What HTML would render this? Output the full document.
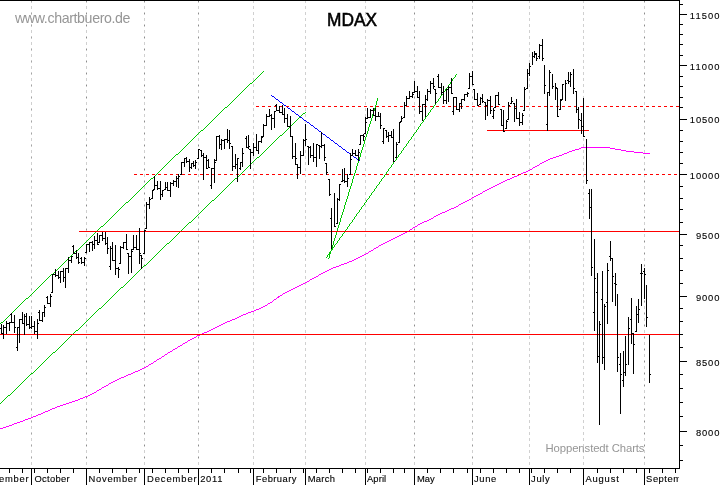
<!DOCTYPE html>
<html><head><meta charset="utf-8"><title>MDAX</title>
<style>
html,body{margin:0;padding:0;background:#fff;}
body{width:723px;height:485px;overflow:hidden;}
svg{display:block;font-family:"Liberation Sans",sans-serif;}
#wrap{will-change:transform;}
</style></head><body><div id="wrap">
<svg width="723" height="485" viewBox="0 0 723 485" shape-rendering="crispEdges">
<rect x="0" y="0" width="723" height="485" fill="#fff"/>
<g><rect x="31" y="0" width="1" height="3" fill="#cacaca"/><rect x="31" y="1" width="1" height="1" fill="#a4a4a4"/><rect x="31" y="6" width="1" height="3" fill="#d0d0d0"/><rect x="31" y="12" width="1" height="3" fill="#cacaca"/><rect x="31" y="13" width="1" height="1" fill="#a4a4a4"/><rect x="31" y="18" width="1" height="3" fill="#d0d0d0"/><rect x="31" y="24" width="1" height="3" fill="#cacaca"/><rect x="31" y="25" width="1" height="1" fill="#a4a4a4"/><rect x="31" y="30" width="1" height="3" fill="#d0d0d0"/><rect x="31" y="36" width="1" height="3" fill="#cacaca"/><rect x="31" y="37" width="1" height="1" fill="#a4a4a4"/><rect x="31" y="42" width="1" height="3" fill="#d0d0d0"/><rect x="31" y="48" width="1" height="3" fill="#cacaca"/><rect x="31" y="49" width="1" height="1" fill="#a4a4a4"/><rect x="31" y="54" width="1" height="3" fill="#d0d0d0"/><rect x="31" y="60" width="1" height="3" fill="#cacaca"/><rect x="31" y="61" width="1" height="1" fill="#a4a4a4"/><rect x="31" y="66" width="1" height="3" fill="#d0d0d0"/><rect x="31" y="72" width="1" height="3" fill="#cacaca"/><rect x="31" y="73" width="1" height="1" fill="#a4a4a4"/><rect x="31" y="78" width="1" height="3" fill="#d0d0d0"/><rect x="31" y="84" width="1" height="3" fill="#cacaca"/><rect x="31" y="85" width="1" height="1" fill="#a4a4a4"/><rect x="31" y="90" width="1" height="3" fill="#d0d0d0"/><rect x="31" y="96" width="1" height="3" fill="#cacaca"/><rect x="31" y="97" width="1" height="1" fill="#a4a4a4"/><rect x="31" y="102" width="1" height="3" fill="#d0d0d0"/><rect x="31" y="108" width="1" height="3" fill="#cacaca"/><rect x="31" y="109" width="1" height="1" fill="#a4a4a4"/><rect x="31" y="114" width="1" height="3" fill="#d0d0d0"/><rect x="31" y="120" width="1" height="3" fill="#cacaca"/><rect x="31" y="121" width="1" height="1" fill="#a4a4a4"/><rect x="31" y="126" width="1" height="3" fill="#d0d0d0"/><rect x="31" y="132" width="1" height="3" fill="#cacaca"/><rect x="31" y="133" width="1" height="1" fill="#a4a4a4"/><rect x="31" y="138" width="1" height="3" fill="#d0d0d0"/><rect x="31" y="144" width="1" height="3" fill="#cacaca"/><rect x="31" y="145" width="1" height="1" fill="#a4a4a4"/><rect x="31" y="150" width="1" height="3" fill="#d0d0d0"/><rect x="31" y="156" width="1" height="3" fill="#cacaca"/><rect x="31" y="157" width="1" height="1" fill="#a4a4a4"/><rect x="31" y="162" width="1" height="3" fill="#d0d0d0"/><rect x="31" y="168" width="1" height="3" fill="#cacaca"/><rect x="31" y="169" width="1" height="1" fill="#a4a4a4"/><rect x="31" y="174" width="1" height="3" fill="#d0d0d0"/><rect x="31" y="180" width="1" height="3" fill="#cacaca"/><rect x="31" y="181" width="1" height="1" fill="#a4a4a4"/><rect x="31" y="186" width="1" height="3" fill="#d0d0d0"/><rect x="31" y="192" width="1" height="3" fill="#cacaca"/><rect x="31" y="193" width="1" height="1" fill="#a4a4a4"/><rect x="31" y="198" width="1" height="3" fill="#d0d0d0"/><rect x="31" y="204" width="1" height="3" fill="#cacaca"/><rect x="31" y="205" width="1" height="1" fill="#a4a4a4"/><rect x="31" y="210" width="1" height="3" fill="#d0d0d0"/><rect x="31" y="216" width="1" height="3" fill="#cacaca"/><rect x="31" y="217" width="1" height="1" fill="#a4a4a4"/><rect x="31" y="222" width="1" height="3" fill="#d0d0d0"/><rect x="31" y="228" width="1" height="3" fill="#cacaca"/><rect x="31" y="229" width="1" height="1" fill="#a4a4a4"/><rect x="31" y="234" width="1" height="3" fill="#d0d0d0"/><rect x="31" y="240" width="1" height="3" fill="#cacaca"/><rect x="31" y="241" width="1" height="1" fill="#a4a4a4"/><rect x="31" y="246" width="1" height="3" fill="#d0d0d0"/><rect x="31" y="252" width="1" height="3" fill="#cacaca"/><rect x="31" y="253" width="1" height="1" fill="#a4a4a4"/><rect x="31" y="258" width="1" height="3" fill="#d0d0d0"/><rect x="31" y="264" width="1" height="3" fill="#cacaca"/><rect x="31" y="265" width="1" height="1" fill="#a4a4a4"/><rect x="31" y="270" width="1" height="3" fill="#d0d0d0"/><rect x="31" y="276" width="1" height="3" fill="#cacaca"/><rect x="31" y="277" width="1" height="1" fill="#a4a4a4"/><rect x="31" y="282" width="1" height="3" fill="#d0d0d0"/><rect x="31" y="288" width="1" height="3" fill="#cacaca"/><rect x="31" y="289" width="1" height="1" fill="#a4a4a4"/><rect x="31" y="294" width="1" height="3" fill="#d0d0d0"/><rect x="31" y="300" width="1" height="3" fill="#cacaca"/><rect x="31" y="301" width="1" height="1" fill="#a4a4a4"/><rect x="31" y="306" width="1" height="3" fill="#d0d0d0"/><rect x="31" y="312" width="1" height="3" fill="#cacaca"/><rect x="31" y="313" width="1" height="1" fill="#a4a4a4"/><rect x="31" y="318" width="1" height="3" fill="#d0d0d0"/><rect x="31" y="324" width="1" height="3" fill="#cacaca"/><rect x="31" y="325" width="1" height="1" fill="#a4a4a4"/><rect x="31" y="330" width="1" height="3" fill="#d0d0d0"/><rect x="31" y="336" width="1" height="3" fill="#cacaca"/><rect x="31" y="337" width="1" height="1" fill="#a4a4a4"/><rect x="31" y="342" width="1" height="3" fill="#d0d0d0"/><rect x="31" y="348" width="1" height="3" fill="#cacaca"/><rect x="31" y="349" width="1" height="1" fill="#a4a4a4"/><rect x="31" y="354" width="1" height="3" fill="#d0d0d0"/><rect x="31" y="360" width="1" height="3" fill="#cacaca"/><rect x="31" y="361" width="1" height="1" fill="#a4a4a4"/><rect x="31" y="366" width="1" height="3" fill="#d0d0d0"/><rect x="31" y="372" width="1" height="3" fill="#cacaca"/><rect x="31" y="373" width="1" height="1" fill="#a4a4a4"/><rect x="31" y="378" width="1" height="3" fill="#d0d0d0"/><rect x="31" y="384" width="1" height="3" fill="#cacaca"/><rect x="31" y="385" width="1" height="1" fill="#a4a4a4"/><rect x="31" y="390" width="1" height="3" fill="#d0d0d0"/><rect x="31" y="396" width="1" height="3" fill="#cacaca"/><rect x="31" y="397" width="1" height="1" fill="#a4a4a4"/><rect x="31" y="402" width="1" height="3" fill="#d0d0d0"/><rect x="31" y="408" width="1" height="3" fill="#cacaca"/><rect x="31" y="409" width="1" height="1" fill="#a4a4a4"/><rect x="31" y="414" width="1" height="3" fill="#d0d0d0"/><rect x="31" y="420" width="1" height="3" fill="#cacaca"/><rect x="31" y="421" width="1" height="1" fill="#a4a4a4"/><rect x="31" y="426" width="1" height="3" fill="#d0d0d0"/><rect x="31" y="432" width="1" height="3" fill="#cacaca"/><rect x="31" y="433" width="1" height="1" fill="#a4a4a4"/><rect x="31" y="438" width="1" height="3" fill="#d0d0d0"/><rect x="31" y="444" width="1" height="3" fill="#cacaca"/><rect x="31" y="445" width="1" height="1" fill="#a4a4a4"/><rect x="31" y="450" width="1" height="3" fill="#d0d0d0"/><rect x="31" y="456" width="1" height="3" fill="#cacaca"/><rect x="31" y="457" width="1" height="1" fill="#a4a4a4"/><rect x="31" y="462" width="1" height="3" fill="#d0d0d0"/><rect x="86" y="0" width="1" height="3" fill="#cacaca"/><rect x="86" y="1" width="1" height="1" fill="#8c8c8c"/><rect x="86" y="6" width="1" height="3" fill="#d0d0d0"/><rect x="86" y="12" width="1" height="3" fill="#cacaca"/><rect x="86" y="13" width="1" height="1" fill="#8c8c8c"/><rect x="86" y="18" width="1" height="3" fill="#d0d0d0"/><rect x="86" y="24" width="1" height="3" fill="#cacaca"/><rect x="86" y="25" width="1" height="1" fill="#8c8c8c"/><rect x="86" y="30" width="1" height="3" fill="#d0d0d0"/><rect x="86" y="36" width="1" height="3" fill="#cacaca"/><rect x="86" y="37" width="1" height="1" fill="#8c8c8c"/><rect x="86" y="42" width="1" height="3" fill="#d0d0d0"/><rect x="86" y="48" width="1" height="3" fill="#cacaca"/><rect x="86" y="49" width="1" height="1" fill="#8c8c8c"/><rect x="86" y="54" width="1" height="3" fill="#d0d0d0"/><rect x="86" y="60" width="1" height="3" fill="#cacaca"/><rect x="86" y="61" width="1" height="1" fill="#8c8c8c"/><rect x="86" y="66" width="1" height="3" fill="#d0d0d0"/><rect x="86" y="72" width="1" height="3" fill="#cacaca"/><rect x="86" y="73" width="1" height="1" fill="#8c8c8c"/><rect x="86" y="78" width="1" height="3" fill="#d0d0d0"/><rect x="86" y="84" width="1" height="3" fill="#cacaca"/><rect x="86" y="85" width="1" height="1" fill="#8c8c8c"/><rect x="86" y="90" width="1" height="3" fill="#d0d0d0"/><rect x="86" y="96" width="1" height="3" fill="#cacaca"/><rect x="86" y="97" width="1" height="1" fill="#8c8c8c"/><rect x="86" y="102" width="1" height="3" fill="#d0d0d0"/><rect x="86" y="108" width="1" height="3" fill="#cacaca"/><rect x="86" y="109" width="1" height="1" fill="#8c8c8c"/><rect x="86" y="114" width="1" height="3" fill="#d0d0d0"/><rect x="86" y="120" width="1" height="3" fill="#cacaca"/><rect x="86" y="121" width="1" height="1" fill="#8c8c8c"/><rect x="86" y="126" width="1" height="3" fill="#d0d0d0"/><rect x="86" y="132" width="1" height="3" fill="#cacaca"/><rect x="86" y="133" width="1" height="1" fill="#8c8c8c"/><rect x="86" y="138" width="1" height="3" fill="#d0d0d0"/><rect x="86" y="144" width="1" height="3" fill="#cacaca"/><rect x="86" y="145" width="1" height="1" fill="#8c8c8c"/><rect x="86" y="150" width="1" height="3" fill="#d0d0d0"/><rect x="86" y="156" width="1" height="3" fill="#cacaca"/><rect x="86" y="157" width="1" height="1" fill="#8c8c8c"/><rect x="86" y="162" width="1" height="3" fill="#d0d0d0"/><rect x="86" y="168" width="1" height="3" fill="#cacaca"/><rect x="86" y="169" width="1" height="1" fill="#8c8c8c"/><rect x="86" y="174" width="1" height="3" fill="#d0d0d0"/><rect x="86" y="180" width="1" height="3" fill="#cacaca"/><rect x="86" y="181" width="1" height="1" fill="#8c8c8c"/><rect x="86" y="186" width="1" height="3" fill="#d0d0d0"/><rect x="86" y="192" width="1" height="3" fill="#cacaca"/><rect x="86" y="193" width="1" height="1" fill="#8c8c8c"/><rect x="86" y="198" width="1" height="3" fill="#d0d0d0"/><rect x="86" y="204" width="1" height="3" fill="#cacaca"/><rect x="86" y="205" width="1" height="1" fill="#8c8c8c"/><rect x="86" y="210" width="1" height="3" fill="#d0d0d0"/><rect x="86" y="216" width="1" height="3" fill="#cacaca"/><rect x="86" y="217" width="1" height="1" fill="#8c8c8c"/><rect x="86" y="222" width="1" height="3" fill="#d0d0d0"/><rect x="86" y="228" width="1" height="3" fill="#cacaca"/><rect x="86" y="229" width="1" height="1" fill="#8c8c8c"/><rect x="86" y="234" width="1" height="3" fill="#d0d0d0"/><rect x="86" y="240" width="1" height="3" fill="#cacaca"/><rect x="86" y="241" width="1" height="1" fill="#8c8c8c"/><rect x="86" y="246" width="1" height="3" fill="#d0d0d0"/><rect x="86" y="252" width="1" height="3" fill="#cacaca"/><rect x="86" y="253" width="1" height="1" fill="#8c8c8c"/><rect x="86" y="258" width="1" height="3" fill="#d0d0d0"/><rect x="86" y="264" width="1" height="3" fill="#cacaca"/><rect x="86" y="265" width="1" height="1" fill="#8c8c8c"/><rect x="86" y="270" width="1" height="3" fill="#d0d0d0"/><rect x="86" y="276" width="1" height="3" fill="#cacaca"/><rect x="86" y="277" width="1" height="1" fill="#8c8c8c"/><rect x="86" y="282" width="1" height="3" fill="#d0d0d0"/><rect x="86" y="288" width="1" height="3" fill="#cacaca"/><rect x="86" y="289" width="1" height="1" fill="#8c8c8c"/><rect x="86" y="294" width="1" height="3" fill="#d0d0d0"/><rect x="86" y="300" width="1" height="3" fill="#cacaca"/><rect x="86" y="301" width="1" height="1" fill="#8c8c8c"/><rect x="86" y="306" width="1" height="3" fill="#d0d0d0"/><rect x="86" y="312" width="1" height="3" fill="#cacaca"/><rect x="86" y="313" width="1" height="1" fill="#8c8c8c"/><rect x="86" y="318" width="1" height="3" fill="#d0d0d0"/><rect x="86" y="324" width="1" height="3" fill="#cacaca"/><rect x="86" y="325" width="1" height="1" fill="#8c8c8c"/><rect x="86" y="330" width="1" height="3" fill="#d0d0d0"/><rect x="86" y="336" width="1" height="3" fill="#cacaca"/><rect x="86" y="337" width="1" height="1" fill="#8c8c8c"/><rect x="86" y="342" width="1" height="3" fill="#d0d0d0"/><rect x="86" y="348" width="1" height="3" fill="#cacaca"/><rect x="86" y="349" width="1" height="1" fill="#8c8c8c"/><rect x="86" y="354" width="1" height="3" fill="#d0d0d0"/><rect x="86" y="360" width="1" height="3" fill="#cacaca"/><rect x="86" y="361" width="1" height="1" fill="#8c8c8c"/><rect x="86" y="366" width="1" height="3" fill="#d0d0d0"/><rect x="86" y="372" width="1" height="3" fill="#cacaca"/><rect x="86" y="373" width="1" height="1" fill="#8c8c8c"/><rect x="86" y="378" width="1" height="3" fill="#d0d0d0"/><rect x="86" y="384" width="1" height="3" fill="#cacaca"/><rect x="86" y="385" width="1" height="1" fill="#8c8c8c"/><rect x="86" y="390" width="1" height="3" fill="#d0d0d0"/><rect x="86" y="396" width="1" height="3" fill="#cacaca"/><rect x="86" y="397" width="1" height="1" fill="#8c8c8c"/><rect x="86" y="402" width="1" height="3" fill="#d0d0d0"/><rect x="86" y="408" width="1" height="3" fill="#cacaca"/><rect x="86" y="409" width="1" height="1" fill="#8c8c8c"/><rect x="86" y="414" width="1" height="3" fill="#d0d0d0"/><rect x="86" y="420" width="1" height="3" fill="#cacaca"/><rect x="86" y="421" width="1" height="1" fill="#8c8c8c"/><rect x="86" y="426" width="1" height="3" fill="#d0d0d0"/><rect x="86" y="432" width="1" height="3" fill="#cacaca"/><rect x="86" y="433" width="1" height="1" fill="#8c8c8c"/><rect x="86" y="438" width="1" height="3" fill="#d0d0d0"/><rect x="86" y="444" width="1" height="3" fill="#cacaca"/><rect x="86" y="445" width="1" height="1" fill="#8c8c8c"/><rect x="86" y="450" width="1" height="3" fill="#d0d0d0"/><rect x="86" y="456" width="1" height="3" fill="#cacaca"/><rect x="86" y="457" width="1" height="1" fill="#8c8c8c"/><rect x="86" y="462" width="1" height="3" fill="#d0d0d0"/><rect x="144" y="0" width="1" height="3" fill="#cacaca"/><rect x="144" y="1" width="1" height="1" fill="#8c8c8c"/><rect x="144" y="6" width="1" height="3" fill="#d0d0d0"/><rect x="144" y="12" width="1" height="3" fill="#cacaca"/><rect x="144" y="13" width="1" height="1" fill="#8c8c8c"/><rect x="144" y="18" width="1" height="3" fill="#d0d0d0"/><rect x="144" y="24" width="1" height="3" fill="#cacaca"/><rect x="144" y="25" width="1" height="1" fill="#8c8c8c"/><rect x="144" y="30" width="1" height="3" fill="#d0d0d0"/><rect x="144" y="36" width="1" height="3" fill="#cacaca"/><rect x="144" y="37" width="1" height="1" fill="#8c8c8c"/><rect x="144" y="42" width="1" height="3" fill="#d0d0d0"/><rect x="144" y="48" width="1" height="3" fill="#cacaca"/><rect x="144" y="49" width="1" height="1" fill="#8c8c8c"/><rect x="144" y="54" width="1" height="3" fill="#d0d0d0"/><rect x="144" y="60" width="1" height="3" fill="#cacaca"/><rect x="144" y="61" width="1" height="1" fill="#8c8c8c"/><rect x="144" y="66" width="1" height="3" fill="#d0d0d0"/><rect x="144" y="72" width="1" height="3" fill="#cacaca"/><rect x="144" y="73" width="1" height="1" fill="#8c8c8c"/><rect x="144" y="78" width="1" height="3" fill="#d0d0d0"/><rect x="144" y="84" width="1" height="3" fill="#cacaca"/><rect x="144" y="85" width="1" height="1" fill="#8c8c8c"/><rect x="144" y="90" width="1" height="3" fill="#d0d0d0"/><rect x="144" y="96" width="1" height="3" fill="#cacaca"/><rect x="144" y="97" width="1" height="1" fill="#8c8c8c"/><rect x="144" y="102" width="1" height="3" fill="#d0d0d0"/><rect x="144" y="108" width="1" height="3" fill="#cacaca"/><rect x="144" y="109" width="1" height="1" fill="#8c8c8c"/><rect x="144" y="114" width="1" height="3" fill="#d0d0d0"/><rect x="144" y="120" width="1" height="3" fill="#cacaca"/><rect x="144" y="121" width="1" height="1" fill="#8c8c8c"/><rect x="144" y="126" width="1" height="3" fill="#d0d0d0"/><rect x="144" y="132" width="1" height="3" fill="#cacaca"/><rect x="144" y="133" width="1" height="1" fill="#8c8c8c"/><rect x="144" y="138" width="1" height="3" fill="#d0d0d0"/><rect x="144" y="144" width="1" height="3" fill="#cacaca"/><rect x="144" y="145" width="1" height="1" fill="#8c8c8c"/><rect x="144" y="150" width="1" height="3" fill="#d0d0d0"/><rect x="144" y="156" width="1" height="3" fill="#cacaca"/><rect x="144" y="157" width="1" height="1" fill="#8c8c8c"/><rect x="144" y="162" width="1" height="3" fill="#d0d0d0"/><rect x="144" y="168" width="1" height="3" fill="#cacaca"/><rect x="144" y="169" width="1" height="1" fill="#8c8c8c"/><rect x="144" y="174" width="1" height="3" fill="#d0d0d0"/><rect x="144" y="180" width="1" height="3" fill="#cacaca"/><rect x="144" y="181" width="1" height="1" fill="#8c8c8c"/><rect x="144" y="186" width="1" height="3" fill="#d0d0d0"/><rect x="144" y="192" width="1" height="3" fill="#cacaca"/><rect x="144" y="193" width="1" height="1" fill="#8c8c8c"/><rect x="144" y="198" width="1" height="3" fill="#d0d0d0"/><rect x="144" y="204" width="1" height="3" fill="#cacaca"/><rect x="144" y="205" width="1" height="1" fill="#8c8c8c"/><rect x="144" y="210" width="1" height="3" fill="#d0d0d0"/><rect x="144" y="216" width="1" height="3" fill="#cacaca"/><rect x="144" y="217" width="1" height="1" fill="#8c8c8c"/><rect x="144" y="222" width="1" height="3" fill="#d0d0d0"/><rect x="144" y="228" width="1" height="3" fill="#cacaca"/><rect x="144" y="229" width="1" height="1" fill="#8c8c8c"/><rect x="144" y="234" width="1" height="3" fill="#d0d0d0"/><rect x="144" y="240" width="1" height="3" fill="#cacaca"/><rect x="144" y="241" width="1" height="1" fill="#8c8c8c"/><rect x="144" y="246" width="1" height="3" fill="#d0d0d0"/><rect x="144" y="252" width="1" height="3" fill="#cacaca"/><rect x="144" y="253" width="1" height="1" fill="#8c8c8c"/><rect x="144" y="258" width="1" height="3" fill="#d0d0d0"/><rect x="144" y="264" width="1" height="3" fill="#cacaca"/><rect x="144" y="265" width="1" height="1" fill="#8c8c8c"/><rect x="144" y="270" width="1" height="3" fill="#d0d0d0"/><rect x="144" y="276" width="1" height="3" fill="#cacaca"/><rect x="144" y="277" width="1" height="1" fill="#8c8c8c"/><rect x="144" y="282" width="1" height="3" fill="#d0d0d0"/><rect x="144" y="288" width="1" height="3" fill="#cacaca"/><rect x="144" y="289" width="1" height="1" fill="#8c8c8c"/><rect x="144" y="294" width="1" height="3" fill="#d0d0d0"/><rect x="144" y="300" width="1" height="3" fill="#cacaca"/><rect x="144" y="301" width="1" height="1" fill="#8c8c8c"/><rect x="144" y="306" width="1" height="3" fill="#d0d0d0"/><rect x="144" y="312" width="1" height="3" fill="#cacaca"/><rect x="144" y="313" width="1" height="1" fill="#8c8c8c"/><rect x="144" y="318" width="1" height="3" fill="#d0d0d0"/><rect x="144" y="324" width="1" height="3" fill="#cacaca"/><rect x="144" y="325" width="1" height="1" fill="#8c8c8c"/><rect x="144" y="330" width="1" height="3" fill="#d0d0d0"/><rect x="144" y="336" width="1" height="3" fill="#cacaca"/><rect x="144" y="337" width="1" height="1" fill="#8c8c8c"/><rect x="144" y="342" width="1" height="3" fill="#d0d0d0"/><rect x="144" y="348" width="1" height="3" fill="#cacaca"/><rect x="144" y="349" width="1" height="1" fill="#8c8c8c"/><rect x="144" y="354" width="1" height="3" fill="#d0d0d0"/><rect x="144" y="360" width="1" height="3" fill="#cacaca"/><rect x="144" y="361" width="1" height="1" fill="#8c8c8c"/><rect x="144" y="366" width="1" height="3" fill="#d0d0d0"/><rect x="144" y="372" width="1" height="3" fill="#cacaca"/><rect x="144" y="373" width="1" height="1" fill="#8c8c8c"/><rect x="144" y="378" width="1" height="3" fill="#d0d0d0"/><rect x="144" y="384" width="1" height="3" fill="#cacaca"/><rect x="144" y="385" width="1" height="1" fill="#8c8c8c"/><rect x="144" y="390" width="1" height="3" fill="#d0d0d0"/><rect x="144" y="396" width="1" height="3" fill="#cacaca"/><rect x="144" y="397" width="1" height="1" fill="#8c8c8c"/><rect x="144" y="402" width="1" height="3" fill="#d0d0d0"/><rect x="144" y="408" width="1" height="3" fill="#cacaca"/><rect x="144" y="409" width="1" height="1" fill="#8c8c8c"/><rect x="144" y="414" width="1" height="3" fill="#d0d0d0"/><rect x="144" y="420" width="1" height="3" fill="#cacaca"/><rect x="144" y="421" width="1" height="1" fill="#8c8c8c"/><rect x="144" y="426" width="1" height="3" fill="#d0d0d0"/><rect x="144" y="432" width="1" height="3" fill="#cacaca"/><rect x="144" y="433" width="1" height="1" fill="#8c8c8c"/><rect x="144" y="438" width="1" height="3" fill="#d0d0d0"/><rect x="144" y="444" width="1" height="3" fill="#cacaca"/><rect x="144" y="445" width="1" height="1" fill="#8c8c8c"/><rect x="144" y="450" width="1" height="3" fill="#d0d0d0"/><rect x="144" y="456" width="1" height="3" fill="#cacaca"/><rect x="144" y="457" width="1" height="1" fill="#8c8c8c"/><rect x="144" y="462" width="1" height="3" fill="#d0d0d0"/><rect x="198" y="0" width="1" height="3" fill="#cacaca"/><rect x="198" y="1" width="1" height="1" fill="#8c8c8c"/><rect x="198" y="6" width="1" height="3" fill="#d0d0d0"/><rect x="198" y="12" width="1" height="3" fill="#cacaca"/><rect x="198" y="13" width="1" height="1" fill="#8c8c8c"/><rect x="198" y="18" width="1" height="3" fill="#d0d0d0"/><rect x="198" y="24" width="1" height="3" fill="#cacaca"/><rect x="198" y="25" width="1" height="1" fill="#8c8c8c"/><rect x="198" y="30" width="1" height="3" fill="#d0d0d0"/><rect x="198" y="36" width="1" height="3" fill="#cacaca"/><rect x="198" y="37" width="1" height="1" fill="#8c8c8c"/><rect x="198" y="42" width="1" height="3" fill="#d0d0d0"/><rect x="198" y="48" width="1" height="3" fill="#cacaca"/><rect x="198" y="49" width="1" height="1" fill="#8c8c8c"/><rect x="198" y="54" width="1" height="3" fill="#d0d0d0"/><rect x="198" y="60" width="1" height="3" fill="#cacaca"/><rect x="198" y="61" width="1" height="1" fill="#8c8c8c"/><rect x="198" y="66" width="1" height="3" fill="#d0d0d0"/><rect x="198" y="72" width="1" height="3" fill="#cacaca"/><rect x="198" y="73" width="1" height="1" fill="#8c8c8c"/><rect x="198" y="78" width="1" height="3" fill="#d0d0d0"/><rect x="198" y="84" width="1" height="3" fill="#cacaca"/><rect x="198" y="85" width="1" height="1" fill="#8c8c8c"/><rect x="198" y="90" width="1" height="3" fill="#d0d0d0"/><rect x="198" y="96" width="1" height="3" fill="#cacaca"/><rect x="198" y="97" width="1" height="1" fill="#8c8c8c"/><rect x="198" y="102" width="1" height="3" fill="#d0d0d0"/><rect x="198" y="108" width="1" height="3" fill="#cacaca"/><rect x="198" y="109" width="1" height="1" fill="#8c8c8c"/><rect x="198" y="114" width="1" height="3" fill="#d0d0d0"/><rect x="198" y="120" width="1" height="3" fill="#cacaca"/><rect x="198" y="121" width="1" height="1" fill="#8c8c8c"/><rect x="198" y="126" width="1" height="3" fill="#d0d0d0"/><rect x="198" y="132" width="1" height="3" fill="#cacaca"/><rect x="198" y="133" width="1" height="1" fill="#8c8c8c"/><rect x="198" y="138" width="1" height="3" fill="#d0d0d0"/><rect x="198" y="144" width="1" height="3" fill="#cacaca"/><rect x="198" y="145" width="1" height="1" fill="#8c8c8c"/><rect x="198" y="150" width="1" height="3" fill="#d0d0d0"/><rect x="198" y="156" width="1" height="3" fill="#cacaca"/><rect x="198" y="157" width="1" height="1" fill="#8c8c8c"/><rect x="198" y="162" width="1" height="3" fill="#d0d0d0"/><rect x="198" y="168" width="1" height="3" fill="#cacaca"/><rect x="198" y="169" width="1" height="1" fill="#8c8c8c"/><rect x="198" y="174" width="1" height="3" fill="#d0d0d0"/><rect x="198" y="180" width="1" height="3" fill="#cacaca"/><rect x="198" y="181" width="1" height="1" fill="#8c8c8c"/><rect x="198" y="186" width="1" height="3" fill="#d0d0d0"/><rect x="198" y="192" width="1" height="3" fill="#cacaca"/><rect x="198" y="193" width="1" height="1" fill="#8c8c8c"/><rect x="198" y="198" width="1" height="3" fill="#d0d0d0"/><rect x="198" y="204" width="1" height="3" fill="#cacaca"/><rect x="198" y="205" width="1" height="1" fill="#8c8c8c"/><rect x="198" y="210" width="1" height="3" fill="#d0d0d0"/><rect x="198" y="216" width="1" height="3" fill="#cacaca"/><rect x="198" y="217" width="1" height="1" fill="#8c8c8c"/><rect x="198" y="222" width="1" height="3" fill="#d0d0d0"/><rect x="198" y="228" width="1" height="3" fill="#cacaca"/><rect x="198" y="229" width="1" height="1" fill="#8c8c8c"/><rect x="198" y="234" width="1" height="3" fill="#d0d0d0"/><rect x="198" y="240" width="1" height="3" fill="#cacaca"/><rect x="198" y="241" width="1" height="1" fill="#8c8c8c"/><rect x="198" y="246" width="1" height="3" fill="#d0d0d0"/><rect x="198" y="252" width="1" height="3" fill="#cacaca"/><rect x="198" y="253" width="1" height="1" fill="#8c8c8c"/><rect x="198" y="258" width="1" height="3" fill="#d0d0d0"/><rect x="198" y="264" width="1" height="3" fill="#cacaca"/><rect x="198" y="265" width="1" height="1" fill="#8c8c8c"/><rect x="198" y="270" width="1" height="3" fill="#d0d0d0"/><rect x="198" y="276" width="1" height="3" fill="#cacaca"/><rect x="198" y="277" width="1" height="1" fill="#8c8c8c"/><rect x="198" y="282" width="1" height="3" fill="#d0d0d0"/><rect x="198" y="288" width="1" height="3" fill="#cacaca"/><rect x="198" y="289" width="1" height="1" fill="#8c8c8c"/><rect x="198" y="294" width="1" height="3" fill="#d0d0d0"/><rect x="198" y="300" width="1" height="3" fill="#cacaca"/><rect x="198" y="301" width="1" height="1" fill="#8c8c8c"/><rect x="198" y="306" width="1" height="3" fill="#d0d0d0"/><rect x="198" y="312" width="1" height="3" fill="#cacaca"/><rect x="198" y="313" width="1" height="1" fill="#8c8c8c"/><rect x="198" y="318" width="1" height="3" fill="#d0d0d0"/><rect x="198" y="324" width="1" height="3" fill="#cacaca"/><rect x="198" y="325" width="1" height="1" fill="#8c8c8c"/><rect x="198" y="330" width="1" height="3" fill="#d0d0d0"/><rect x="198" y="336" width="1" height="3" fill="#cacaca"/><rect x="198" y="337" width="1" height="1" fill="#8c8c8c"/><rect x="198" y="342" width="1" height="3" fill="#d0d0d0"/><rect x="198" y="348" width="1" height="3" fill="#cacaca"/><rect x="198" y="349" width="1" height="1" fill="#8c8c8c"/><rect x="198" y="354" width="1" height="3" fill="#d0d0d0"/><rect x="198" y="360" width="1" height="3" fill="#cacaca"/><rect x="198" y="361" width="1" height="1" fill="#8c8c8c"/><rect x="198" y="366" width="1" height="3" fill="#d0d0d0"/><rect x="198" y="372" width="1" height="3" fill="#cacaca"/><rect x="198" y="373" width="1" height="1" fill="#8c8c8c"/><rect x="198" y="378" width="1" height="3" fill="#d0d0d0"/><rect x="198" y="384" width="1" height="3" fill="#cacaca"/><rect x="198" y="385" width="1" height="1" fill="#8c8c8c"/><rect x="198" y="390" width="1" height="3" fill="#d0d0d0"/><rect x="198" y="396" width="1" height="3" fill="#cacaca"/><rect x="198" y="397" width="1" height="1" fill="#8c8c8c"/><rect x="198" y="402" width="1" height="3" fill="#d0d0d0"/><rect x="198" y="408" width="1" height="3" fill="#cacaca"/><rect x="198" y="409" width="1" height="1" fill="#8c8c8c"/><rect x="198" y="414" width="1" height="3" fill="#d0d0d0"/><rect x="198" y="420" width="1" height="3" fill="#cacaca"/><rect x="198" y="421" width="1" height="1" fill="#8c8c8c"/><rect x="198" y="426" width="1" height="3" fill="#d0d0d0"/><rect x="198" y="432" width="1" height="3" fill="#cacaca"/><rect x="198" y="433" width="1" height="1" fill="#8c8c8c"/><rect x="198" y="438" width="1" height="3" fill="#d0d0d0"/><rect x="198" y="444" width="1" height="3" fill="#cacaca"/><rect x="198" y="445" width="1" height="1" fill="#8c8c8c"/><rect x="198" y="450" width="1" height="3" fill="#d0d0d0"/><rect x="198" y="456" width="1" height="3" fill="#cacaca"/><rect x="198" y="457" width="1" height="1" fill="#8c8c8c"/><rect x="198" y="462" width="1" height="3" fill="#d0d0d0"/><rect x="253" y="0" width="1" height="3" fill="#d0d0d0"/><rect x="253" y="6" width="1" height="3" fill="#d0d0d0"/><rect x="253" y="12" width="1" height="3" fill="#d0d0d0"/><rect x="253" y="18" width="1" height="3" fill="#d0d0d0"/><rect x="253" y="24" width="1" height="3" fill="#d0d0d0"/><rect x="253" y="30" width="1" height="3" fill="#d0d0d0"/><rect x="253" y="36" width="1" height="3" fill="#d0d0d0"/><rect x="253" y="42" width="1" height="3" fill="#d0d0d0"/><rect x="253" y="48" width="1" height="3" fill="#d0d0d0"/><rect x="253" y="54" width="1" height="3" fill="#d0d0d0"/><rect x="253" y="60" width="1" height="3" fill="#d0d0d0"/><rect x="253" y="66" width="1" height="3" fill="#d0d0d0"/><rect x="253" y="72" width="1" height="3" fill="#d0d0d0"/><rect x="253" y="78" width="1" height="3" fill="#d0d0d0"/><rect x="253" y="84" width="1" height="3" fill="#d0d0d0"/><rect x="253" y="90" width="1" height="3" fill="#d0d0d0"/><rect x="253" y="96" width="1" height="3" fill="#d0d0d0"/><rect x="253" y="102" width="1" height="3" fill="#d0d0d0"/><rect x="253" y="108" width="1" height="3" fill="#d0d0d0"/><rect x="253" y="114" width="1" height="3" fill="#d0d0d0"/><rect x="253" y="120" width="1" height="3" fill="#d0d0d0"/><rect x="253" y="126" width="1" height="3" fill="#d0d0d0"/><rect x="253" y="132" width="1" height="3" fill="#d0d0d0"/><rect x="253" y="138" width="1" height="3" fill="#d0d0d0"/><rect x="253" y="144" width="1" height="3" fill="#d0d0d0"/><rect x="253" y="150" width="1" height="3" fill="#d0d0d0"/><rect x="253" y="156" width="1" height="3" fill="#d0d0d0"/><rect x="253" y="162" width="1" height="3" fill="#d0d0d0"/><rect x="253" y="168" width="1" height="3" fill="#d0d0d0"/><rect x="253" y="174" width="1" height="3" fill="#d0d0d0"/><rect x="253" y="180" width="1" height="3" fill="#d0d0d0"/><rect x="253" y="186" width="1" height="3" fill="#d0d0d0"/><rect x="253" y="192" width="1" height="3" fill="#d0d0d0"/><rect x="253" y="198" width="1" height="3" fill="#d0d0d0"/><rect x="253" y="204" width="1" height="3" fill="#d0d0d0"/><rect x="253" y="210" width="1" height="3" fill="#d0d0d0"/><rect x="253" y="216" width="1" height="3" fill="#d0d0d0"/><rect x="253" y="222" width="1" height="3" fill="#d0d0d0"/><rect x="253" y="228" width="1" height="3" fill="#d0d0d0"/><rect x="253" y="234" width="1" height="3" fill="#d0d0d0"/><rect x="253" y="240" width="1" height="3" fill="#d0d0d0"/><rect x="253" y="246" width="1" height="3" fill="#d0d0d0"/><rect x="253" y="252" width="1" height="3" fill="#d0d0d0"/><rect x="253" y="258" width="1" height="3" fill="#d0d0d0"/><rect x="253" y="264" width="1" height="3" fill="#d0d0d0"/><rect x="253" y="270" width="1" height="3" fill="#d0d0d0"/><rect x="253" y="276" width="1" height="3" fill="#d0d0d0"/><rect x="253" y="282" width="1" height="3" fill="#d0d0d0"/><rect x="253" y="288" width="1" height="3" fill="#d0d0d0"/><rect x="253" y="294" width="1" height="3" fill="#d0d0d0"/><rect x="253" y="300" width="1" height="3" fill="#d0d0d0"/><rect x="253" y="306" width="1" height="3" fill="#d0d0d0"/><rect x="253" y="312" width="1" height="3" fill="#d0d0d0"/><rect x="253" y="318" width="1" height="3" fill="#d0d0d0"/><rect x="253" y="324" width="1" height="3" fill="#d0d0d0"/><rect x="253" y="330" width="1" height="3" fill="#d0d0d0"/><rect x="253" y="336" width="1" height="3" fill="#d0d0d0"/><rect x="253" y="342" width="1" height="3" fill="#d0d0d0"/><rect x="253" y="348" width="1" height="3" fill="#d0d0d0"/><rect x="253" y="354" width="1" height="3" fill="#d0d0d0"/><rect x="253" y="360" width="1" height="3" fill="#d0d0d0"/><rect x="253" y="366" width="1" height="3" fill="#d0d0d0"/><rect x="253" y="372" width="1" height="3" fill="#d0d0d0"/><rect x="253" y="378" width="1" height="3" fill="#d0d0d0"/><rect x="253" y="384" width="1" height="3" fill="#d0d0d0"/><rect x="253" y="390" width="1" height="3" fill="#d0d0d0"/><rect x="253" y="396" width="1" height="3" fill="#d0d0d0"/><rect x="253" y="402" width="1" height="3" fill="#d0d0d0"/><rect x="253" y="408" width="1" height="3" fill="#d0d0d0"/><rect x="253" y="414" width="1" height="3" fill="#d0d0d0"/><rect x="253" y="420" width="1" height="3" fill="#d0d0d0"/><rect x="253" y="426" width="1" height="3" fill="#d0d0d0"/><rect x="253" y="432" width="1" height="3" fill="#d0d0d0"/><rect x="253" y="438" width="1" height="3" fill="#d0d0d0"/><rect x="253" y="444" width="1" height="3" fill="#d0d0d0"/><rect x="253" y="450" width="1" height="3" fill="#d0d0d0"/><rect x="253" y="456" width="1" height="3" fill="#d0d0d0"/><rect x="253" y="462" width="1" height="3" fill="#d0d0d0"/><rect x="305" y="0" width="1" height="3" fill="#d0d0d0"/><rect x="305" y="6" width="1" height="3" fill="#d0d0d0"/><rect x="305" y="12" width="1" height="3" fill="#d0d0d0"/><rect x="305" y="18" width="1" height="3" fill="#d0d0d0"/><rect x="305" y="24" width="1" height="3" fill="#d0d0d0"/><rect x="305" y="30" width="1" height="3" fill="#d0d0d0"/><rect x="305" y="36" width="1" height="3" fill="#d0d0d0"/><rect x="305" y="42" width="1" height="3" fill="#d0d0d0"/><rect x="305" y="48" width="1" height="3" fill="#d0d0d0"/><rect x="305" y="54" width="1" height="3" fill="#d0d0d0"/><rect x="305" y="60" width="1" height="3" fill="#d0d0d0"/><rect x="305" y="66" width="1" height="3" fill="#d0d0d0"/><rect x="305" y="72" width="1" height="3" fill="#d0d0d0"/><rect x="305" y="78" width="1" height="3" fill="#d0d0d0"/><rect x="305" y="84" width="1" height="3" fill="#d0d0d0"/><rect x="305" y="90" width="1" height="3" fill="#d0d0d0"/><rect x="305" y="96" width="1" height="3" fill="#d0d0d0"/><rect x="305" y="102" width="1" height="3" fill="#d0d0d0"/><rect x="305" y="108" width="1" height="3" fill="#d0d0d0"/><rect x="305" y="114" width="1" height="3" fill="#d0d0d0"/><rect x="305" y="120" width="1" height="3" fill="#d0d0d0"/><rect x="305" y="126" width="1" height="3" fill="#d0d0d0"/><rect x="305" y="132" width="1" height="3" fill="#d0d0d0"/><rect x="305" y="138" width="1" height="3" fill="#d0d0d0"/><rect x="305" y="144" width="1" height="3" fill="#d0d0d0"/><rect x="305" y="150" width="1" height="3" fill="#d0d0d0"/><rect x="305" y="156" width="1" height="3" fill="#d0d0d0"/><rect x="305" y="162" width="1" height="3" fill="#d0d0d0"/><rect x="305" y="168" width="1" height="3" fill="#d0d0d0"/><rect x="305" y="174" width="1" height="3" fill="#d0d0d0"/><rect x="305" y="180" width="1" height="3" fill="#d0d0d0"/><rect x="305" y="186" width="1" height="3" fill="#d0d0d0"/><rect x="305" y="192" width="1" height="3" fill="#d0d0d0"/><rect x="305" y="198" width="1" height="3" fill="#d0d0d0"/><rect x="305" y="204" width="1" height="3" fill="#d0d0d0"/><rect x="305" y="210" width="1" height="3" fill="#d0d0d0"/><rect x="305" y="216" width="1" height="3" fill="#d0d0d0"/><rect x="305" y="222" width="1" height="3" fill="#d0d0d0"/><rect x="305" y="228" width="1" height="3" fill="#d0d0d0"/><rect x="305" y="234" width="1" height="3" fill="#d0d0d0"/><rect x="305" y="240" width="1" height="3" fill="#d0d0d0"/><rect x="305" y="246" width="1" height="3" fill="#d0d0d0"/><rect x="305" y="252" width="1" height="3" fill="#d0d0d0"/><rect x="305" y="258" width="1" height="3" fill="#d0d0d0"/><rect x="305" y="264" width="1" height="3" fill="#d0d0d0"/><rect x="305" y="270" width="1" height="3" fill="#d0d0d0"/><rect x="305" y="276" width="1" height="3" fill="#d0d0d0"/><rect x="305" y="282" width="1" height="3" fill="#d0d0d0"/><rect x="305" y="288" width="1" height="3" fill="#d0d0d0"/><rect x="305" y="294" width="1" height="3" fill="#d0d0d0"/><rect x="305" y="300" width="1" height="3" fill="#d0d0d0"/><rect x="305" y="306" width="1" height="3" fill="#d0d0d0"/><rect x="305" y="312" width="1" height="3" fill="#d0d0d0"/><rect x="305" y="318" width="1" height="3" fill="#d0d0d0"/><rect x="305" y="324" width="1" height="3" fill="#d0d0d0"/><rect x="305" y="330" width="1" height="3" fill="#d0d0d0"/><rect x="305" y="336" width="1" height="3" fill="#d0d0d0"/><rect x="305" y="342" width="1" height="3" fill="#d0d0d0"/><rect x="305" y="348" width="1" height="3" fill="#d0d0d0"/><rect x="305" y="354" width="1" height="3" fill="#d0d0d0"/><rect x="305" y="360" width="1" height="3" fill="#d0d0d0"/><rect x="305" y="366" width="1" height="3" fill="#d0d0d0"/><rect x="305" y="372" width="1" height="3" fill="#d0d0d0"/><rect x="305" y="378" width="1" height="3" fill="#d0d0d0"/><rect x="305" y="384" width="1" height="3" fill="#d0d0d0"/><rect x="305" y="390" width="1" height="3" fill="#d0d0d0"/><rect x="305" y="396" width="1" height="3" fill="#d0d0d0"/><rect x="305" y="402" width="1" height="3" fill="#d0d0d0"/><rect x="305" y="408" width="1" height="3" fill="#d0d0d0"/><rect x="305" y="414" width="1" height="3" fill="#d0d0d0"/><rect x="305" y="420" width="1" height="3" fill="#d0d0d0"/><rect x="305" y="426" width="1" height="3" fill="#d0d0d0"/><rect x="305" y="432" width="1" height="3" fill="#d0d0d0"/><rect x="305" y="438" width="1" height="3" fill="#d0d0d0"/><rect x="305" y="444" width="1" height="3" fill="#d0d0d0"/><rect x="305" y="450" width="1" height="3" fill="#d0d0d0"/><rect x="305" y="456" width="1" height="3" fill="#d0d0d0"/><rect x="305" y="462" width="1" height="3" fill="#d0d0d0"/><rect x="365" y="0" width="1" height="3" fill="#d0d0d0"/><rect x="365" y="6" width="1" height="3" fill="#d0d0d0"/><rect x="365" y="12" width="1" height="3" fill="#d0d0d0"/><rect x="365" y="18" width="1" height="3" fill="#d0d0d0"/><rect x="365" y="24" width="1" height="3" fill="#d0d0d0"/><rect x="365" y="30" width="1" height="3" fill="#d0d0d0"/><rect x="365" y="36" width="1" height="3" fill="#d0d0d0"/><rect x="365" y="42" width="1" height="3" fill="#d0d0d0"/><rect x="365" y="48" width="1" height="3" fill="#d0d0d0"/><rect x="365" y="54" width="1" height="3" fill="#d0d0d0"/><rect x="365" y="60" width="1" height="3" fill="#d0d0d0"/><rect x="365" y="66" width="1" height="3" fill="#d0d0d0"/><rect x="365" y="72" width="1" height="3" fill="#d0d0d0"/><rect x="365" y="78" width="1" height="3" fill="#d0d0d0"/><rect x="365" y="84" width="1" height="3" fill="#d0d0d0"/><rect x="365" y="90" width="1" height="3" fill="#d0d0d0"/><rect x="365" y="96" width="1" height="3" fill="#d0d0d0"/><rect x="365" y="102" width="1" height="3" fill="#d0d0d0"/><rect x="365" y="108" width="1" height="3" fill="#d0d0d0"/><rect x="365" y="114" width="1" height="3" fill="#d0d0d0"/><rect x="365" y="120" width="1" height="3" fill="#d0d0d0"/><rect x="365" y="126" width="1" height="3" fill="#d0d0d0"/><rect x="365" y="132" width="1" height="3" fill="#d0d0d0"/><rect x="365" y="138" width="1" height="3" fill="#d0d0d0"/><rect x="365" y="144" width="1" height="3" fill="#d0d0d0"/><rect x="365" y="150" width="1" height="3" fill="#d0d0d0"/><rect x="365" y="156" width="1" height="3" fill="#d0d0d0"/><rect x="365" y="162" width="1" height="3" fill="#d0d0d0"/><rect x="365" y="168" width="1" height="3" fill="#d0d0d0"/><rect x="365" y="174" width="1" height="3" fill="#d0d0d0"/><rect x="365" y="180" width="1" height="3" fill="#d0d0d0"/><rect x="365" y="186" width="1" height="3" fill="#d0d0d0"/><rect x="365" y="192" width="1" height="3" fill="#d0d0d0"/><rect x="365" y="198" width="1" height="3" fill="#d0d0d0"/><rect x="365" y="204" width="1" height="3" fill="#d0d0d0"/><rect x="365" y="210" width="1" height="3" fill="#d0d0d0"/><rect x="365" y="216" width="1" height="3" fill="#d0d0d0"/><rect x="365" y="222" width="1" height="3" fill="#d0d0d0"/><rect x="365" y="228" width="1" height="3" fill="#d0d0d0"/><rect x="365" y="234" width="1" height="3" fill="#d0d0d0"/><rect x="365" y="240" width="1" height="3" fill="#d0d0d0"/><rect x="365" y="246" width="1" height="3" fill="#d0d0d0"/><rect x="365" y="252" width="1" height="3" fill="#d0d0d0"/><rect x="365" y="258" width="1" height="3" fill="#d0d0d0"/><rect x="365" y="264" width="1" height="3" fill="#d0d0d0"/><rect x="365" y="270" width="1" height="3" fill="#d0d0d0"/><rect x="365" y="276" width="1" height="3" fill="#d0d0d0"/><rect x="365" y="282" width="1" height="3" fill="#d0d0d0"/><rect x="365" y="288" width="1" height="3" fill="#d0d0d0"/><rect x="365" y="294" width="1" height="3" fill="#d0d0d0"/><rect x="365" y="300" width="1" height="3" fill="#d0d0d0"/><rect x="365" y="306" width="1" height="3" fill="#d0d0d0"/><rect x="365" y="312" width="1" height="3" fill="#d0d0d0"/><rect x="365" y="318" width="1" height="3" fill="#d0d0d0"/><rect x="365" y="324" width="1" height="3" fill="#d0d0d0"/><rect x="365" y="330" width="1" height="3" fill="#d0d0d0"/><rect x="365" y="336" width="1" height="3" fill="#d0d0d0"/><rect x="365" y="342" width="1" height="3" fill="#d0d0d0"/><rect x="365" y="348" width="1" height="3" fill="#d0d0d0"/><rect x="365" y="354" width="1" height="3" fill="#d0d0d0"/><rect x="365" y="360" width="1" height="3" fill="#d0d0d0"/><rect x="365" y="366" width="1" height="3" fill="#d0d0d0"/><rect x="365" y="372" width="1" height="3" fill="#d0d0d0"/><rect x="365" y="378" width="1" height="3" fill="#d0d0d0"/><rect x="365" y="384" width="1" height="3" fill="#d0d0d0"/><rect x="365" y="390" width="1" height="3" fill="#d0d0d0"/><rect x="365" y="396" width="1" height="3" fill="#d0d0d0"/><rect x="365" y="402" width="1" height="3" fill="#d0d0d0"/><rect x="365" y="408" width="1" height="3" fill="#d0d0d0"/><rect x="365" y="414" width="1" height="3" fill="#d0d0d0"/><rect x="365" y="420" width="1" height="3" fill="#d0d0d0"/><rect x="365" y="426" width="1" height="3" fill="#d0d0d0"/><rect x="365" y="432" width="1" height="3" fill="#d0d0d0"/><rect x="365" y="438" width="1" height="3" fill="#d0d0d0"/><rect x="365" y="444" width="1" height="3" fill="#d0d0d0"/><rect x="365" y="450" width="1" height="3" fill="#d0d0d0"/><rect x="365" y="456" width="1" height="3" fill="#d0d0d0"/><rect x="365" y="462" width="1" height="3" fill="#d0d0d0"/><rect x="414" y="0" width="1" height="3" fill="#cacaca"/><rect x="414" y="1" width="1" height="1" fill="#8c8c8c"/><rect x="414" y="6" width="1" height="3" fill="#d0d0d0"/><rect x="414" y="12" width="1" height="3" fill="#cacaca"/><rect x="414" y="13" width="1" height="1" fill="#8c8c8c"/><rect x="414" y="18" width="1" height="3" fill="#d0d0d0"/><rect x="414" y="24" width="1" height="3" fill="#cacaca"/><rect x="414" y="25" width="1" height="1" fill="#8c8c8c"/><rect x="414" y="30" width="1" height="3" fill="#d0d0d0"/><rect x="414" y="36" width="1" height="3" fill="#cacaca"/><rect x="414" y="37" width="1" height="1" fill="#8c8c8c"/><rect x="414" y="42" width="1" height="3" fill="#d0d0d0"/><rect x="414" y="48" width="1" height="3" fill="#cacaca"/><rect x="414" y="49" width="1" height="1" fill="#8c8c8c"/><rect x="414" y="54" width="1" height="3" fill="#d0d0d0"/><rect x="414" y="60" width="1" height="3" fill="#cacaca"/><rect x="414" y="61" width="1" height="1" fill="#8c8c8c"/><rect x="414" y="66" width="1" height="3" fill="#d0d0d0"/><rect x="414" y="72" width="1" height="3" fill="#cacaca"/><rect x="414" y="73" width="1" height="1" fill="#8c8c8c"/><rect x="414" y="78" width="1" height="3" fill="#d0d0d0"/><rect x="414" y="84" width="1" height="3" fill="#cacaca"/><rect x="414" y="85" width="1" height="1" fill="#8c8c8c"/><rect x="414" y="90" width="1" height="3" fill="#d0d0d0"/><rect x="414" y="96" width="1" height="3" fill="#cacaca"/><rect x="414" y="97" width="1" height="1" fill="#8c8c8c"/><rect x="414" y="102" width="1" height="3" fill="#d0d0d0"/><rect x="414" y="108" width="1" height="3" fill="#cacaca"/><rect x="414" y="109" width="1" height="1" fill="#8c8c8c"/><rect x="414" y="114" width="1" height="3" fill="#d0d0d0"/><rect x="414" y="120" width="1" height="3" fill="#cacaca"/><rect x="414" y="121" width="1" height="1" fill="#8c8c8c"/><rect x="414" y="126" width="1" height="3" fill="#d0d0d0"/><rect x="414" y="132" width="1" height="3" fill="#cacaca"/><rect x="414" y="133" width="1" height="1" fill="#8c8c8c"/><rect x="414" y="138" width="1" height="3" fill="#d0d0d0"/><rect x="414" y="144" width="1" height="3" fill="#cacaca"/><rect x="414" y="145" width="1" height="1" fill="#8c8c8c"/><rect x="414" y="150" width="1" height="3" fill="#d0d0d0"/><rect x="414" y="156" width="1" height="3" fill="#cacaca"/><rect x="414" y="157" width="1" height="1" fill="#8c8c8c"/><rect x="414" y="162" width="1" height="3" fill="#d0d0d0"/><rect x="414" y="168" width="1" height="3" fill="#cacaca"/><rect x="414" y="169" width="1" height="1" fill="#8c8c8c"/><rect x="414" y="174" width="1" height="3" fill="#d0d0d0"/><rect x="414" y="180" width="1" height="3" fill="#cacaca"/><rect x="414" y="181" width="1" height="1" fill="#8c8c8c"/><rect x="414" y="186" width="1" height="3" fill="#d0d0d0"/><rect x="414" y="192" width="1" height="3" fill="#cacaca"/><rect x="414" y="193" width="1" height="1" fill="#8c8c8c"/><rect x="414" y="198" width="1" height="3" fill="#d0d0d0"/><rect x="414" y="204" width="1" height="3" fill="#cacaca"/><rect x="414" y="205" width="1" height="1" fill="#8c8c8c"/><rect x="414" y="210" width="1" height="3" fill="#d0d0d0"/><rect x="414" y="216" width="1" height="3" fill="#cacaca"/><rect x="414" y="217" width="1" height="1" fill="#8c8c8c"/><rect x="414" y="222" width="1" height="3" fill="#d0d0d0"/><rect x="414" y="228" width="1" height="3" fill="#cacaca"/><rect x="414" y="229" width="1" height="1" fill="#8c8c8c"/><rect x="414" y="234" width="1" height="3" fill="#d0d0d0"/><rect x="414" y="240" width="1" height="3" fill="#cacaca"/><rect x="414" y="241" width="1" height="1" fill="#8c8c8c"/><rect x="414" y="246" width="1" height="3" fill="#d0d0d0"/><rect x="414" y="252" width="1" height="3" fill="#cacaca"/><rect x="414" y="253" width="1" height="1" fill="#8c8c8c"/><rect x="414" y="258" width="1" height="3" fill="#d0d0d0"/><rect x="414" y="264" width="1" height="3" fill="#cacaca"/><rect x="414" y="265" width="1" height="1" fill="#8c8c8c"/><rect x="414" y="270" width="1" height="3" fill="#d0d0d0"/><rect x="414" y="276" width="1" height="3" fill="#cacaca"/><rect x="414" y="277" width="1" height="1" fill="#8c8c8c"/><rect x="414" y="282" width="1" height="3" fill="#d0d0d0"/><rect x="414" y="288" width="1" height="3" fill="#cacaca"/><rect x="414" y="289" width="1" height="1" fill="#8c8c8c"/><rect x="414" y="294" width="1" height="3" fill="#d0d0d0"/><rect x="414" y="300" width="1" height="3" fill="#cacaca"/><rect x="414" y="301" width="1" height="1" fill="#8c8c8c"/><rect x="414" y="306" width="1" height="3" fill="#d0d0d0"/><rect x="414" y="312" width="1" height="3" fill="#cacaca"/><rect x="414" y="313" width="1" height="1" fill="#8c8c8c"/><rect x="414" y="318" width="1" height="3" fill="#d0d0d0"/><rect x="414" y="324" width="1" height="3" fill="#cacaca"/><rect x="414" y="325" width="1" height="1" fill="#8c8c8c"/><rect x="414" y="330" width="1" height="3" fill="#d0d0d0"/><rect x="414" y="336" width="1" height="3" fill="#cacaca"/><rect x="414" y="337" width="1" height="1" fill="#8c8c8c"/><rect x="414" y="342" width="1" height="3" fill="#d0d0d0"/><rect x="414" y="348" width="1" height="3" fill="#cacaca"/><rect x="414" y="349" width="1" height="1" fill="#8c8c8c"/><rect x="414" y="354" width="1" height="3" fill="#d0d0d0"/><rect x="414" y="360" width="1" height="3" fill="#cacaca"/><rect x="414" y="361" width="1" height="1" fill="#8c8c8c"/><rect x="414" y="366" width="1" height="3" fill="#d0d0d0"/><rect x="414" y="372" width="1" height="3" fill="#cacaca"/><rect x="414" y="373" width="1" height="1" fill="#8c8c8c"/><rect x="414" y="378" width="1" height="3" fill="#d0d0d0"/><rect x="414" y="384" width="1" height="3" fill="#cacaca"/><rect x="414" y="385" width="1" height="1" fill="#8c8c8c"/><rect x="414" y="390" width="1" height="3" fill="#d0d0d0"/><rect x="414" y="396" width="1" height="3" fill="#cacaca"/><rect x="414" y="397" width="1" height="1" fill="#8c8c8c"/><rect x="414" y="402" width="1" height="3" fill="#d0d0d0"/><rect x="414" y="408" width="1" height="3" fill="#cacaca"/><rect x="414" y="409" width="1" height="1" fill="#8c8c8c"/><rect x="414" y="414" width="1" height="3" fill="#d0d0d0"/><rect x="414" y="420" width="1" height="3" fill="#cacaca"/><rect x="414" y="421" width="1" height="1" fill="#8c8c8c"/><rect x="414" y="426" width="1" height="3" fill="#d0d0d0"/><rect x="414" y="432" width="1" height="3" fill="#cacaca"/><rect x="414" y="433" width="1" height="1" fill="#8c8c8c"/><rect x="414" y="438" width="1" height="3" fill="#d0d0d0"/><rect x="414" y="444" width="1" height="3" fill="#cacaca"/><rect x="414" y="445" width="1" height="1" fill="#8c8c8c"/><rect x="414" y="450" width="1" height="3" fill="#d0d0d0"/><rect x="414" y="456" width="1" height="3" fill="#cacaca"/><rect x="414" y="457" width="1" height="1" fill="#8c8c8c"/><rect x="414" y="462" width="1" height="3" fill="#d0d0d0"/><rect x="472" y="0" width="1" height="3" fill="#cacaca"/><rect x="472" y="1" width="1" height="1" fill="#9a9a9a"/><rect x="472" y="6" width="1" height="3" fill="#d0d0d0"/><rect x="472" y="12" width="1" height="3" fill="#cacaca"/><rect x="472" y="13" width="1" height="1" fill="#9a9a9a"/><rect x="472" y="18" width="1" height="3" fill="#d0d0d0"/><rect x="472" y="24" width="1" height="3" fill="#cacaca"/><rect x="472" y="25" width="1" height="1" fill="#9a9a9a"/><rect x="472" y="30" width="1" height="3" fill="#d0d0d0"/><rect x="472" y="36" width="1" height="3" fill="#cacaca"/><rect x="472" y="37" width="1" height="1" fill="#9a9a9a"/><rect x="472" y="42" width="1" height="3" fill="#d0d0d0"/><rect x="472" y="48" width="1" height="3" fill="#cacaca"/><rect x="472" y="49" width="1" height="1" fill="#9a9a9a"/><rect x="472" y="54" width="1" height="3" fill="#d0d0d0"/><rect x="472" y="60" width="1" height="3" fill="#cacaca"/><rect x="472" y="61" width="1" height="1" fill="#9a9a9a"/><rect x="472" y="66" width="1" height="3" fill="#d0d0d0"/><rect x="472" y="72" width="1" height="3" fill="#cacaca"/><rect x="472" y="73" width="1" height="1" fill="#9a9a9a"/><rect x="472" y="78" width="1" height="3" fill="#d0d0d0"/><rect x="472" y="84" width="1" height="3" fill="#cacaca"/><rect x="472" y="85" width="1" height="1" fill="#9a9a9a"/><rect x="472" y="90" width="1" height="3" fill="#d0d0d0"/><rect x="472" y="96" width="1" height="3" fill="#cacaca"/><rect x="472" y="97" width="1" height="1" fill="#9a9a9a"/><rect x="472" y="102" width="1" height="3" fill="#d0d0d0"/><rect x="472" y="108" width="1" height="3" fill="#cacaca"/><rect x="472" y="109" width="1" height="1" fill="#9a9a9a"/><rect x="472" y="114" width="1" height="3" fill="#d0d0d0"/><rect x="472" y="120" width="1" height="3" fill="#cacaca"/><rect x="472" y="121" width="1" height="1" fill="#9a9a9a"/><rect x="472" y="126" width="1" height="3" fill="#d0d0d0"/><rect x="472" y="132" width="1" height="3" fill="#cacaca"/><rect x="472" y="133" width="1" height="1" fill="#9a9a9a"/><rect x="472" y="138" width="1" height="3" fill="#d0d0d0"/><rect x="472" y="144" width="1" height="3" fill="#cacaca"/><rect x="472" y="145" width="1" height="1" fill="#9a9a9a"/><rect x="472" y="150" width="1" height="3" fill="#d0d0d0"/><rect x="472" y="156" width="1" height="3" fill="#cacaca"/><rect x="472" y="157" width="1" height="1" fill="#9a9a9a"/><rect x="472" y="162" width="1" height="3" fill="#d0d0d0"/><rect x="472" y="168" width="1" height="3" fill="#cacaca"/><rect x="472" y="169" width="1" height="1" fill="#9a9a9a"/><rect x="472" y="174" width="1" height="3" fill="#d0d0d0"/><rect x="472" y="180" width="1" height="3" fill="#cacaca"/><rect x="472" y="181" width="1" height="1" fill="#9a9a9a"/><rect x="472" y="186" width="1" height="3" fill="#d0d0d0"/><rect x="472" y="192" width="1" height="3" fill="#cacaca"/><rect x="472" y="193" width="1" height="1" fill="#9a9a9a"/><rect x="472" y="198" width="1" height="3" fill="#d0d0d0"/><rect x="472" y="204" width="1" height="3" fill="#cacaca"/><rect x="472" y="205" width="1" height="1" fill="#9a9a9a"/><rect x="472" y="210" width="1" height="3" fill="#d0d0d0"/><rect x="472" y="216" width="1" height="3" fill="#cacaca"/><rect x="472" y="217" width="1" height="1" fill="#9a9a9a"/><rect x="472" y="222" width="1" height="3" fill="#d0d0d0"/><rect x="472" y="228" width="1" height="3" fill="#cacaca"/><rect x="472" y="229" width="1" height="1" fill="#9a9a9a"/><rect x="472" y="234" width="1" height="3" fill="#d0d0d0"/><rect x="472" y="240" width="1" height="3" fill="#cacaca"/><rect x="472" y="241" width="1" height="1" fill="#9a9a9a"/><rect x="472" y="246" width="1" height="3" fill="#d0d0d0"/><rect x="472" y="252" width="1" height="3" fill="#cacaca"/><rect x="472" y="253" width="1" height="1" fill="#9a9a9a"/><rect x="472" y="258" width="1" height="3" fill="#d0d0d0"/><rect x="472" y="264" width="1" height="3" fill="#cacaca"/><rect x="472" y="265" width="1" height="1" fill="#9a9a9a"/><rect x="472" y="270" width="1" height="3" fill="#d0d0d0"/><rect x="472" y="276" width="1" height="3" fill="#cacaca"/><rect x="472" y="277" width="1" height="1" fill="#9a9a9a"/><rect x="472" y="282" width="1" height="3" fill="#d0d0d0"/><rect x="472" y="288" width="1" height="3" fill="#cacaca"/><rect x="472" y="289" width="1" height="1" fill="#9a9a9a"/><rect x="472" y="294" width="1" height="3" fill="#d0d0d0"/><rect x="472" y="300" width="1" height="3" fill="#cacaca"/><rect x="472" y="301" width="1" height="1" fill="#9a9a9a"/><rect x="472" y="306" width="1" height="3" fill="#d0d0d0"/><rect x="472" y="312" width="1" height="3" fill="#cacaca"/><rect x="472" y="313" width="1" height="1" fill="#9a9a9a"/><rect x="472" y="318" width="1" height="3" fill="#d0d0d0"/><rect x="472" y="324" width="1" height="3" fill="#cacaca"/><rect x="472" y="325" width="1" height="1" fill="#9a9a9a"/><rect x="472" y="330" width="1" height="3" fill="#d0d0d0"/><rect x="472" y="336" width="1" height="3" fill="#cacaca"/><rect x="472" y="337" width="1" height="1" fill="#9a9a9a"/><rect x="472" y="342" width="1" height="3" fill="#d0d0d0"/><rect x="472" y="348" width="1" height="3" fill="#cacaca"/><rect x="472" y="349" width="1" height="1" fill="#9a9a9a"/><rect x="472" y="354" width="1" height="3" fill="#d0d0d0"/><rect x="472" y="360" width="1" height="3" fill="#cacaca"/><rect x="472" y="361" width="1" height="1" fill="#9a9a9a"/><rect x="472" y="366" width="1" height="3" fill="#d0d0d0"/><rect x="472" y="372" width="1" height="3" fill="#cacaca"/><rect x="472" y="373" width="1" height="1" fill="#9a9a9a"/><rect x="472" y="378" width="1" height="3" fill="#d0d0d0"/><rect x="472" y="384" width="1" height="3" fill="#cacaca"/><rect x="472" y="385" width="1" height="1" fill="#9a9a9a"/><rect x="472" y="390" width="1" height="3" fill="#d0d0d0"/><rect x="472" y="396" width="1" height="3" fill="#cacaca"/><rect x="472" y="397" width="1" height="1" fill="#9a9a9a"/><rect x="472" y="402" width="1" height="3" fill="#d0d0d0"/><rect x="472" y="408" width="1" height="3" fill="#cacaca"/><rect x="472" y="409" width="1" height="1" fill="#9a9a9a"/><rect x="472" y="414" width="1" height="3" fill="#d0d0d0"/><rect x="472" y="420" width="1" height="3" fill="#cacaca"/><rect x="472" y="421" width="1" height="1" fill="#9a9a9a"/><rect x="472" y="426" width="1" height="3" fill="#d0d0d0"/><rect x="472" y="432" width="1" height="3" fill="#cacaca"/><rect x="472" y="433" width="1" height="1" fill="#9a9a9a"/><rect x="472" y="438" width="1" height="3" fill="#d0d0d0"/><rect x="472" y="444" width="1" height="3" fill="#cacaca"/><rect x="472" y="445" width="1" height="1" fill="#9a9a9a"/><rect x="472" y="450" width="1" height="3" fill="#d0d0d0"/><rect x="472" y="456" width="1" height="3" fill="#cacaca"/><rect x="472" y="457" width="1" height="1" fill="#9a9a9a"/><rect x="472" y="462" width="1" height="3" fill="#d0d0d0"/><rect x="529" y="0" width="1" height="3" fill="#d0d0d0"/><rect x="529" y="6" width="1" height="3" fill="#d0d0d0"/><rect x="529" y="12" width="1" height="3" fill="#d0d0d0"/><rect x="529" y="18" width="1" height="3" fill="#d0d0d0"/><rect x="529" y="24" width="1" height="3" fill="#d0d0d0"/><rect x="529" y="30" width="1" height="3" fill="#d0d0d0"/><rect x="529" y="36" width="1" height="3" fill="#d0d0d0"/><rect x="529" y="42" width="1" height="3" fill="#d0d0d0"/><rect x="529" y="48" width="1" height="3" fill="#d0d0d0"/><rect x="529" y="54" width="1" height="3" fill="#d0d0d0"/><rect x="529" y="60" width="1" height="3" fill="#d0d0d0"/><rect x="529" y="66" width="1" height="3" fill="#d0d0d0"/><rect x="529" y="72" width="1" height="3" fill="#d0d0d0"/><rect x="529" y="78" width="1" height="3" fill="#d0d0d0"/><rect x="529" y="84" width="1" height="3" fill="#d0d0d0"/><rect x="529" y="90" width="1" height="3" fill="#d0d0d0"/><rect x="529" y="96" width="1" height="3" fill="#d0d0d0"/><rect x="529" y="102" width="1" height="3" fill="#d0d0d0"/><rect x="529" y="108" width="1" height="3" fill="#d0d0d0"/><rect x="529" y="114" width="1" height="3" fill="#d0d0d0"/><rect x="529" y="120" width="1" height="3" fill="#d0d0d0"/><rect x="529" y="126" width="1" height="3" fill="#d0d0d0"/><rect x="529" y="132" width="1" height="3" fill="#d0d0d0"/><rect x="529" y="138" width="1" height="3" fill="#d0d0d0"/><rect x="529" y="144" width="1" height="3" fill="#d0d0d0"/><rect x="529" y="150" width="1" height="3" fill="#d0d0d0"/><rect x="529" y="156" width="1" height="3" fill="#d0d0d0"/><rect x="529" y="162" width="1" height="3" fill="#d0d0d0"/><rect x="529" y="168" width="1" height="3" fill="#d0d0d0"/><rect x="529" y="174" width="1" height="3" fill="#d0d0d0"/><rect x="529" y="180" width="1" height="3" fill="#d0d0d0"/><rect x="529" y="186" width="1" height="3" fill="#d0d0d0"/><rect x="529" y="192" width="1" height="3" fill="#d0d0d0"/><rect x="529" y="198" width="1" height="3" fill="#d0d0d0"/><rect x="529" y="204" width="1" height="3" fill="#d0d0d0"/><rect x="529" y="210" width="1" height="3" fill="#d0d0d0"/><rect x="529" y="216" width="1" height="3" fill="#d0d0d0"/><rect x="529" y="222" width="1" height="3" fill="#d0d0d0"/><rect x="529" y="228" width="1" height="3" fill="#d0d0d0"/><rect x="529" y="234" width="1" height="3" fill="#d0d0d0"/><rect x="529" y="240" width="1" height="3" fill="#d0d0d0"/><rect x="529" y="246" width="1" height="3" fill="#d0d0d0"/><rect x="529" y="252" width="1" height="3" fill="#d0d0d0"/><rect x="529" y="258" width="1" height="3" fill="#d0d0d0"/><rect x="529" y="264" width="1" height="3" fill="#d0d0d0"/><rect x="529" y="270" width="1" height="3" fill="#d0d0d0"/><rect x="529" y="276" width="1" height="3" fill="#d0d0d0"/><rect x="529" y="282" width="1" height="3" fill="#d0d0d0"/><rect x="529" y="288" width="1" height="3" fill="#d0d0d0"/><rect x="529" y="294" width="1" height="3" fill="#d0d0d0"/><rect x="529" y="300" width="1" height="3" fill="#d0d0d0"/><rect x="529" y="306" width="1" height="3" fill="#d0d0d0"/><rect x="529" y="312" width="1" height="3" fill="#d0d0d0"/><rect x="529" y="318" width="1" height="3" fill="#d0d0d0"/><rect x="529" y="324" width="1" height="3" fill="#d0d0d0"/><rect x="529" y="330" width="1" height="3" fill="#d0d0d0"/><rect x="529" y="336" width="1" height="3" fill="#d0d0d0"/><rect x="529" y="342" width="1" height="3" fill="#d0d0d0"/><rect x="529" y="348" width="1" height="3" fill="#d0d0d0"/><rect x="529" y="354" width="1" height="3" fill="#d0d0d0"/><rect x="529" y="360" width="1" height="3" fill="#d0d0d0"/><rect x="529" y="366" width="1" height="3" fill="#d0d0d0"/><rect x="529" y="372" width="1" height="3" fill="#d0d0d0"/><rect x="529" y="378" width="1" height="3" fill="#d0d0d0"/><rect x="529" y="384" width="1" height="3" fill="#d0d0d0"/><rect x="529" y="390" width="1" height="3" fill="#d0d0d0"/><rect x="529" y="396" width="1" height="3" fill="#d0d0d0"/><rect x="529" y="402" width="1" height="3" fill="#d0d0d0"/><rect x="529" y="408" width="1" height="3" fill="#d0d0d0"/><rect x="529" y="414" width="1" height="3" fill="#d0d0d0"/><rect x="529" y="420" width="1" height="3" fill="#d0d0d0"/><rect x="529" y="426" width="1" height="3" fill="#d0d0d0"/><rect x="529" y="432" width="1" height="3" fill="#d0d0d0"/><rect x="529" y="438" width="1" height="3" fill="#d0d0d0"/><rect x="529" y="444" width="1" height="3" fill="#d0d0d0"/><rect x="529" y="450" width="1" height="3" fill="#d0d0d0"/><rect x="529" y="456" width="1" height="3" fill="#d0d0d0"/><rect x="529" y="462" width="1" height="3" fill="#d0d0d0"/><rect x="583" y="0" width="1" height="3" fill="#d0d0d0"/><rect x="583" y="6" width="1" height="3" fill="#d0d0d0"/><rect x="583" y="12" width="1" height="3" fill="#d0d0d0"/><rect x="583" y="18" width="1" height="3" fill="#d0d0d0"/><rect x="583" y="24" width="1" height="3" fill="#d0d0d0"/><rect x="583" y="30" width="1" height="3" fill="#d0d0d0"/><rect x="583" y="36" width="1" height="3" fill="#d0d0d0"/><rect x="583" y="42" width="1" height="3" fill="#d0d0d0"/><rect x="583" y="48" width="1" height="3" fill="#d0d0d0"/><rect x="583" y="54" width="1" height="3" fill="#d0d0d0"/><rect x="583" y="60" width="1" height="3" fill="#d0d0d0"/><rect x="583" y="66" width="1" height="3" fill="#d0d0d0"/><rect x="583" y="72" width="1" height="3" fill="#d0d0d0"/><rect x="583" y="78" width="1" height="3" fill="#d0d0d0"/><rect x="583" y="84" width="1" height="3" fill="#d0d0d0"/><rect x="583" y="90" width="1" height="3" fill="#d0d0d0"/><rect x="583" y="96" width="1" height="3" fill="#d0d0d0"/><rect x="583" y="102" width="1" height="3" fill="#d0d0d0"/><rect x="583" y="108" width="1" height="3" fill="#d0d0d0"/><rect x="583" y="114" width="1" height="3" fill="#d0d0d0"/><rect x="583" y="120" width="1" height="3" fill="#d0d0d0"/><rect x="583" y="126" width="1" height="3" fill="#d0d0d0"/><rect x="583" y="132" width="1" height="3" fill="#d0d0d0"/><rect x="583" y="138" width="1" height="3" fill="#d0d0d0"/><rect x="583" y="144" width="1" height="3" fill="#d0d0d0"/><rect x="583" y="150" width="1" height="3" fill="#d0d0d0"/><rect x="583" y="156" width="1" height="3" fill="#d0d0d0"/><rect x="583" y="162" width="1" height="3" fill="#d0d0d0"/><rect x="583" y="168" width="1" height="3" fill="#d0d0d0"/><rect x="583" y="174" width="1" height="3" fill="#d0d0d0"/><rect x="583" y="180" width="1" height="3" fill="#d0d0d0"/><rect x="583" y="186" width="1" height="3" fill="#d0d0d0"/><rect x="583" y="192" width="1" height="3" fill="#d0d0d0"/><rect x="583" y="198" width="1" height="3" fill="#d0d0d0"/><rect x="583" y="204" width="1" height="3" fill="#d0d0d0"/><rect x="583" y="210" width="1" height="3" fill="#d0d0d0"/><rect x="583" y="216" width="1" height="3" fill="#d0d0d0"/><rect x="583" y="222" width="1" height="3" fill="#d0d0d0"/><rect x="583" y="228" width="1" height="3" fill="#d0d0d0"/><rect x="583" y="234" width="1" height="3" fill="#d0d0d0"/><rect x="583" y="240" width="1" height="3" fill="#d0d0d0"/><rect x="583" y="246" width="1" height="3" fill="#d0d0d0"/><rect x="583" y="252" width="1" height="3" fill="#d0d0d0"/><rect x="583" y="258" width="1" height="3" fill="#d0d0d0"/><rect x="583" y="264" width="1" height="3" fill="#d0d0d0"/><rect x="583" y="270" width="1" height="3" fill="#d0d0d0"/><rect x="583" y="276" width="1" height="3" fill="#d0d0d0"/><rect x="583" y="282" width="1" height="3" fill="#d0d0d0"/><rect x="583" y="288" width="1" height="3" fill="#d0d0d0"/><rect x="583" y="294" width="1" height="3" fill="#d0d0d0"/><rect x="583" y="300" width="1" height="3" fill="#d0d0d0"/><rect x="583" y="306" width="1" height="3" fill="#d0d0d0"/><rect x="583" y="312" width="1" height="3" fill="#d0d0d0"/><rect x="583" y="318" width="1" height="3" fill="#d0d0d0"/><rect x="583" y="324" width="1" height="3" fill="#d0d0d0"/><rect x="583" y="330" width="1" height="3" fill="#d0d0d0"/><rect x="583" y="336" width="1" height="3" fill="#d0d0d0"/><rect x="583" y="342" width="1" height="3" fill="#d0d0d0"/><rect x="583" y="348" width="1" height="3" fill="#d0d0d0"/><rect x="583" y="354" width="1" height="3" fill="#d0d0d0"/><rect x="583" y="360" width="1" height="3" fill="#d0d0d0"/><rect x="583" y="366" width="1" height="3" fill="#d0d0d0"/><rect x="583" y="372" width="1" height="3" fill="#d0d0d0"/><rect x="583" y="378" width="1" height="3" fill="#d0d0d0"/><rect x="583" y="384" width="1" height="3" fill="#d0d0d0"/><rect x="583" y="390" width="1" height="3" fill="#d0d0d0"/><rect x="583" y="396" width="1" height="3" fill="#d0d0d0"/><rect x="583" y="402" width="1" height="3" fill="#d0d0d0"/><rect x="583" y="408" width="1" height="3" fill="#d0d0d0"/><rect x="583" y="414" width="1" height="3" fill="#d0d0d0"/><rect x="583" y="420" width="1" height="3" fill="#d0d0d0"/><rect x="583" y="426" width="1" height="3" fill="#d0d0d0"/><rect x="583" y="432" width="1" height="3" fill="#d0d0d0"/><rect x="583" y="438" width="1" height="3" fill="#d0d0d0"/><rect x="583" y="444" width="1" height="3" fill="#d0d0d0"/><rect x="583" y="450" width="1" height="3" fill="#d0d0d0"/><rect x="583" y="456" width="1" height="3" fill="#d0d0d0"/><rect x="583" y="462" width="1" height="3" fill="#d0d0d0"/><rect x="644" y="0" width="1" height="3" fill="#cacaca"/><rect x="644" y="1" width="1" height="1" fill="#8c8c8c"/><rect x="644" y="6" width="1" height="3" fill="#d0d0d0"/><rect x="644" y="12" width="1" height="3" fill="#cacaca"/><rect x="644" y="13" width="1" height="1" fill="#8c8c8c"/><rect x="644" y="18" width="1" height="3" fill="#d0d0d0"/><rect x="644" y="24" width="1" height="3" fill="#cacaca"/><rect x="644" y="25" width="1" height="1" fill="#8c8c8c"/><rect x="644" y="30" width="1" height="3" fill="#d0d0d0"/><rect x="644" y="36" width="1" height="3" fill="#cacaca"/><rect x="644" y="37" width="1" height="1" fill="#8c8c8c"/><rect x="644" y="42" width="1" height="3" fill="#d0d0d0"/><rect x="644" y="48" width="1" height="3" fill="#cacaca"/><rect x="644" y="49" width="1" height="1" fill="#8c8c8c"/><rect x="644" y="54" width="1" height="3" fill="#d0d0d0"/><rect x="644" y="60" width="1" height="3" fill="#cacaca"/><rect x="644" y="61" width="1" height="1" fill="#8c8c8c"/><rect x="644" y="66" width="1" height="3" fill="#d0d0d0"/><rect x="644" y="72" width="1" height="3" fill="#cacaca"/><rect x="644" y="73" width="1" height="1" fill="#8c8c8c"/><rect x="644" y="78" width="1" height="3" fill="#d0d0d0"/><rect x="644" y="84" width="1" height="3" fill="#cacaca"/><rect x="644" y="85" width="1" height="1" fill="#8c8c8c"/><rect x="644" y="90" width="1" height="3" fill="#d0d0d0"/><rect x="644" y="96" width="1" height="3" fill="#cacaca"/><rect x="644" y="97" width="1" height="1" fill="#8c8c8c"/><rect x="644" y="102" width="1" height="3" fill="#d0d0d0"/><rect x="644" y="108" width="1" height="3" fill="#cacaca"/><rect x="644" y="109" width="1" height="1" fill="#8c8c8c"/><rect x="644" y="114" width="1" height="3" fill="#d0d0d0"/><rect x="644" y="120" width="1" height="3" fill="#cacaca"/><rect x="644" y="121" width="1" height="1" fill="#8c8c8c"/><rect x="644" y="126" width="1" height="3" fill="#d0d0d0"/><rect x="644" y="132" width="1" height="3" fill="#cacaca"/><rect x="644" y="133" width="1" height="1" fill="#8c8c8c"/><rect x="644" y="138" width="1" height="3" fill="#d0d0d0"/><rect x="644" y="144" width="1" height="3" fill="#cacaca"/><rect x="644" y="145" width="1" height="1" fill="#8c8c8c"/><rect x="644" y="150" width="1" height="3" fill="#d0d0d0"/><rect x="644" y="156" width="1" height="3" fill="#cacaca"/><rect x="644" y="157" width="1" height="1" fill="#8c8c8c"/><rect x="644" y="162" width="1" height="3" fill="#d0d0d0"/><rect x="644" y="168" width="1" height="3" fill="#cacaca"/><rect x="644" y="169" width="1" height="1" fill="#8c8c8c"/><rect x="644" y="174" width="1" height="3" fill="#d0d0d0"/><rect x="644" y="180" width="1" height="3" fill="#cacaca"/><rect x="644" y="181" width="1" height="1" fill="#8c8c8c"/><rect x="644" y="186" width="1" height="3" fill="#d0d0d0"/><rect x="644" y="192" width="1" height="3" fill="#cacaca"/><rect x="644" y="193" width="1" height="1" fill="#8c8c8c"/><rect x="644" y="198" width="1" height="3" fill="#d0d0d0"/><rect x="644" y="204" width="1" height="3" fill="#cacaca"/><rect x="644" y="205" width="1" height="1" fill="#8c8c8c"/><rect x="644" y="210" width="1" height="3" fill="#d0d0d0"/><rect x="644" y="216" width="1" height="3" fill="#cacaca"/><rect x="644" y="217" width="1" height="1" fill="#8c8c8c"/><rect x="644" y="222" width="1" height="3" fill="#d0d0d0"/><rect x="644" y="228" width="1" height="3" fill="#cacaca"/><rect x="644" y="229" width="1" height="1" fill="#8c8c8c"/><rect x="644" y="234" width="1" height="3" fill="#d0d0d0"/><rect x="644" y="240" width="1" height="3" fill="#cacaca"/><rect x="644" y="241" width="1" height="1" fill="#8c8c8c"/><rect x="644" y="246" width="1" height="3" fill="#d0d0d0"/><rect x="644" y="252" width="1" height="3" fill="#cacaca"/><rect x="644" y="253" width="1" height="1" fill="#8c8c8c"/><rect x="644" y="258" width="1" height="3" fill="#d0d0d0"/><rect x="644" y="264" width="1" height="3" fill="#cacaca"/><rect x="644" y="265" width="1" height="1" fill="#8c8c8c"/><rect x="644" y="270" width="1" height="3" fill="#d0d0d0"/><rect x="644" y="276" width="1" height="3" fill="#cacaca"/><rect x="644" y="277" width="1" height="1" fill="#8c8c8c"/><rect x="644" y="282" width="1" height="3" fill="#d0d0d0"/><rect x="644" y="288" width="1" height="3" fill="#cacaca"/><rect x="644" y="289" width="1" height="1" fill="#8c8c8c"/><rect x="644" y="294" width="1" height="3" fill="#d0d0d0"/><rect x="644" y="300" width="1" height="3" fill="#cacaca"/><rect x="644" y="301" width="1" height="1" fill="#8c8c8c"/><rect x="644" y="306" width="1" height="3" fill="#d0d0d0"/><rect x="644" y="312" width="1" height="3" fill="#cacaca"/><rect x="644" y="313" width="1" height="1" fill="#8c8c8c"/><rect x="644" y="318" width="1" height="3" fill="#d0d0d0"/><rect x="644" y="324" width="1" height="3" fill="#cacaca"/><rect x="644" y="325" width="1" height="1" fill="#8c8c8c"/><rect x="644" y="330" width="1" height="3" fill="#d0d0d0"/><rect x="644" y="336" width="1" height="3" fill="#cacaca"/><rect x="644" y="337" width="1" height="1" fill="#8c8c8c"/><rect x="644" y="342" width="1" height="3" fill="#d0d0d0"/><rect x="644" y="348" width="1" height="3" fill="#cacaca"/><rect x="644" y="349" width="1" height="1" fill="#8c8c8c"/><rect x="644" y="354" width="1" height="3" fill="#d0d0d0"/><rect x="644" y="360" width="1" height="3" fill="#cacaca"/><rect x="644" y="361" width="1" height="1" fill="#8c8c8c"/><rect x="644" y="366" width="1" height="3" fill="#d0d0d0"/><rect x="644" y="372" width="1" height="3" fill="#cacaca"/><rect x="644" y="373" width="1" height="1" fill="#8c8c8c"/><rect x="644" y="378" width="1" height="3" fill="#d0d0d0"/><rect x="644" y="384" width="1" height="3" fill="#cacaca"/><rect x="644" y="385" width="1" height="1" fill="#8c8c8c"/><rect x="644" y="390" width="1" height="3" fill="#d0d0d0"/><rect x="644" y="396" width="1" height="3" fill="#cacaca"/><rect x="644" y="397" width="1" height="1" fill="#8c8c8c"/><rect x="644" y="402" width="1" height="3" fill="#d0d0d0"/><rect x="644" y="408" width="1" height="3" fill="#cacaca"/><rect x="644" y="409" width="1" height="1" fill="#8c8c8c"/><rect x="644" y="414" width="1" height="3" fill="#d0d0d0"/><rect x="644" y="420" width="1" height="3" fill="#cacaca"/><rect x="644" y="421" width="1" height="1" fill="#8c8c8c"/><rect x="644" y="426" width="1" height="3" fill="#d0d0d0"/><rect x="644" y="432" width="1" height="3" fill="#cacaca"/><rect x="644" y="433" width="1" height="1" fill="#8c8c8c"/><rect x="644" y="438" width="1" height="3" fill="#d0d0d0"/><rect x="644" y="444" width="1" height="3" fill="#cacaca"/><rect x="644" y="445" width="1" height="1" fill="#8c8c8c"/><rect x="644" y="450" width="1" height="3" fill="#d0d0d0"/><rect x="644" y="456" width="1" height="3" fill="#cacaca"/><rect x="644" y="457" width="1" height="1" fill="#8c8c8c"/><rect x="644" y="462" width="1" height="3" fill="#d0d0d0"/></g>
<text x="15" y="23" font-size="14.2" fill="#969696" textLength="115.5" lengthAdjust="spacing">www.chartbuero.de</text>
<text x="545.5" y="452" font-size="11.3" fill="#969696" textLength="99" lengthAdjust="spacing">Hoppenstedt Charts</text>
<text x="327" y="26.3" font-size="18" fill="#000" stroke="#000" stroke-width="0.55" textLength="50" lengthAdjust="spacingAndGlyphs">MDAX</text>
<rect x="0" y="428" width="3" height="1" fill="#ff00ff"/><rect x="2" y="428" width="1" height="1" fill="#ff00ff"/><rect x="3" y="427" width="3" height="1" fill="#ff00ff"/><rect x="6" y="426" width="1" height="1" fill="#ff00ff"/><rect x="6" y="426" width="3" height="1" fill="#ff00ff"/><rect x="8" y="426" width="1" height="1" fill="#ff00ff"/><rect x="9" y="425" width="3" height="1" fill="#ff00ff"/><rect x="12" y="424" width="1" height="1" fill="#ff00ff"/><rect x="12" y="424" width="2" height="1" fill="#ff00ff"/><rect x="14" y="423" width="1" height="1" fill="#ff00ff"/><rect x="14" y="423" width="3" height="1" fill="#ff00ff"/><rect x="17" y="422" width="2" height="1" fill="#ff00ff"/><rect x="18" y="422" width="2" height="1" fill="#ff00ff"/><rect x="20" y="421" width="1" height="1" fill="#ff00ff"/><rect x="20" y="421" width="3" height="1" fill="#ff00ff"/><rect x="23" y="420" width="2" height="1" fill="#ff00ff"/><rect x="24" y="420" width="1" height="1" fill="#ff00ff"/><rect x="25" y="419" width="2" height="1" fill="#ff00ff"/><rect x="26" y="419" width="2" height="1" fill="#ff00ff"/><rect x="28" y="418" width="3" height="1" fill="#ff00ff"/><rect x="30" y="418" width="1" height="1" fill="#ff00ff"/><rect x="31" y="417" width="2" height="1" fill="#ff00ff"/><rect x="32" y="417" width="1" height="1" fill="#ff00ff"/><rect x="33" y="416" width="3" height="1" fill="#ff00ff"/><rect x="36" y="415" width="1" height="1" fill="#ff00ff"/><rect x="36" y="415" width="2" height="1" fill="#ff00ff"/><rect x="38" y="414" width="1" height="1" fill="#ff00ff"/><rect x="38" y="414" width="3" height="1" fill="#ff00ff"/><rect x="41" y="413" width="2" height="1" fill="#ff00ff"/><rect x="42" y="413" width="1" height="1" fill="#ff00ff"/><rect x="43" y="412" width="2" height="1" fill="#ff00ff"/><rect x="44" y="412" width="1" height="1" fill="#ff00ff"/><rect x="45" y="411" width="3" height="1" fill="#ff00ff"/><rect x="48" y="410" width="1" height="1" fill="#ff00ff"/><rect x="48" y="410" width="2" height="1" fill="#ff00ff"/><rect x="50" y="409" width="1" height="1" fill="#ff00ff"/><rect x="50" y="409" width="2" height="1" fill="#ff00ff"/><rect x="52" y="408" width="3" height="1" fill="#ff00ff"/><rect x="54" y="408" width="1" height="1" fill="#ff00ff"/><rect x="55" y="407" width="2" height="1" fill="#ff00ff"/><rect x="56" y="407" width="1" height="1" fill="#ff00ff"/><rect x="57" y="406" width="3" height="1" fill="#ff00ff"/><rect x="60" y="405" width="1" height="1" fill="#ff00ff"/><rect x="60" y="405" width="3" height="1" fill="#ff00ff"/><rect x="62" y="405" width="1" height="1" fill="#ff00ff"/><rect x="63" y="404" width="3" height="1" fill="#ff00ff"/><rect x="66" y="403" width="1" height="1" fill="#ff00ff"/><rect x="66" y="403" width="3" height="1" fill="#ff00ff"/><rect x="68" y="403" width="1" height="1" fill="#ff00ff"/><rect x="69" y="402" width="3" height="1" fill="#ff00ff"/><rect x="72" y="401" width="1" height="1" fill="#ff00ff"/><rect x="72" y="401" width="3" height="1" fill="#ff00ff"/><rect x="74" y="401" width="1" height="1" fill="#ff00ff"/><rect x="75" y="400" width="3" height="1" fill="#ff00ff"/><rect x="78" y="399" width="1" height="1" fill="#ff00ff"/><rect x="78" y="399" width="2" height="1" fill="#ff00ff"/><rect x="80" y="398" width="1" height="1" fill="#ff00ff"/><rect x="80" y="398" width="3" height="1" fill="#ff00ff"/><rect x="83" y="397" width="2" height="1" fill="#ff00ff"/><rect x="84" y="397" width="1" height="1" fill="#ff00ff"/><rect x="85" y="396" width="2" height="1" fill="#ff00ff"/><rect x="86" y="396" width="2" height="1" fill="#ff00ff"/><rect x="88" y="395" width="2" height="1" fill="#ff00ff"/><rect x="90" y="394" width="1" height="1" fill="#ff00ff"/><rect x="90" y="394" width="2" height="1" fill="#ff00ff"/><rect x="92" y="393" width="1" height="1" fill="#ff00ff"/><rect x="92" y="393" width="2" height="1" fill="#ff00ff"/><rect x="94" y="392" width="2" height="1" fill="#ff00ff"/><rect x="96" y="391" width="1" height="1" fill="#ff00ff"/><rect x="96" y="391" width="1" height="1" fill="#ff00ff"/><rect x="97" y="390" width="2" height="1" fill="#ff00ff"/><rect x="98" y="390" width="1" height="1" fill="#ff00ff"/><rect x="99" y="389" width="2" height="1" fill="#ff00ff"/><rect x="101" y="388" width="1" height="1" fill="#ff00ff"/><rect x="102" y="387" width="1" height="1" fill="#ff00ff"/><rect x="102" y="387" width="2" height="1" fill="#ff00ff"/><rect x="104" y="386" width="1" height="1" fill="#ff00ff"/><rect x="104" y="386" width="2" height="1" fill="#ff00ff"/><rect x="106" y="385" width="2" height="1" fill="#ff00ff"/><rect x="108" y="384" width="1" height="1" fill="#ff00ff"/><rect x="108" y="384" width="1" height="1" fill="#ff00ff"/><rect x="109" y="383" width="2" height="1" fill="#ff00ff"/><rect x="110" y="383" width="1" height="1" fill="#ff00ff"/><rect x="111" y="382" width="2" height="1" fill="#ff00ff"/><rect x="113" y="381" width="2" height="1" fill="#ff00ff"/><rect x="114" y="381" width="1" height="1" fill="#ff00ff"/><rect x="115" y="380" width="2" height="1" fill="#ff00ff"/><rect x="116" y="380" width="1" height="1" fill="#ff00ff"/><rect x="117" y="379" width="2" height="1" fill="#ff00ff"/><rect x="119" y="378" width="2" height="1" fill="#ff00ff"/><rect x="120" y="378" width="1" height="1" fill="#ff00ff"/><rect x="121" y="377" width="2" height="1" fill="#ff00ff"/><rect x="122" y="377" width="2" height="1" fill="#ff00ff"/><rect x="124" y="376" width="2" height="1" fill="#ff00ff"/><rect x="126" y="375" width="1" height="1" fill="#ff00ff"/><rect x="126" y="375" width="2" height="1" fill="#ff00ff"/><rect x="128" y="374" width="1" height="1" fill="#ff00ff"/><rect x="128" y="374" width="3" height="1" fill="#ff00ff"/><rect x="131" y="373" width="2" height="1" fill="#ff00ff"/><rect x="132" y="373" width="1" height="1" fill="#ff00ff"/><rect x="133" y="372" width="2" height="1" fill="#ff00ff"/><rect x="134" y="372" width="1" height="1" fill="#ff00ff"/><rect x="135" y="371" width="3" height="1" fill="#ff00ff"/><rect x="138" y="370" width="1" height="1" fill="#ff00ff"/><rect x="138" y="370" width="2" height="1" fill="#ff00ff"/><rect x="140" y="369" width="1" height="1" fill="#ff00ff"/><rect x="140" y="369" width="2" height="1" fill="#ff00ff"/><rect x="142" y="368" width="2" height="1" fill="#ff00ff"/><rect x="144" y="367" width="1" height="1" fill="#ff00ff"/><rect x="144" y="367" width="2" height="1" fill="#ff00ff"/><rect x="146" y="366" width="1" height="1" fill="#ff00ff"/><rect x="146" y="366" width="2" height="1" fill="#ff00ff"/><rect x="148" y="365" width="1" height="1" fill="#ff00ff"/><rect x="149" y="364" width="2" height="1" fill="#ff00ff"/><rect x="150" y="364" width="1" height="1" fill="#ff00ff"/><rect x="151" y="363" width="2" height="1" fill="#ff00ff"/><rect x="152" y="363" width="1" height="1" fill="#ff00ff"/><rect x="153" y="362" width="1" height="1" fill="#ff00ff"/><rect x="154" y="361" width="2" height="1" fill="#ff00ff"/><rect x="156" y="360" width="1" height="1" fill="#ff00ff"/><rect x="156" y="360" width="1" height="1" fill="#ff00ff"/><rect x="157" y="359" width="2" height="1" fill="#ff00ff"/><rect x="158" y="359" width="1" height="1" fill="#ff00ff"/><rect x="159" y="358" width="2" height="1" fill="#ff00ff"/><rect x="161" y="357" width="1" height="1" fill="#ff00ff"/><rect x="162" y="356" width="1" height="1" fill="#ff00ff"/><rect x="162" y="356" width="2" height="1" fill="#ff00ff"/><rect x="164" y="355" width="1" height="1" fill="#ff00ff"/><rect x="164" y="355" width="1" height="1" fill="#ff00ff"/><rect x="165" y="354" width="2" height="1" fill="#ff00ff"/><rect x="167" y="353" width="1" height="1" fill="#ff00ff"/><rect x="168" y="352" width="1" height="1" fill="#ff00ff"/><rect x="168" y="352" width="2" height="1" fill="#ff00ff"/><rect x="170" y="351" width="1" height="1" fill="#ff00ff"/><rect x="170" y="351" width="2" height="1" fill="#ff00ff"/><rect x="172" y="350" width="1" height="1" fill="#ff00ff"/><rect x="173" y="349" width="2" height="1" fill="#ff00ff"/><rect x="174" y="349" width="1" height="1" fill="#ff00ff"/><rect x="175" y="348" width="2" height="1" fill="#ff00ff"/><rect x="176" y="348" width="1" height="1" fill="#ff00ff"/><rect x="177" y="347" width="1" height="1" fill="#ff00ff"/><rect x="178" y="346" width="2" height="1" fill="#ff00ff"/><rect x="180" y="345" width="1" height="1" fill="#ff00ff"/><rect x="180" y="345" width="2" height="1" fill="#ff00ff"/><rect x="182" y="344" width="1" height="1" fill="#ff00ff"/><rect x="182" y="344" width="1" height="1" fill="#ff00ff"/><rect x="183" y="343" width="2" height="1" fill="#ff00ff"/><rect x="185" y="342" width="2" height="1" fill="#ff00ff"/><rect x="186" y="342" width="1" height="1" fill="#ff00ff"/><rect x="187" y="341" width="1" height="1" fill="#ff00ff"/><rect x="188" y="340" width="1" height="1" fill="#ff00ff"/><rect x="188" y="340" width="2" height="1" fill="#ff00ff"/><rect x="190" y="339" width="2" height="1" fill="#ff00ff"/><rect x="192" y="338" width="1" height="1" fill="#ff00ff"/><rect x="192" y="338" width="2" height="1" fill="#ff00ff"/><rect x="194" y="337" width="1" height="1" fill="#ff00ff"/><rect x="194" y="337" width="2" height="1" fill="#ff00ff"/><rect x="196" y="336" width="1" height="1" fill="#ff00ff"/><rect x="197" y="335" width="2" height="1" fill="#ff00ff"/><rect x="198" y="335" width="2" height="1" fill="#ff00ff"/><rect x="200" y="334" width="1" height="1" fill="#ff00ff"/><rect x="200" y="334" width="2" height="1" fill="#ff00ff"/><rect x="202" y="333" width="2" height="1" fill="#ff00ff"/><rect x="204" y="332" width="1" height="1" fill="#ff00ff"/><rect x="204" y="332" width="3" height="1" fill="#ff00ff"/><rect x="206" y="332" width="1" height="1" fill="#ff00ff"/><rect x="207" y="331" width="2" height="1" fill="#ff00ff"/><rect x="209" y="330" width="2" height="1" fill="#ff00ff"/><rect x="210" y="330" width="1" height="1" fill="#ff00ff"/><rect x="211" y="329" width="2" height="1" fill="#ff00ff"/><rect x="212" y="329" width="1" height="1" fill="#ff00ff"/><rect x="213" y="328" width="2" height="1" fill="#ff00ff"/><rect x="215" y="327" width="2" height="1" fill="#ff00ff"/><rect x="216" y="327" width="1" height="1" fill="#ff00ff"/><rect x="217" y="326" width="2" height="1" fill="#ff00ff"/><rect x="218" y="326" width="1" height="1" fill="#ff00ff"/><rect x="219" y="325" width="2" height="1" fill="#ff00ff"/><rect x="221" y="324" width="2" height="1" fill="#ff00ff"/><rect x="222" y="324" width="1" height="1" fill="#ff00ff"/><rect x="223" y="323" width="2" height="1" fill="#ff00ff"/><rect x="224" y="323" width="1" height="1" fill="#ff00ff"/><rect x="225" y="322" width="2" height="1" fill="#ff00ff"/><rect x="227" y="321" width="2" height="1" fill="#ff00ff"/><rect x="228" y="321" width="2" height="1" fill="#ff00ff"/><rect x="230" y="320" width="1" height="1" fill="#ff00ff"/><rect x="230" y="320" width="2" height="1" fill="#ff00ff"/><rect x="232" y="319" width="3" height="1" fill="#ff00ff"/><rect x="234" y="319" width="1" height="1" fill="#ff00ff"/><rect x="235" y="318" width="2" height="1" fill="#ff00ff"/><rect x="236" y="318" width="1" height="1" fill="#ff00ff"/><rect x="237" y="317" width="2" height="1" fill="#ff00ff"/><rect x="239" y="316" width="2" height="1" fill="#ff00ff"/><rect x="240" y="316" width="1" height="1" fill="#ff00ff"/><rect x="241" y="315" width="2" height="1" fill="#ff00ff"/><rect x="242" y="315" width="1" height="1" fill="#ff00ff"/><rect x="243" y="314" width="3" height="1" fill="#ff00ff"/><rect x="246" y="313" width="1" height="1" fill="#ff00ff"/><rect x="246" y="313" width="2" height="1" fill="#ff00ff"/><rect x="248" y="312" width="1" height="1" fill="#ff00ff"/><rect x="248" y="312" width="3" height="1" fill="#ff00ff"/><rect x="251" y="311" width="2" height="1" fill="#ff00ff"/><rect x="252" y="311" width="2" height="1" fill="#ff00ff"/><rect x="254" y="310" width="1" height="1" fill="#ff00ff"/><rect x="254" y="310" width="2" height="1" fill="#ff00ff"/><rect x="256" y="309" width="3" height="1" fill="#ff00ff"/><rect x="258" y="309" width="1" height="1" fill="#ff00ff"/><rect x="259" y="308" width="2" height="1" fill="#ff00ff"/><rect x="260" y="308" width="1" height="1" fill="#ff00ff"/><rect x="261" y="307" width="2" height="1" fill="#ff00ff"/><rect x="263" y="306" width="2" height="1" fill="#ff00ff"/><rect x="264" y="306" width="1" height="1" fill="#ff00ff"/><rect x="265" y="305" width="2" height="1" fill="#ff00ff"/><rect x="266" y="305" width="1" height="1" fill="#ff00ff"/><rect x="267" y="304" width="1" height="1" fill="#ff00ff"/><rect x="268" y="303" width="2" height="1" fill="#ff00ff"/><rect x="270" y="302" width="1" height="1" fill="#ff00ff"/><rect x="270" y="302" width="2" height="1" fill="#ff00ff"/><rect x="272" y="301" width="1" height="1" fill="#ff00ff"/><rect x="272" y="301" width="1" height="1" fill="#ff00ff"/><rect x="273" y="300" width="1" height="1" fill="#ff00ff"/><rect x="274" y="299" width="2" height="1" fill="#ff00ff"/><rect x="276" y="298" width="1" height="1" fill="#ff00ff"/><rect x="276" y="298" width="1" height="1" fill="#ff00ff"/><rect x="277" y="297" width="2" height="1" fill="#ff00ff"/><rect x="278" y="296" width="2" height="1" fill="#ff00ff"/><rect x="280" y="295" width="2" height="1" fill="#ff00ff"/><rect x="282" y="294" width="1" height="1" fill="#ff00ff"/><rect x="282" y="294" width="1" height="1" fill="#ff00ff"/><rect x="283" y="293" width="2" height="1" fill="#ff00ff"/><rect x="284" y="293" width="1" height="1" fill="#ff00ff"/><rect x="285" y="292" width="2" height="1" fill="#ff00ff"/><rect x="287" y="291" width="2" height="1" fill="#ff00ff"/><rect x="288" y="291" width="1" height="1" fill="#ff00ff"/><rect x="289" y="290" width="2" height="1" fill="#ff00ff"/><rect x="290" y="290" width="1" height="1" fill="#ff00ff"/><rect x="291" y="289" width="2" height="1" fill="#ff00ff"/><rect x="293" y="288" width="2" height="1" fill="#ff00ff"/><rect x="294" y="288" width="1" height="1" fill="#ff00ff"/><rect x="295" y="287" width="2" height="1" fill="#ff00ff"/><rect x="296" y="287" width="1" height="1" fill="#ff00ff"/><rect x="297" y="286" width="2" height="1" fill="#ff00ff"/><rect x="299" y="285" width="2" height="1" fill="#ff00ff"/><rect x="300" y="285" width="1" height="1" fill="#ff00ff"/><rect x="301" y="284" width="2" height="1" fill="#ff00ff"/><rect x="302" y="284" width="1" height="1" fill="#ff00ff"/><rect x="303" y="283" width="2" height="1" fill="#ff00ff"/><rect x="305" y="282" width="2" height="1" fill="#ff00ff"/><rect x="306" y="282" width="1" height="1" fill="#ff00ff"/><rect x="307" y="281" width="2" height="1" fill="#ff00ff"/><rect x="308" y="281" width="1" height="1" fill="#ff00ff"/><rect x="309" y="280" width="1" height="1" fill="#ff00ff"/><rect x="310" y="279" width="2" height="1" fill="#ff00ff"/><rect x="312" y="278" width="1" height="1" fill="#ff00ff"/><rect x="312" y="278" width="2" height="1" fill="#ff00ff"/><rect x="314" y="277" width="1" height="1" fill="#ff00ff"/><rect x="314" y="277" width="2" height="1" fill="#ff00ff"/><rect x="316" y="276" width="2" height="1" fill="#ff00ff"/><rect x="318" y="275" width="1" height="1" fill="#ff00ff"/><rect x="318" y="275" width="1" height="1" fill="#ff00ff"/><rect x="319" y="274" width="2" height="1" fill="#ff00ff"/><rect x="320" y="274" width="1" height="1" fill="#ff00ff"/><rect x="321" y="273" width="2" height="1" fill="#ff00ff"/><rect x="323" y="272" width="2" height="1" fill="#ff00ff"/><rect x="324" y="272" width="1" height="1" fill="#ff00ff"/><rect x="325" y="271" width="2" height="1" fill="#ff00ff"/><rect x="326" y="271" width="1" height="1" fill="#ff00ff"/><rect x="327" y="270" width="2" height="1" fill="#ff00ff"/><rect x="329" y="269" width="2" height="1" fill="#ff00ff"/><rect x="330" y="269" width="1" height="1" fill="#ff00ff"/><rect x="331" y="268" width="2" height="1" fill="#ff00ff"/><rect x="332" y="268" width="1" height="1" fill="#ff00ff"/><rect x="333" y="267" width="3" height="1" fill="#ff00ff"/><rect x="336" y="266" width="1" height="1" fill="#ff00ff"/><rect x="336" y="266" width="3" height="1" fill="#ff00ff"/><rect x="338" y="266" width="1" height="1" fill="#ff00ff"/><rect x="339" y="265" width="2" height="1" fill="#ff00ff"/><rect x="341" y="264" width="2" height="1" fill="#ff00ff"/><rect x="342" y="264" width="2" height="1" fill="#ff00ff"/><rect x="344" y="263" width="1" height="1" fill="#ff00ff"/><rect x="344" y="263" width="3" height="1" fill="#ff00ff"/><rect x="347" y="262" width="2" height="1" fill="#ff00ff"/><rect x="348" y="262" width="1" height="1" fill="#ff00ff"/><rect x="349" y="261" width="2" height="1" fill="#ff00ff"/><rect x="350" y="261" width="2" height="1" fill="#ff00ff"/><rect x="352" y="260" width="2" height="1" fill="#ff00ff"/><rect x="354" y="259" width="1" height="1" fill="#ff00ff"/><rect x="354" y="259" width="2" height="1" fill="#ff00ff"/><rect x="356" y="258" width="1" height="1" fill="#ff00ff"/><rect x="356" y="258" width="2" height="1" fill="#ff00ff"/><rect x="358" y="257" width="2" height="1" fill="#ff00ff"/><rect x="360" y="256" width="1" height="1" fill="#ff00ff"/><rect x="360" y="256" width="2" height="1" fill="#ff00ff"/><rect x="362" y="255" width="1" height="1" fill="#ff00ff"/><rect x="362" y="255" width="2" height="1" fill="#ff00ff"/><rect x="364" y="254" width="2" height="1" fill="#ff00ff"/><rect x="366" y="253" width="1" height="1" fill="#ff00ff"/><rect x="366" y="253" width="2" height="1" fill="#ff00ff"/><rect x="368" y="252" width="1" height="1" fill="#ff00ff"/><rect x="368" y="252" width="1" height="1" fill="#ff00ff"/><rect x="369" y="251" width="2" height="1" fill="#ff00ff"/><rect x="371" y="250" width="2" height="1" fill="#ff00ff"/><rect x="372" y="250" width="1" height="1" fill="#ff00ff"/><rect x="373" y="249" width="1" height="1" fill="#ff00ff"/><rect x="374" y="248" width="1" height="1" fill="#ff00ff"/><rect x="374" y="248" width="2" height="1" fill="#ff00ff"/><rect x="376" y="247" width="2" height="1" fill="#ff00ff"/><rect x="378" y="246" width="1" height="1" fill="#ff00ff"/><rect x="378" y="246" width="1" height="1" fill="#ff00ff"/><rect x="379" y="245" width="2" height="1" fill="#ff00ff"/><rect x="380" y="245" width="1" height="1" fill="#ff00ff"/><rect x="381" y="244" width="2" height="1" fill="#ff00ff"/><rect x="383" y="243" width="2" height="1" fill="#ff00ff"/><rect x="384" y="243" width="1" height="1" fill="#ff00ff"/><rect x="385" y="242" width="2" height="1" fill="#ff00ff"/><rect x="386" y="242" width="1" height="1" fill="#ff00ff"/><rect x="387" y="241" width="2" height="1" fill="#ff00ff"/><rect x="389" y="240" width="2" height="1" fill="#ff00ff"/><rect x="390" y="240" width="1" height="1" fill="#ff00ff"/><rect x="391" y="239" width="2" height="1" fill="#ff00ff"/><rect x="392" y="239" width="1" height="1" fill="#ff00ff"/><rect x="393" y="238" width="2" height="1" fill="#ff00ff"/><rect x="395" y="237" width="2" height="1" fill="#ff00ff"/><rect x="396" y="237" width="1" height="1" fill="#ff00ff"/><rect x="397" y="236" width="2" height="1" fill="#ff00ff"/><rect x="398" y="236" width="1" height="1" fill="#ff00ff"/><rect x="399" y="235" width="2" height="1" fill="#ff00ff"/><rect x="401" y="234" width="2" height="1" fill="#ff00ff"/><rect x="402" y="234" width="1" height="1" fill="#ff00ff"/><rect x="403" y="233" width="2" height="1" fill="#ff00ff"/><rect x="404" y="233" width="1" height="1" fill="#ff00ff"/><rect x="405" y="232" width="2" height="1" fill="#ff00ff"/><rect x="407" y="231" width="2" height="1" fill="#ff00ff"/><rect x="408" y="231" width="1" height="1" fill="#ff00ff"/><rect x="409" y="230" width="1" height="1" fill="#ff00ff"/><rect x="410" y="229" width="1" height="1" fill="#ff00ff"/><rect x="410" y="229" width="2" height="1" fill="#ff00ff"/><rect x="412" y="228" width="1" height="1" fill="#ff00ff"/><rect x="413" y="227" width="2" height="1" fill="#ff00ff"/><rect x="414" y="227" width="1" height="1" fill="#ff00ff"/><rect x="415" y="226" width="2" height="1" fill="#ff00ff"/><rect x="416" y="226" width="1" height="1" fill="#ff00ff"/><rect x="417" y="225" width="1" height="1" fill="#ff00ff"/><rect x="418" y="224" width="2" height="1" fill="#ff00ff"/><rect x="420" y="223" width="1" height="1" fill="#ff00ff"/><rect x="420" y="223" width="2" height="1" fill="#ff00ff"/><rect x="422" y="222" width="1" height="1" fill="#ff00ff"/><rect x="422" y="222" width="2" height="1" fill="#ff00ff"/><rect x="424" y="221" width="3" height="1" fill="#ff00ff"/><rect x="426" y="221" width="1" height="1" fill="#ff00ff"/><rect x="427" y="220" width="2" height="1" fill="#ff00ff"/><rect x="428" y="220" width="1" height="1" fill="#ff00ff"/><rect x="429" y="219" width="2" height="1" fill="#ff00ff"/><rect x="431" y="218" width="2" height="1" fill="#ff00ff"/><rect x="432" y="218" width="1" height="1" fill="#ff00ff"/><rect x="433" y="217" width="1" height="1" fill="#ff00ff"/><rect x="434" y="216" width="1" height="1" fill="#ff00ff"/><rect x="434" y="216" width="2" height="1" fill="#ff00ff"/><rect x="436" y="215" width="2" height="1" fill="#ff00ff"/><rect x="438" y="214" width="1" height="1" fill="#ff00ff"/><rect x="438" y="214" width="2" height="1" fill="#ff00ff"/><rect x="440" y="213" width="1" height="1" fill="#ff00ff"/><rect x="440" y="213" width="2" height="1" fill="#ff00ff"/><rect x="442" y="212" width="3" height="1" fill="#ff00ff"/><rect x="444" y="212" width="1" height="1" fill="#ff00ff"/><rect x="445" y="211" width="2" height="1" fill="#ff00ff"/><rect x="446" y="211" width="1" height="1" fill="#ff00ff"/><rect x="447" y="210" width="2" height="1" fill="#ff00ff"/><rect x="449" y="209" width="2" height="1" fill="#ff00ff"/><rect x="450" y="209" width="1" height="1" fill="#ff00ff"/><rect x="451" y="208" width="2" height="1" fill="#ff00ff"/><rect x="452" y="208" width="2" height="1" fill="#ff00ff"/><rect x="454" y="207" width="2" height="1" fill="#ff00ff"/><rect x="456" y="206" width="1" height="1" fill="#ff00ff"/><rect x="456" y="206" width="2" height="1" fill="#ff00ff"/><rect x="458" y="205" width="1" height="1" fill="#ff00ff"/><rect x="458" y="205" width="1" height="1" fill="#ff00ff"/><rect x="459" y="204" width="2" height="1" fill="#ff00ff"/><rect x="461" y="203" width="2" height="1" fill="#ff00ff"/><rect x="462" y="203" width="1" height="1" fill="#ff00ff"/><rect x="463" y="202" width="2" height="1" fill="#ff00ff"/><rect x="464" y="202" width="1" height="1" fill="#ff00ff"/><rect x="465" y="201" width="2" height="1" fill="#ff00ff"/><rect x="467" y="200" width="2" height="1" fill="#ff00ff"/><rect x="468" y="200" width="1" height="1" fill="#ff00ff"/><rect x="469" y="199" width="2" height="1" fill="#ff00ff"/><rect x="470" y="199" width="1" height="1" fill="#ff00ff"/><rect x="471" y="198" width="1" height="1" fill="#ff00ff"/><rect x="472" y="197" width="2" height="1" fill="#ff00ff"/><rect x="474" y="196" width="1" height="1" fill="#ff00ff"/><rect x="474" y="196" width="2" height="1" fill="#ff00ff"/><rect x="476" y="195" width="1" height="1" fill="#ff00ff"/><rect x="476" y="195" width="2" height="1" fill="#ff00ff"/><rect x="478" y="194" width="2" height="1" fill="#ff00ff"/><rect x="480" y="193" width="1" height="1" fill="#ff00ff"/><rect x="480" y="193" width="2" height="1" fill="#ff00ff"/><rect x="482" y="192" width="1" height="1" fill="#ff00ff"/><rect x="482" y="192" width="1" height="1" fill="#ff00ff"/><rect x="483" y="191" width="2" height="1" fill="#ff00ff"/><rect x="485" y="190" width="2" height="1" fill="#ff00ff"/><rect x="486" y="190" width="1" height="1" fill="#ff00ff"/><rect x="487" y="189" width="2" height="1" fill="#ff00ff"/><rect x="488" y="189" width="1" height="1" fill="#ff00ff"/><rect x="489" y="188" width="2" height="1" fill="#ff00ff"/><rect x="491" y="187" width="2" height="1" fill="#ff00ff"/><rect x="492" y="187" width="1" height="1" fill="#ff00ff"/><rect x="493" y="186" width="2" height="1" fill="#ff00ff"/><rect x="494" y="186" width="1" height="1" fill="#ff00ff"/><rect x="495" y="185" width="2" height="1" fill="#ff00ff"/><rect x="497" y="184" width="2" height="1" fill="#ff00ff"/><rect x="498" y="184" width="1" height="1" fill="#ff00ff"/><rect x="499" y="183" width="2" height="1" fill="#ff00ff"/><rect x="500" y="183" width="1" height="1" fill="#ff00ff"/><rect x="501" y="182" width="2" height="1" fill="#ff00ff"/><rect x="503" y="181" width="2" height="1" fill="#ff00ff"/><rect x="504" y="181" width="1" height="1" fill="#ff00ff"/><rect x="505" y="180" width="2" height="1" fill="#ff00ff"/><rect x="506" y="180" width="1" height="1" fill="#ff00ff"/><rect x="507" y="179" width="3" height="1" fill="#ff00ff"/><rect x="510" y="178" width="1" height="1" fill="#ff00ff"/><rect x="510" y="178" width="2" height="1" fill="#ff00ff"/><rect x="512" y="177" width="1" height="1" fill="#ff00ff"/><rect x="512" y="177" width="2" height="1" fill="#ff00ff"/><rect x="514" y="176" width="3" height="1" fill="#ff00ff"/><rect x="516" y="176" width="1" height="1" fill="#ff00ff"/><rect x="517" y="175" width="2" height="1" fill="#ff00ff"/><rect x="518" y="175" width="1" height="1" fill="#ff00ff"/><rect x="519" y="174" width="2" height="1" fill="#ff00ff"/><rect x="521" y="173" width="2" height="1" fill="#ff00ff"/><rect x="522" y="173" width="1" height="1" fill="#ff00ff"/><rect x="523" y="172" width="2" height="1" fill="#ff00ff"/><rect x="524" y="172" width="2" height="1" fill="#ff00ff"/><rect x="526" y="171" width="2" height="1" fill="#ff00ff"/><rect x="528" y="170" width="1" height="1" fill="#ff00ff"/><rect x="528" y="170" width="2" height="1" fill="#ff00ff"/><rect x="530" y="169" width="1" height="1" fill="#ff00ff"/><rect x="530" y="169" width="2" height="1" fill="#ff00ff"/><rect x="532" y="168" width="1" height="1" fill="#ff00ff"/><rect x="533" y="167" width="2" height="1" fill="#ff00ff"/><rect x="534" y="167" width="1" height="1" fill="#ff00ff"/><rect x="535" y="166" width="2" height="1" fill="#ff00ff"/><rect x="536" y="166" width="1" height="1" fill="#ff00ff"/><rect x="537" y="165" width="2" height="1" fill="#ff00ff"/><rect x="539" y="164" width="1" height="1" fill="#ff00ff"/><rect x="540" y="163" width="1" height="1" fill="#ff00ff"/><rect x="540" y="163" width="2" height="1" fill="#ff00ff"/><rect x="542" y="162" width="1" height="1" fill="#ff00ff"/><rect x="542" y="162" width="2" height="1" fill="#ff00ff"/><rect x="544" y="161" width="2" height="1" fill="#ff00ff"/><rect x="546" y="160" width="1" height="1" fill="#ff00ff"/><rect x="546" y="160" width="2" height="1" fill="#ff00ff"/><rect x="548" y="159" width="1" height="1" fill="#ff00ff"/><rect x="548" y="159" width="2" height="1" fill="#ff00ff"/><rect x="550" y="158" width="3" height="1" fill="#ff00ff"/><rect x="552" y="158" width="1" height="1" fill="#ff00ff"/><rect x="553" y="157" width="2" height="1" fill="#ff00ff"/><rect x="554" y="157" width="2" height="1" fill="#ff00ff"/><rect x="556" y="156" width="3" height="1" fill="#ff00ff"/><rect x="558" y="156" width="1" height="1" fill="#ff00ff"/><rect x="559" y="155" width="2" height="1" fill="#ff00ff"/><rect x="560" y="155" width="2" height="1" fill="#ff00ff"/><rect x="562" y="154" width="2" height="1" fill="#ff00ff"/><rect x="564" y="153" width="1" height="1" fill="#ff00ff"/><rect x="564" y="153" width="3" height="1" fill="#ff00ff"/><rect x="566" y="153" width="1" height="1" fill="#ff00ff"/><rect x="567" y="152" width="2" height="1" fill="#ff00ff"/><rect x="569" y="151" width="2" height="1" fill="#ff00ff"/><rect x="570" y="151" width="2" height="1" fill="#ff00ff"/><rect x="572" y="150" width="1" height="1" fill="#ff00ff"/><rect x="572" y="150" width="3" height="1" fill="#ff00ff"/><rect x="575" y="149" width="2" height="1" fill="#ff00ff"/><rect x="576" y="149" width="3" height="1" fill="#ff00ff"/><rect x="578" y="149" width="1" height="1" fill="#ff00ff"/><rect x="579" y="148" width="2" height="1" fill="#ff00ff"/><rect x="581" y="147" width="2" height="1" fill="#ff00ff"/><rect x="582" y="147" width="27" height="1" fill="#ff00ff"/><rect x="608" y="147" width="2" height="1" fill="#ff00ff"/><rect x="610" y="148" width="3" height="1" fill="#ff00ff"/><rect x="612" y="148" width="3" height="1" fill="#ff00ff"/><rect x="615" y="149" width="4" height="1" fill="#ff00ff"/><rect x="618" y="149" width="3" height="1" fill="#ff00ff"/><rect x="621" y="150" width="3" height="1" fill="#ff00ff"/><rect x="623" y="150" width="3" height="1" fill="#ff00ff"/><rect x="626" y="151" width="3" height="1" fill="#ff00ff"/><rect x="628" y="151" width="6" height="1" fill="#ff00ff"/><rect x="634" y="152" width="5" height="1" fill="#ff00ff"/><rect x="638" y="152" width="5" height="1" fill="#ff00ff"/><rect x="643" y="153" width="4" height="1" fill="#ff00ff"/><rect x="646" y="153" width="4" height="1" fill="#ff00ff"/>
<rect x="0" y="323" width="1" height="1" fill="#00c800"/><rect x="1" y="322" width="2" height="1" fill="#00c800"/><rect x="3" y="321" width="1" height="1" fill="#00c800"/><rect x="4" y="320" width="1" height="1" fill="#00c800"/><rect x="5" y="319" width="1" height="1" fill="#00c800"/><rect x="6" y="318" width="1" height="1" fill="#00c800"/><rect x="7" y="317" width="1" height="1" fill="#00c800"/><rect x="8" y="316" width="1" height="1" fill="#00c800"/><rect x="9" y="315" width="1" height="1" fill="#00c800"/><rect x="10" y="314" width="1" height="1" fill="#00c800"/><rect x="11" y="313" width="1" height="1" fill="#00c800"/><rect x="12" y="312" width="1" height="1" fill="#00c800"/><rect x="13" y="311" width="1" height="1" fill="#00c800"/><rect x="14" y="310" width="1" height="1" fill="#00c800"/><rect x="15" y="309" width="1" height="1" fill="#00c800"/><rect x="16" y="308" width="1" height="1" fill="#00c800"/><rect x="17" y="307" width="1" height="1" fill="#00c800"/><rect x="18" y="306" width="1" height="1" fill="#00c800"/><rect x="19" y="305" width="1" height="1" fill="#00c800"/><rect x="20" y="304" width="1" height="1" fill="#00c800"/><rect x="21" y="303" width="1" height="1" fill="#00c800"/><rect x="22" y="302" width="1" height="1" fill="#00c800"/><rect x="23" y="301" width="1" height="1" fill="#00c800"/><rect x="24" y="300" width="1" height="1" fill="#00c800"/><rect x="25" y="299" width="1" height="1" fill="#00c800"/><rect x="26" y="298" width="2" height="1" fill="#00c800"/><rect x="28" y="297" width="1" height="1" fill="#00c800"/><rect x="29" y="296" width="1" height="1" fill="#00c800"/><rect x="30" y="295" width="1" height="1" fill="#00c800"/><rect x="31" y="294" width="1" height="1" fill="#00c800"/><rect x="32" y="293" width="1" height="1" fill="#00c800"/><rect x="33" y="292" width="1" height="1" fill="#00c800"/><rect x="34" y="291" width="1" height="1" fill="#00c800"/><rect x="35" y="290" width="1" height="1" fill="#00c800"/><rect x="36" y="289" width="1" height="1" fill="#00c800"/><rect x="37" y="288" width="1" height="1" fill="#00c800"/><rect x="38" y="287" width="1" height="1" fill="#00c800"/><rect x="39" y="286" width="1" height="1" fill="#00c800"/><rect x="40" y="285" width="1" height="1" fill="#00c800"/><rect x="41" y="284" width="1" height="1" fill="#00c800"/><rect x="42" y="283" width="1" height="1" fill="#00c800"/><rect x="43" y="282" width="1" height="1" fill="#00c800"/><rect x="44" y="281" width="1" height="1" fill="#00c800"/><rect x="45" y="280" width="1" height="1" fill="#00c800"/><rect x="46" y="279" width="1" height="1" fill="#00c800"/><rect x="47" y="278" width="1" height="1" fill="#00c800"/><rect x="48" y="277" width="1" height="1" fill="#00c800"/><rect x="49" y="276" width="1" height="1" fill="#00c800"/><rect x="50" y="275" width="1" height="1" fill="#00c800"/><rect x="51" y="274" width="2" height="1" fill="#00c800"/><rect x="53" y="273" width="1" height="1" fill="#00c800"/><rect x="54" y="272" width="1" height="1" fill="#00c800"/><rect x="55" y="271" width="1" height="1" fill="#00c800"/><rect x="56" y="270" width="1" height="1" fill="#00c800"/><rect x="57" y="269" width="1" height="1" fill="#00c800"/><rect x="58" y="268" width="1" height="1" fill="#00c800"/><rect x="59" y="267" width="1" height="1" fill="#00c800"/><rect x="60" y="266" width="1" height="1" fill="#00c800"/><rect x="61" y="265" width="1" height="1" fill="#00c800"/><rect x="62" y="264" width="1" height="1" fill="#00c800"/><rect x="63" y="263" width="1" height="1" fill="#00c800"/><rect x="64" y="262" width="1" height="1" fill="#00c800"/><rect x="65" y="261" width="1" height="1" fill="#00c800"/><rect x="66" y="260" width="1" height="1" fill="#00c800"/><rect x="67" y="259" width="1" height="1" fill="#00c800"/><rect x="68" y="258" width="1" height="1" fill="#00c800"/><rect x="69" y="257" width="1" height="1" fill="#00c800"/><rect x="70" y="256" width="1" height="1" fill="#00c800"/><rect x="71" y="255" width="1" height="1" fill="#00c800"/><rect x="72" y="254" width="1" height="1" fill="#00c800"/><rect x="73" y="253" width="1" height="1" fill="#00c800"/><rect x="74" y="252" width="1" height="1" fill="#00c800"/><rect x="75" y="251" width="1" height="1" fill="#00c800"/><rect x="76" y="250" width="2" height="1" fill="#00c800"/><rect x="78" y="249" width="1" height="1" fill="#00c800"/><rect x="79" y="248" width="1" height="1" fill="#00c800"/><rect x="80" y="247" width="1" height="1" fill="#00c800"/><rect x="81" y="246" width="1" height="1" fill="#00c800"/><rect x="82" y="245" width="1" height="1" fill="#00c800"/><rect x="83" y="244" width="1" height="1" fill="#00c800"/><rect x="84" y="243" width="1" height="1" fill="#00c800"/><rect x="85" y="242" width="1" height="1" fill="#00c800"/><rect x="86" y="241" width="1" height="1" fill="#00c800"/><rect x="87" y="240" width="1" height="1" fill="#00c800"/><rect x="88" y="239" width="1" height="1" fill="#00c800"/><rect x="89" y="238" width="1" height="1" fill="#00c800"/><rect x="90" y="237" width="1" height="1" fill="#00c800"/><rect x="91" y="236" width="1" height="1" fill="#00c800"/><rect x="92" y="235" width="1" height="1" fill="#00c800"/><rect x="93" y="234" width="1" height="1" fill="#00c800"/><rect x="94" y="233" width="1" height="1" fill="#00c800"/><rect x="95" y="232" width="1" height="1" fill="#00c800"/><rect x="96" y="231" width="1" height="1" fill="#00c800"/><rect x="97" y="230" width="1" height="1" fill="#00c800"/><rect x="98" y="229" width="1" height="1" fill="#00c800"/><rect x="99" y="228" width="1" height="1" fill="#00c800"/><rect x="100" y="227" width="1" height="1" fill="#00c800"/><rect x="101" y="226" width="2" height="1" fill="#00c800"/><rect x="103" y="225" width="1" height="1" fill="#00c800"/><rect x="104" y="224" width="1" height="1" fill="#00c800"/><rect x="105" y="223" width="1" height="1" fill="#00c800"/><rect x="106" y="222" width="1" height="1" fill="#00c800"/><rect x="107" y="221" width="1" height="1" fill="#00c800"/><rect x="108" y="220" width="1" height="1" fill="#00c800"/><rect x="109" y="219" width="1" height="1" fill="#00c800"/><rect x="110" y="218" width="1" height="1" fill="#00c800"/><rect x="111" y="217" width="1" height="1" fill="#00c800"/><rect x="112" y="216" width="1" height="1" fill="#00c800"/><rect x="113" y="215" width="1" height="1" fill="#00c800"/><rect x="114" y="214" width="1" height="1" fill="#00c800"/><rect x="115" y="213" width="1" height="1" fill="#00c800"/><rect x="116" y="212" width="1" height="1" fill="#00c800"/><rect x="117" y="211" width="1" height="1" fill="#00c800"/><rect x="118" y="210" width="1" height="1" fill="#00c800"/><rect x="119" y="209" width="1" height="1" fill="#00c800"/><rect x="120" y="208" width="1" height="1" fill="#00c800"/><rect x="121" y="207" width="1" height="1" fill="#00c800"/><rect x="122" y="206" width="1" height="1" fill="#00c800"/><rect x="123" y="205" width="1" height="1" fill="#00c800"/><rect x="124" y="204" width="1" height="1" fill="#00c800"/><rect x="125" y="203" width="1" height="1" fill="#00c800"/><rect x="126" y="202" width="2" height="1" fill="#00c800"/><rect x="128" y="201" width="1" height="1" fill="#00c800"/><rect x="129" y="200" width="1" height="1" fill="#00c800"/><rect x="130" y="199" width="1" height="1" fill="#00c800"/><rect x="131" y="198" width="1" height="1" fill="#00c800"/><rect x="132" y="197" width="1" height="1" fill="#00c800"/><rect x="133" y="196" width="1" height="1" fill="#00c800"/><rect x="134" y="195" width="1" height="1" fill="#00c800"/><rect x="135" y="194" width="1" height="1" fill="#00c800"/><rect x="136" y="193" width="1" height="1" fill="#00c800"/><rect x="137" y="192" width="1" height="1" fill="#00c800"/><rect x="138" y="191" width="1" height="1" fill="#00c800"/><rect x="139" y="190" width="1" height="1" fill="#00c800"/><rect x="140" y="189" width="1" height="1" fill="#00c800"/><rect x="141" y="188" width="1" height="1" fill="#00c800"/><rect x="142" y="187" width="1" height="1" fill="#00c800"/><rect x="143" y="186" width="1" height="1" fill="#00c800"/><rect x="144" y="185" width="1" height="1" fill="#00c800"/><rect x="145" y="184" width="1" height="1" fill="#00c800"/><rect x="146" y="183" width="1" height="1" fill="#00c800"/><rect x="147" y="182" width="1" height="1" fill="#00c800"/><rect x="148" y="181" width="1" height="1" fill="#00c800"/><rect x="149" y="180" width="1" height="1" fill="#00c800"/><rect x="150" y="179" width="1" height="1" fill="#00c800"/><rect x="151" y="178" width="2" height="1" fill="#00c800"/><rect x="153" y="177" width="1" height="1" fill="#00c800"/><rect x="154" y="176" width="1" height="1" fill="#00c800"/><rect x="155" y="175" width="1" height="1" fill="#00c800"/><rect x="156" y="174" width="1" height="1" fill="#00c800"/><rect x="157" y="173" width="1" height="1" fill="#00c800"/><rect x="158" y="172" width="1" height="1" fill="#00c800"/><rect x="159" y="171" width="1" height="1" fill="#00c800"/><rect x="160" y="170" width="1" height="1" fill="#00c800"/><rect x="161" y="169" width="1" height="1" fill="#00c800"/><rect x="162" y="168" width="1" height="1" fill="#00c800"/><rect x="163" y="167" width="1" height="1" fill="#00c800"/><rect x="164" y="166" width="1" height="1" fill="#00c800"/><rect x="165" y="165" width="1" height="1" fill="#00c800"/><rect x="166" y="164" width="1" height="1" fill="#00c800"/><rect x="167" y="163" width="1" height="1" fill="#00c800"/><rect x="168" y="162" width="1" height="1" fill="#00c800"/><rect x="169" y="161" width="1" height="1" fill="#00c800"/><rect x="170" y="160" width="1" height="1" fill="#00c800"/><rect x="171" y="159" width="1" height="1" fill="#00c800"/><rect x="172" y="158" width="1" height="1" fill="#00c800"/><rect x="173" y="157" width="1" height="1" fill="#00c800"/><rect x="174" y="156" width="1" height="1" fill="#00c800"/><rect x="175" y="155" width="1" height="1" fill="#00c800"/><rect x="176" y="154" width="2" height="1" fill="#00c800"/><rect x="178" y="153" width="1" height="1" fill="#00c800"/><rect x="179" y="152" width="1" height="1" fill="#00c800"/><rect x="180" y="151" width="1" height="1" fill="#00c800"/><rect x="181" y="150" width="1" height="1" fill="#00c800"/><rect x="182" y="149" width="1" height="1" fill="#00c800"/><rect x="183" y="148" width="1" height="1" fill="#00c800"/><rect x="184" y="147" width="1" height="1" fill="#00c800"/><rect x="185" y="146" width="1" height="1" fill="#00c800"/><rect x="186" y="145" width="1" height="1" fill="#00c800"/><rect x="187" y="144" width="1" height="1" fill="#00c800"/><rect x="188" y="143" width="1" height="1" fill="#00c800"/><rect x="189" y="142" width="1" height="1" fill="#00c800"/><rect x="190" y="141" width="1" height="1" fill="#00c800"/><rect x="191" y="140" width="1" height="1" fill="#00c800"/><rect x="192" y="139" width="1" height="1" fill="#00c800"/><rect x="193" y="138" width="1" height="1" fill="#00c800"/><rect x="194" y="137" width="1" height="1" fill="#00c800"/><rect x="195" y="136" width="1" height="1" fill="#00c800"/><rect x="196" y="135" width="1" height="1" fill="#00c800"/><rect x="197" y="134" width="1" height="1" fill="#00c800"/><rect x="198" y="133" width="1" height="1" fill="#00c800"/><rect x="199" y="132" width="1" height="1" fill="#00c800"/><rect x="200" y="131" width="1" height="1" fill="#00c800"/><rect x="201" y="130" width="2" height="1" fill="#00c800"/><rect x="203" y="129" width="1" height="1" fill="#00c800"/><rect x="204" y="128" width="1" height="1" fill="#00c800"/><rect x="205" y="127" width="1" height="1" fill="#00c800"/><rect x="206" y="126" width="1" height="1" fill="#00c800"/><rect x="207" y="125" width="1" height="1" fill="#00c800"/><rect x="208" y="124" width="1" height="1" fill="#00c800"/><rect x="209" y="123" width="1" height="1" fill="#00c800"/><rect x="210" y="122" width="1" height="1" fill="#00c800"/><rect x="211" y="121" width="1" height="1" fill="#00c800"/><rect x="212" y="120" width="1" height="1" fill="#00c800"/><rect x="213" y="119" width="1" height="1" fill="#00c800"/><rect x="214" y="118" width="1" height="1" fill="#00c800"/><rect x="215" y="117" width="1" height="1" fill="#00c800"/><rect x="216" y="116" width="1" height="1" fill="#00c800"/><rect x="217" y="115" width="1" height="1" fill="#00c800"/><rect x="218" y="114" width="1" height="1" fill="#00c800"/><rect x="219" y="113" width="1" height="1" fill="#00c800"/><rect x="220" y="112" width="1" height="1" fill="#00c800"/><rect x="221" y="111" width="1" height="1" fill="#00c800"/><rect x="222" y="110" width="1" height="1" fill="#00c800"/><rect x="223" y="109" width="1" height="1" fill="#00c800"/><rect x="224" y="108" width="1" height="1" fill="#00c800"/><rect x="225" y="107" width="2" height="1" fill="#00c800"/><rect x="227" y="106" width="1" height="1" fill="#00c800"/><rect x="228" y="105" width="1" height="1" fill="#00c800"/><rect x="229" y="104" width="1" height="1" fill="#00c800"/><rect x="230" y="103" width="1" height="1" fill="#00c800"/><rect x="231" y="102" width="1" height="1" fill="#00c800"/><rect x="232" y="101" width="1" height="1" fill="#00c800"/><rect x="233" y="100" width="1" height="1" fill="#00c800"/><rect x="234" y="99" width="1" height="1" fill="#00c800"/><rect x="235" y="98" width="1" height="1" fill="#00c800"/><rect x="236" y="97" width="1" height="1" fill="#00c800"/><rect x="237" y="96" width="1" height="1" fill="#00c800"/><rect x="238" y="95" width="1" height="1" fill="#00c800"/><rect x="239" y="94" width="1" height="1" fill="#00c800"/><rect x="240" y="93" width="1" height="1" fill="#00c800"/><rect x="241" y="92" width="1" height="1" fill="#00c800"/><rect x="242" y="91" width="1" height="1" fill="#00c800"/><rect x="243" y="90" width="1" height="1" fill="#00c800"/><rect x="244" y="89" width="1" height="1" fill="#00c800"/><rect x="245" y="88" width="1" height="1" fill="#00c800"/><rect x="246" y="87" width="1" height="1" fill="#00c800"/><rect x="247" y="86" width="1" height="1" fill="#00c800"/><rect x="248" y="85" width="1" height="1" fill="#00c800"/><rect x="249" y="84" width="1" height="1" fill="#00c800"/><rect x="250" y="83" width="2" height="1" fill="#00c800"/><rect x="252" y="82" width="1" height="1" fill="#00c800"/><rect x="253" y="81" width="1" height="1" fill="#00c800"/><rect x="254" y="80" width="1" height="1" fill="#00c800"/><rect x="255" y="79" width="1" height="1" fill="#00c800"/><rect x="256" y="78" width="1" height="1" fill="#00c800"/><rect x="257" y="77" width="1" height="1" fill="#00c800"/><rect x="258" y="76" width="1" height="1" fill="#00c800"/><rect x="259" y="75" width="1" height="1" fill="#00c800"/><rect x="260" y="74" width="1" height="1" fill="#00c800"/><rect x="261" y="73" width="1" height="1" fill="#00c800"/><rect x="262" y="72" width="1" height="1" fill="#00c800"/><rect x="263" y="71" width="1" height="1" fill="#00c800"/>
<rect x="0" y="403" width="1" height="1" fill="#00c800"/><rect x="1" y="402" width="1" height="1" fill="#00c800"/><rect x="2" y="401" width="1" height="1" fill="#00c800"/><rect x="3" y="400" width="1" height="1" fill="#00c800"/><rect x="4" y="399" width="1" height="1" fill="#00c800"/><rect x="5" y="398" width="1" height="1" fill="#00c800"/><rect x="6" y="397" width="1" height="1" fill="#00c800"/><rect x="7" y="396" width="1" height="1" fill="#00c800"/><rect x="8" y="395" width="2" height="1" fill="#00c800"/><rect x="10" y="394" width="1" height="1" fill="#00c800"/><rect x="11" y="393" width="1" height="1" fill="#00c800"/><rect x="12" y="392" width="1" height="1" fill="#00c800"/><rect x="13" y="391" width="1" height="1" fill="#00c800"/><rect x="14" y="390" width="1" height="1" fill="#00c800"/><rect x="15" y="389" width="1" height="1" fill="#00c800"/><rect x="16" y="388" width="1" height="1" fill="#00c800"/><rect x="17" y="387" width="1" height="1" fill="#00c800"/><rect x="18" y="386" width="1" height="1" fill="#00c800"/><rect x="19" y="385" width="1" height="1" fill="#00c800"/><rect x="20" y="384" width="1" height="1" fill="#00c800"/><rect x="21" y="383" width="1" height="1" fill="#00c800"/><rect x="22" y="382" width="1" height="1" fill="#00c800"/><rect x="23" y="381" width="1" height="1" fill="#00c800"/><rect x="24" y="380" width="1" height="1" fill="#00c800"/><rect x="25" y="379" width="1" height="1" fill="#00c800"/><rect x="26" y="378" width="1" height="1" fill="#00c800"/><rect x="27" y="377" width="1" height="1" fill="#00c800"/><rect x="28" y="376" width="1" height="1" fill="#00c800"/><rect x="29" y="375" width="1" height="1" fill="#00c800"/><rect x="30" y="374" width="1" height="1" fill="#00c800"/><rect x="31" y="373" width="2" height="1" fill="#00c800"/><rect x="33" y="372" width="1" height="1" fill="#00c800"/><rect x="34" y="371" width="1" height="1" fill="#00c800"/><rect x="35" y="370" width="1" height="1" fill="#00c800"/><rect x="36" y="369" width="1" height="1" fill="#00c800"/><rect x="37" y="368" width="1" height="1" fill="#00c800"/><rect x="38" y="367" width="1" height="1" fill="#00c800"/><rect x="39" y="366" width="1" height="1" fill="#00c800"/><rect x="40" y="365" width="1" height="1" fill="#00c800"/><rect x="41" y="364" width="1" height="1" fill="#00c800"/><rect x="42" y="363" width="1" height="1" fill="#00c800"/><rect x="43" y="362" width="1" height="1" fill="#00c800"/><rect x="44" y="361" width="1" height="1" fill="#00c800"/><rect x="45" y="360" width="1" height="1" fill="#00c800"/><rect x="46" y="359" width="1" height="1" fill="#00c800"/><rect x="47" y="358" width="1" height="1" fill="#00c800"/><rect x="48" y="357" width="1" height="1" fill="#00c800"/><rect x="49" y="356" width="1" height="1" fill="#00c800"/><rect x="50" y="355" width="1" height="1" fill="#00c800"/><rect x="51" y="354" width="1" height="1" fill="#00c800"/><rect x="52" y="353" width="1" height="1" fill="#00c800"/><rect x="53" y="352" width="2" height="1" fill="#00c800"/><rect x="55" y="351" width="1" height="1" fill="#00c800"/><rect x="56" y="350" width="1" height="1" fill="#00c800"/><rect x="57" y="349" width="1" height="1" fill="#00c800"/><rect x="58" y="348" width="1" height="1" fill="#00c800"/><rect x="59" y="347" width="1" height="1" fill="#00c800"/><rect x="60" y="346" width="1" height="1" fill="#00c800"/><rect x="61" y="345" width="1" height="1" fill="#00c800"/><rect x="62" y="344" width="1" height="1" fill="#00c800"/><rect x="63" y="343" width="1" height="1" fill="#00c800"/><rect x="64" y="342" width="1" height="1" fill="#00c800"/><rect x="65" y="341" width="1" height="1" fill="#00c800"/><rect x="66" y="340" width="1" height="1" fill="#00c800"/><rect x="67" y="339" width="1" height="1" fill="#00c800"/><rect x="68" y="338" width="1" height="1" fill="#00c800"/><rect x="69" y="337" width="1" height="1" fill="#00c800"/><rect x="70" y="336" width="1" height="1" fill="#00c800"/><rect x="71" y="335" width="1" height="1" fill="#00c800"/><rect x="72" y="334" width="1" height="1" fill="#00c800"/><rect x="73" y="333" width="1" height="1" fill="#00c800"/><rect x="74" y="332" width="1" height="1" fill="#00c800"/><rect x="75" y="331" width="1" height="1" fill="#00c800"/><rect x="76" y="330" width="2" height="1" fill="#00c800"/><rect x="78" y="329" width="1" height="1" fill="#00c800"/><rect x="79" y="328" width="1" height="1" fill="#00c800"/><rect x="80" y="327" width="1" height="1" fill="#00c800"/><rect x="81" y="326" width="1" height="1" fill="#00c800"/><rect x="82" y="325" width="1" height="1" fill="#00c800"/><rect x="83" y="324" width="1" height="1" fill="#00c800"/><rect x="84" y="323" width="1" height="1" fill="#00c800"/><rect x="85" y="322" width="1" height="1" fill="#00c800"/><rect x="86" y="321" width="1" height="1" fill="#00c800"/><rect x="87" y="320" width="1" height="1" fill="#00c800"/><rect x="88" y="319" width="1" height="1" fill="#00c800"/><rect x="89" y="318" width="1" height="1" fill="#00c800"/><rect x="90" y="317" width="1" height="1" fill="#00c800"/><rect x="91" y="316" width="1" height="1" fill="#00c800"/><rect x="92" y="315" width="1" height="1" fill="#00c800"/><rect x="93" y="314" width="1" height="1" fill="#00c800"/><rect x="94" y="313" width="1" height="1" fill="#00c800"/><rect x="95" y="312" width="1" height="1" fill="#00c800"/><rect x="96" y="311" width="1" height="1" fill="#00c800"/><rect x="97" y="310" width="1" height="1" fill="#00c800"/><rect x="98" y="309" width="1" height="1" fill="#00c800"/><rect x="99" y="308" width="2" height="1" fill="#00c800"/><rect x="101" y="307" width="1" height="1" fill="#00c800"/><rect x="102" y="306" width="1" height="1" fill="#00c800"/><rect x="103" y="305" width="1" height="1" fill="#00c800"/><rect x="104" y="304" width="1" height="1" fill="#00c800"/><rect x="105" y="303" width="1" height="1" fill="#00c800"/><rect x="106" y="302" width="1" height="1" fill="#00c800"/><rect x="107" y="301" width="1" height="1" fill="#00c800"/><rect x="108" y="300" width="1" height="1" fill="#00c800"/><rect x="109" y="299" width="1" height="1" fill="#00c800"/><rect x="110" y="298" width="1" height="1" fill="#00c800"/><rect x="111" y="297" width="1" height="1" fill="#00c800"/><rect x="112" y="296" width="1" height="1" fill="#00c800"/><rect x="113" y="295" width="1" height="1" fill="#00c800"/><rect x="114" y="294" width="1" height="1" fill="#00c800"/><rect x="115" y="293" width="1" height="1" fill="#00c800"/><rect x="116" y="292" width="1" height="1" fill="#00c800"/><rect x="117" y="291" width="1" height="1" fill="#00c800"/><rect x="118" y="290" width="1" height="1" fill="#00c800"/><rect x="119" y="289" width="1" height="1" fill="#00c800"/><rect x="120" y="288" width="1" height="1" fill="#00c800"/><rect x="121" y="287" width="2" height="1" fill="#00c800"/><rect x="123" y="286" width="1" height="1" fill="#00c800"/><rect x="124" y="285" width="1" height="1" fill="#00c800"/><rect x="125" y="284" width="1" height="1" fill="#00c800"/><rect x="126" y="283" width="1" height="1" fill="#00c800"/><rect x="127" y="282" width="1" height="1" fill="#00c800"/><rect x="128" y="281" width="1" height="1" fill="#00c800"/><rect x="129" y="280" width="1" height="1" fill="#00c800"/><rect x="130" y="279" width="1" height="1" fill="#00c800"/><rect x="131" y="278" width="1" height="1" fill="#00c800"/><rect x="132" y="277" width="1" height="1" fill="#00c800"/><rect x="133" y="276" width="1" height="1" fill="#00c800"/><rect x="134" y="275" width="1" height="1" fill="#00c800"/><rect x="135" y="274" width="1" height="1" fill="#00c800"/><rect x="136" y="273" width="1" height="1" fill="#00c800"/><rect x="137" y="272" width="1" height="1" fill="#00c800"/><rect x="138" y="271" width="1" height="1" fill="#00c800"/><rect x="139" y="270" width="1" height="1" fill="#00c800"/><rect x="140" y="269" width="1" height="1" fill="#00c800"/><rect x="141" y="268" width="1" height="1" fill="#00c800"/><rect x="142" y="267" width="1" height="1" fill="#00c800"/><rect x="143" y="266" width="1" height="1" fill="#00c800"/><rect x="144" y="265" width="2" height="1" fill="#00c800"/><rect x="146" y="264" width="1" height="1" fill="#00c800"/><rect x="147" y="263" width="1" height="1" fill="#00c800"/><rect x="148" y="262" width="1" height="1" fill="#00c800"/><rect x="149" y="261" width="1" height="1" fill="#00c800"/><rect x="150" y="260" width="1" height="1" fill="#00c800"/><rect x="151" y="259" width="1" height="1" fill="#00c800"/><rect x="152" y="258" width="1" height="1" fill="#00c800"/><rect x="153" y="257" width="1" height="1" fill="#00c800"/><rect x="154" y="256" width="1" height="1" fill="#00c800"/><rect x="155" y="255" width="1" height="1" fill="#00c800"/><rect x="156" y="254" width="1" height="1" fill="#00c800"/><rect x="157" y="253" width="1" height="1" fill="#00c800"/><rect x="158" y="252" width="1" height="1" fill="#00c800"/><rect x="159" y="251" width="1" height="1" fill="#00c800"/><rect x="160" y="250" width="1" height="1" fill="#00c800"/><rect x="161" y="249" width="1" height="1" fill="#00c800"/><rect x="162" y="248" width="1" height="1" fill="#00c800"/><rect x="163" y="247" width="1" height="1" fill="#00c800"/><rect x="164" y="246" width="1" height="1" fill="#00c800"/><rect x="165" y="245" width="1" height="1" fill="#00c800"/><rect x="166" y="244" width="1" height="1" fill="#00c800"/><rect x="167" y="243" width="2" height="1" fill="#00c800"/><rect x="169" y="242" width="1" height="1" fill="#00c800"/><rect x="170" y="241" width="1" height="1" fill="#00c800"/><rect x="171" y="240" width="1" height="1" fill="#00c800"/><rect x="172" y="239" width="1" height="1" fill="#00c800"/><rect x="173" y="238" width="1" height="1" fill="#00c800"/><rect x="174" y="237" width="1" height="1" fill="#00c800"/><rect x="175" y="236" width="1" height="1" fill="#00c800"/><rect x="176" y="235" width="1" height="1" fill="#00c800"/><rect x="177" y="234" width="1" height="1" fill="#00c800"/><rect x="178" y="233" width="1" height="1" fill="#00c800"/><rect x="179" y="232" width="1" height="1" fill="#00c800"/><rect x="180" y="231" width="1" height="1" fill="#00c800"/><rect x="181" y="230" width="1" height="1" fill="#00c800"/><rect x="182" y="229" width="1" height="1" fill="#00c800"/><rect x="183" y="228" width="1" height="1" fill="#00c800"/><rect x="184" y="227" width="1" height="1" fill="#00c800"/><rect x="185" y="226" width="1" height="1" fill="#00c800"/><rect x="186" y="225" width="1" height="1" fill="#00c800"/><rect x="187" y="224" width="1" height="1" fill="#00c800"/><rect x="188" y="223" width="1" height="1" fill="#00c800"/><rect x="189" y="222" width="2" height="1" fill="#00c800"/><rect x="191" y="221" width="1" height="1" fill="#00c800"/><rect x="192" y="220" width="1" height="1" fill="#00c800"/><rect x="193" y="219" width="1" height="1" fill="#00c800"/><rect x="194" y="218" width="1" height="1" fill="#00c800"/><rect x="195" y="217" width="1" height="1" fill="#00c800"/><rect x="196" y="216" width="1" height="1" fill="#00c800"/><rect x="197" y="215" width="1" height="1" fill="#00c800"/><rect x="198" y="214" width="1" height="1" fill="#00c800"/><rect x="199" y="213" width="1" height="1" fill="#00c800"/><rect x="200" y="212" width="1" height="1" fill="#00c800"/><rect x="201" y="211" width="1" height="1" fill="#00c800"/><rect x="202" y="210" width="1" height="1" fill="#00c800"/><rect x="203" y="209" width="1" height="1" fill="#00c800"/><rect x="204" y="208" width="1" height="1" fill="#00c800"/><rect x="205" y="207" width="1" height="1" fill="#00c800"/><rect x="206" y="206" width="1" height="1" fill="#00c800"/><rect x="207" y="205" width="1" height="1" fill="#00c800"/><rect x="208" y="204" width="1" height="1" fill="#00c800"/><rect x="209" y="203" width="1" height="1" fill="#00c800"/><rect x="210" y="202" width="1" height="1" fill="#00c800"/><rect x="211" y="201" width="1" height="1" fill="#00c800"/><rect x="212" y="200" width="2" height="1" fill="#00c800"/><rect x="214" y="199" width="1" height="1" fill="#00c800"/><rect x="215" y="198" width="1" height="1" fill="#00c800"/><rect x="216" y="197" width="1" height="1" fill="#00c800"/><rect x="217" y="196" width="1" height="1" fill="#00c800"/><rect x="218" y="195" width="1" height="1" fill="#00c800"/><rect x="219" y="194" width="1" height="1" fill="#00c800"/><rect x="220" y="193" width="1" height="1" fill="#00c800"/><rect x="221" y="192" width="1" height="1" fill="#00c800"/><rect x="222" y="191" width="1" height="1" fill="#00c800"/><rect x="223" y="190" width="1" height="1" fill="#00c800"/><rect x="224" y="189" width="1" height="1" fill="#00c800"/><rect x="225" y="188" width="1" height="1" fill="#00c800"/><rect x="226" y="187" width="1" height="1" fill="#00c800"/><rect x="227" y="186" width="1" height="1" fill="#00c800"/><rect x="228" y="185" width="1" height="1" fill="#00c800"/><rect x="229" y="184" width="1" height="1" fill="#00c800"/><rect x="230" y="183" width="1" height="1" fill="#00c800"/><rect x="231" y="182" width="1" height="1" fill="#00c800"/><rect x="232" y="181" width="1" height="1" fill="#00c800"/><rect x="233" y="180" width="1" height="1" fill="#00c800"/><rect x="234" y="179" width="1" height="1" fill="#00c800"/><rect x="235" y="178" width="2" height="1" fill="#00c800"/><rect x="237" y="177" width="1" height="1" fill="#00c800"/><rect x="238" y="176" width="1" height="1" fill="#00c800"/><rect x="239" y="175" width="1" height="1" fill="#00c800"/><rect x="240" y="174" width="1" height="1" fill="#00c800"/><rect x="241" y="173" width="1" height="1" fill="#00c800"/><rect x="242" y="172" width="1" height="1" fill="#00c800"/><rect x="243" y="171" width="1" height="1" fill="#00c800"/><rect x="244" y="170" width="1" height="1" fill="#00c800"/><rect x="245" y="169" width="1" height="1" fill="#00c800"/><rect x="246" y="168" width="1" height="1" fill="#00c800"/><rect x="247" y="167" width="1" height="1" fill="#00c800"/><rect x="248" y="166" width="1" height="1" fill="#00c800"/><rect x="249" y="165" width="1" height="1" fill="#00c800"/><rect x="250" y="164" width="1" height="1" fill="#00c800"/><rect x="251" y="163" width="1" height="1" fill="#00c800"/><rect x="252" y="162" width="1" height="1" fill="#00c800"/><rect x="253" y="161" width="1" height="1" fill="#00c800"/><rect x="254" y="160" width="1" height="1" fill="#00c800"/><rect x="255" y="159" width="1" height="1" fill="#00c800"/><rect x="256" y="158" width="1" height="1" fill="#00c800"/><rect x="257" y="157" width="2" height="1" fill="#00c800"/><rect x="259" y="156" width="1" height="1" fill="#00c800"/><rect x="260" y="155" width="1" height="1" fill="#00c800"/><rect x="261" y="154" width="1" height="1" fill="#00c800"/><rect x="262" y="153" width="1" height="1" fill="#00c800"/><rect x="263" y="152" width="1" height="1" fill="#00c800"/><rect x="264" y="151" width="1" height="1" fill="#00c800"/><rect x="265" y="150" width="1" height="1" fill="#00c800"/><rect x="266" y="149" width="1" height="1" fill="#00c800"/><rect x="267" y="148" width="1" height="1" fill="#00c800"/><rect x="268" y="147" width="1" height="1" fill="#00c800"/><rect x="269" y="146" width="1" height="1" fill="#00c800"/><rect x="270" y="145" width="1" height="1" fill="#00c800"/><rect x="271" y="144" width="1" height="1" fill="#00c800"/><rect x="272" y="143" width="1" height="1" fill="#00c800"/><rect x="273" y="142" width="1" height="1" fill="#00c800"/><rect x="274" y="141" width="1" height="1" fill="#00c800"/><rect x="275" y="140" width="1" height="1" fill="#00c800"/><rect x="276" y="139" width="1" height="1" fill="#00c800"/><rect x="277" y="138" width="1" height="1" fill="#00c800"/><rect x="278" y="137" width="1" height="1" fill="#00c800"/><rect x="279" y="136" width="1" height="1" fill="#00c800"/><rect x="280" y="135" width="2" height="1" fill="#00c800"/><rect x="282" y="134" width="1" height="1" fill="#00c800"/><rect x="283" y="133" width="1" height="1" fill="#00c800"/><rect x="284" y="132" width="1" height="1" fill="#00c800"/><rect x="285" y="131" width="1" height="1" fill="#00c800"/><rect x="286" y="130" width="1" height="1" fill="#00c800"/><rect x="287" y="129" width="1" height="1" fill="#00c800"/><rect x="288" y="128" width="1" height="1" fill="#00c800"/><rect x="289" y="127" width="1" height="1" fill="#00c800"/><rect x="290" y="126" width="1" height="1" fill="#00c800"/><rect x="291" y="125" width="1" height="1" fill="#00c800"/><rect x="292" y="124" width="1" height="1" fill="#00c800"/><rect x="293" y="123" width="1" height="1" fill="#00c800"/><rect x="294" y="122" width="1" height="1" fill="#00c800"/><rect x="295" y="121" width="1" height="1" fill="#00c800"/><rect x="296" y="120" width="1" height="1" fill="#00c800"/><rect x="297" y="119" width="1" height="1" fill="#00c800"/><rect x="298" y="118" width="1" height="1" fill="#00c800"/><rect x="299" y="117" width="1" height="1" fill="#00c800"/><rect x="300" y="116" width="1" height="1" fill="#00c800"/><rect x="301" y="115" width="1" height="1" fill="#00c800"/><rect x="302" y="114" width="1" height="1" fill="#00c800"/><rect x="303" y="113" width="2" height="1" fill="#00c800"/><rect x="305" y="112" width="1" height="1" fill="#00c800"/>
<rect x="377" y="98" width="1" height="3" fill="#00c800"/><rect x="376" y="101" width="1" height="4" fill="#00c800"/><rect x="375" y="105" width="1" height="3" fill="#00c800"/><rect x="374" y="108" width="1" height="3" fill="#00c800"/><rect x="373" y="111" width="1" height="3" fill="#00c800"/><rect x="372" y="114" width="1" height="4" fill="#00c800"/><rect x="371" y="118" width="1" height="3" fill="#00c800"/><rect x="370" y="121" width="1" height="3" fill="#00c800"/><rect x="369" y="124" width="1" height="3" fill="#00c800"/><rect x="368" y="127" width="1" height="4" fill="#00c800"/><rect x="367" y="131" width="1" height="3" fill="#00c800"/><rect x="366" y="134" width="1" height="3" fill="#00c800"/><rect x="365" y="137" width="1" height="3" fill="#00c800"/><rect x="364" y="140" width="1" height="4" fill="#00c800"/><rect x="363" y="144" width="1" height="3" fill="#00c800"/><rect x="362" y="147" width="1" height="3" fill="#00c800"/><rect x="361" y="150" width="1" height="3" fill="#00c800"/><rect x="360" y="153" width="1" height="4" fill="#00c800"/><rect x="359" y="157" width="1" height="3" fill="#00c800"/><rect x="358" y="160" width="1" height="3" fill="#00c800"/><rect x="357" y="163" width="1" height="3" fill="#00c800"/><rect x="356" y="166" width="1" height="4" fill="#00c800"/><rect x="355" y="170" width="1" height="3" fill="#00c800"/><rect x="354" y="173" width="1" height="3" fill="#00c800"/><rect x="353" y="176" width="1" height="3" fill="#00c800"/><rect x="352" y="179" width="1" height="4" fill="#00c800"/><rect x="351" y="183" width="1" height="3" fill="#00c800"/><rect x="350" y="186" width="1" height="3" fill="#00c800"/><rect x="349" y="189" width="1" height="3" fill="#00c800"/><rect x="348" y="192" width="1" height="4" fill="#00c800"/><rect x="347" y="196" width="1" height="3" fill="#00c800"/><rect x="346" y="199" width="1" height="3" fill="#00c800"/><rect x="345" y="202" width="1" height="3" fill="#00c800"/><rect x="344" y="205" width="1" height="4" fill="#00c800"/><rect x="343" y="209" width="1" height="3" fill="#00c800"/><rect x="342" y="212" width="1" height="3" fill="#00c800"/><rect x="341" y="215" width="1" height="3" fill="#00c800"/><rect x="340" y="218" width="1" height="4" fill="#00c800"/><rect x="339" y="222" width="1" height="3" fill="#00c800"/><rect x="338" y="225" width="1" height="3" fill="#00c800"/><rect x="337" y="228" width="1" height="3" fill="#00c800"/><rect x="336" y="231" width="1" height="4" fill="#00c800"/><rect x="335" y="235" width="1" height="3" fill="#00c800"/><rect x="334" y="238" width="1" height="3" fill="#00c800"/><rect x="333" y="241" width="1" height="4" fill="#00c800"/><rect x="332" y="245" width="1" height="3" fill="#00c800"/><rect x="331" y="248" width="1" height="3" fill="#00c800"/><rect x="330" y="251" width="1" height="3" fill="#00c800"/><rect x="329" y="254" width="1" height="4" fill="#00c800"/><rect x="328" y="258" width="1" height="1" fill="#00c800"/>
<rect x="456" y="74" width="1" height="1" fill="#00c800"/><rect x="455" y="75" width="1" height="2" fill="#00c800"/><rect x="454" y="77" width="1" height="1" fill="#00c800"/><rect x="453" y="78" width="1" height="1" fill="#00c800"/><rect x="452" y="79" width="1" height="2" fill="#00c800"/><rect x="451" y="81" width="1" height="1" fill="#00c800"/><rect x="450" y="82" width="1" height="2" fill="#00c800"/><rect x="449" y="84" width="1" height="1" fill="#00c800"/><rect x="448" y="85" width="1" height="2" fill="#00c800"/><rect x="447" y="87" width="1" height="1" fill="#00c800"/><rect x="446" y="88" width="1" height="1" fill="#00c800"/><rect x="445" y="89" width="1" height="2" fill="#00c800"/><rect x="444" y="91" width="1" height="1" fill="#00c800"/><rect x="443" y="92" width="1" height="2" fill="#00c800"/><rect x="442" y="94" width="1" height="1" fill="#00c800"/><rect x="441" y="95" width="1" height="1" fill="#00c800"/><rect x="440" y="96" width="1" height="2" fill="#00c800"/><rect x="439" y="98" width="1" height="1" fill="#00c800"/><rect x="438" y="99" width="1" height="2" fill="#00c800"/><rect x="437" y="101" width="1" height="1" fill="#00c800"/><rect x="436" y="102" width="1" height="1" fill="#00c800"/><rect x="435" y="103" width="1" height="2" fill="#00c800"/><rect x="434" y="105" width="1" height="1" fill="#00c800"/><rect x="433" y="106" width="1" height="2" fill="#00c800"/><rect x="432" y="108" width="1" height="1" fill="#00c800"/><rect x="431" y="109" width="1" height="1" fill="#00c800"/><rect x="430" y="110" width="1" height="2" fill="#00c800"/><rect x="429" y="112" width="1" height="1" fill="#00c800"/><rect x="428" y="113" width="1" height="2" fill="#00c800"/><rect x="427" y="115" width="1" height="1" fill="#00c800"/><rect x="426" y="116" width="1" height="1" fill="#00c800"/><rect x="425" y="117" width="1" height="2" fill="#00c800"/><rect x="424" y="119" width="1" height="1" fill="#00c800"/><rect x="423" y="120" width="1" height="2" fill="#00c800"/><rect x="422" y="122" width="1" height="1" fill="#00c800"/><rect x="421" y="123" width="1" height="1" fill="#00c800"/><rect x="420" y="124" width="1" height="2" fill="#00c800"/><rect x="419" y="126" width="1" height="1" fill="#00c800"/><rect x="418" y="127" width="1" height="2" fill="#00c800"/><rect x="417" y="129" width="1" height="1" fill="#00c800"/><rect x="416" y="130" width="1" height="2" fill="#00c800"/><rect x="415" y="132" width="1" height="1" fill="#00c800"/><rect x="414" y="133" width="1" height="1" fill="#00c800"/><rect x="413" y="134" width="1" height="2" fill="#00c800"/><rect x="412" y="136" width="1" height="1" fill="#00c800"/><rect x="411" y="137" width="1" height="2" fill="#00c800"/><rect x="410" y="139" width="1" height="1" fill="#00c800"/><rect x="409" y="140" width="1" height="1" fill="#00c800"/><rect x="408" y="141" width="1" height="2" fill="#00c800"/><rect x="407" y="143" width="1" height="1" fill="#00c800"/><rect x="406" y="144" width="1" height="2" fill="#00c800"/><rect x="405" y="146" width="1" height="1" fill="#00c800"/><rect x="404" y="147" width="1" height="1" fill="#00c800"/><rect x="403" y="148" width="1" height="2" fill="#00c800"/><rect x="402" y="150" width="1" height="1" fill="#00c800"/><rect x="401" y="151" width="1" height="2" fill="#00c800"/><rect x="400" y="153" width="1" height="1" fill="#00c800"/><rect x="399" y="154" width="1" height="1" fill="#00c800"/><rect x="398" y="155" width="1" height="2" fill="#00c800"/><rect x="397" y="157" width="1" height="1" fill="#00c800"/><rect x="396" y="158" width="1" height="2" fill="#00c800"/><rect x="395" y="160" width="1" height="1" fill="#00c800"/><rect x="394" y="161" width="1" height="1" fill="#00c800"/><rect x="393" y="162" width="1" height="2" fill="#00c800"/><rect x="392" y="164" width="1" height="1" fill="#00c800"/><rect x="391" y="165" width="1" height="2" fill="#00c800"/><rect x="390" y="167" width="1" height="1" fill="#00c800"/><rect x="389" y="168" width="1" height="1" fill="#00c800"/><rect x="388" y="169" width="1" height="2" fill="#00c800"/><rect x="387" y="171" width="1" height="1" fill="#00c800"/><rect x="386" y="172" width="1" height="2" fill="#00c800"/><rect x="385" y="174" width="1" height="1" fill="#00c800"/><rect x="384" y="175" width="1" height="2" fill="#00c800"/><rect x="383" y="177" width="1" height="1" fill="#00c800"/><rect x="382" y="178" width="1" height="1" fill="#00c800"/><rect x="381" y="179" width="1" height="2" fill="#00c800"/><rect x="380" y="181" width="1" height="1" fill="#00c800"/><rect x="379" y="182" width="1" height="2" fill="#00c800"/><rect x="378" y="184" width="1" height="1" fill="#00c800"/><rect x="377" y="185" width="1" height="1" fill="#00c800"/><rect x="376" y="186" width="1" height="2" fill="#00c800"/><rect x="375" y="188" width="1" height="1" fill="#00c800"/><rect x="374" y="189" width="1" height="2" fill="#00c800"/><rect x="373" y="191" width="1" height="1" fill="#00c800"/><rect x="372" y="192" width="1" height="1" fill="#00c800"/><rect x="371" y="193" width="1" height="2" fill="#00c800"/><rect x="370" y="195" width="1" height="1" fill="#00c800"/><rect x="369" y="196" width="1" height="2" fill="#00c800"/><rect x="368" y="198" width="1" height="1" fill="#00c800"/><rect x="367" y="199" width="1" height="1" fill="#00c800"/><rect x="366" y="200" width="1" height="2" fill="#00c800"/><rect x="365" y="202" width="1" height="1" fill="#00c800"/><rect x="364" y="203" width="1" height="2" fill="#00c800"/><rect x="363" y="205" width="1" height="1" fill="#00c800"/><rect x="362" y="206" width="1" height="1" fill="#00c800"/><rect x="361" y="207" width="1" height="2" fill="#00c800"/><rect x="360" y="209" width="1" height="1" fill="#00c800"/><rect x="359" y="210" width="1" height="2" fill="#00c800"/><rect x="358" y="212" width="1" height="1" fill="#00c800"/><rect x="357" y="213" width="1" height="1" fill="#00c800"/><rect x="356" y="214" width="1" height="2" fill="#00c800"/><rect x="355" y="216" width="1" height="1" fill="#00c800"/><rect x="354" y="217" width="1" height="2" fill="#00c800"/><rect x="353" y="219" width="1" height="1" fill="#00c800"/><rect x="352" y="220" width="1" height="2" fill="#00c800"/><rect x="351" y="222" width="1" height="1" fill="#00c800"/><rect x="350" y="223" width="1" height="1" fill="#00c800"/><rect x="349" y="224" width="1" height="2" fill="#00c800"/><rect x="348" y="226" width="1" height="1" fill="#00c800"/><rect x="347" y="227" width="1" height="2" fill="#00c800"/><rect x="346" y="229" width="1" height="1" fill="#00c800"/><rect x="345" y="230" width="1" height="1" fill="#00c800"/><rect x="344" y="231" width="1" height="2" fill="#00c800"/><rect x="343" y="233" width="1" height="1" fill="#00c800"/><rect x="342" y="234" width="1" height="2" fill="#00c800"/><rect x="341" y="236" width="1" height="1" fill="#00c800"/><rect x="340" y="237" width="1" height="1" fill="#00c800"/><rect x="339" y="238" width="1" height="2" fill="#00c800"/><rect x="338" y="240" width="1" height="1" fill="#00c800"/><rect x="337" y="241" width="1" height="2" fill="#00c800"/><rect x="336" y="243" width="1" height="1" fill="#00c800"/><rect x="335" y="244" width="1" height="1" fill="#00c800"/><rect x="334" y="245" width="1" height="2" fill="#00c800"/><rect x="333" y="247" width="1" height="1" fill="#00c800"/><rect x="332" y="248" width="1" height="2" fill="#00c800"/><rect x="331" y="250" width="1" height="1" fill="#00c800"/><rect x="330" y="251" width="1" height="1" fill="#00c800"/><rect x="329" y="252" width="1" height="2" fill="#00c800"/><rect x="328" y="254" width="1" height="1" fill="#00c800"/><rect x="327" y="255" width="1" height="2" fill="#00c800"/><rect x="326" y="257" width="1" height="1" fill="#00c800"/>
<rect x="271" y="95" width="1" height="1" fill="#0000ff"/><rect x="272" y="96" width="2" height="1" fill="#0000ff"/><rect x="274" y="97" width="1" height="1" fill="#0000ff"/><rect x="275" y="98" width="1" height="1" fill="#0000ff"/><rect x="276" y="99" width="2" height="1" fill="#0000ff"/><rect x="278" y="100" width="1" height="1" fill="#0000ff"/><rect x="279" y="101" width="1" height="1" fill="#0000ff"/><rect x="280" y="102" width="2" height="1" fill="#0000ff"/><rect x="282" y="103" width="1" height="1" fill="#0000ff"/><rect x="283" y="104" width="1" height="1" fill="#0000ff"/><rect x="284" y="105" width="2" height="1" fill="#0000ff"/><rect x="286" y="106" width="1" height="1" fill="#0000ff"/><rect x="287" y="107" width="1" height="1" fill="#0000ff"/><rect x="288" y="108" width="2" height="1" fill="#0000ff"/><rect x="290" y="109" width="1" height="1" fill="#0000ff"/><rect x="291" y="110" width="1" height="1" fill="#0000ff"/><rect x="292" y="111" width="2" height="1" fill="#0000ff"/><rect x="294" y="112" width="1" height="1" fill="#0000ff"/><rect x="295" y="113" width="1" height="1" fill="#0000ff"/><rect x="296" y="114" width="2" height="1" fill="#0000ff"/><rect x="298" y="115" width="1" height="1" fill="#0000ff"/><rect x="299" y="116" width="1" height="1" fill="#0000ff"/><rect x="300" y="117" width="2" height="1" fill="#0000ff"/><rect x="302" y="118" width="1" height="1" fill="#0000ff"/><rect x="303" y="119" width="1" height="1" fill="#0000ff"/><rect x="304" y="120" width="2" height="1" fill="#0000ff"/><rect x="306" y="121" width="1" height="1" fill="#0000ff"/><rect x="307" y="122" width="2" height="1" fill="#0000ff"/><rect x="309" y="123" width="1" height="1" fill="#0000ff"/><rect x="310" y="124" width="1" height="1" fill="#0000ff"/><rect x="311" y="125" width="2" height="1" fill="#0000ff"/><rect x="313" y="126" width="1" height="1" fill="#0000ff"/><rect x="314" y="127" width="1" height="1" fill="#0000ff"/><rect x="315" y="128" width="2" height="1" fill="#0000ff"/><rect x="317" y="129" width="1" height="1" fill="#0000ff"/><rect x="318" y="130" width="1" height="1" fill="#0000ff"/><rect x="319" y="131" width="2" height="1" fill="#0000ff"/><rect x="321" y="132" width="1" height="1" fill="#0000ff"/><rect x="322" y="133" width="1" height="1" fill="#0000ff"/><rect x="323" y="134" width="2" height="1" fill="#0000ff"/><rect x="325" y="135" width="1" height="1" fill="#0000ff"/><rect x="326" y="136" width="1" height="1" fill="#0000ff"/><rect x="327" y="137" width="2" height="1" fill="#0000ff"/><rect x="329" y="138" width="1" height="1" fill="#0000ff"/><rect x="330" y="139" width="1" height="1" fill="#0000ff"/><rect x="331" y="140" width="2" height="1" fill="#0000ff"/><rect x="333" y="141" width="1" height="1" fill="#0000ff"/><rect x="334" y="142" width="1" height="1" fill="#0000ff"/><rect x="335" y="143" width="2" height="1" fill="#0000ff"/><rect x="337" y="144" width="1" height="1" fill="#0000ff"/><rect x="338" y="145" width="1" height="1" fill="#0000ff"/><rect x="339" y="146" width="2" height="1" fill="#0000ff"/><rect x="341" y="147" width="1" height="1" fill="#0000ff"/><rect x="342" y="148" width="1" height="1" fill="#0000ff"/><rect x="343" y="149" width="2" height="1" fill="#0000ff"/><rect x="345" y="150" width="1" height="1" fill="#0000ff"/><rect x="346" y="151" width="1" height="1" fill="#0000ff"/><rect x="347" y="152" width="2" height="1" fill="#0000ff"/><rect x="349" y="153" width="1" height="1" fill="#0000ff"/><rect x="350" y="154" width="1" height="1" fill="#0000ff"/><rect x="351" y="155" width="2" height="1" fill="#0000ff"/><rect x="353" y="156" width="1" height="1" fill="#0000ff"/><rect x="354" y="157" width="2" height="1" fill="#0000ff"/><rect x="356" y="158" width="1" height="1" fill="#0000ff"/><rect x="357" y="159" width="1" height="1" fill="#0000ff"/><rect x="358" y="160" width="2" height="1" fill="#0000ff"/>
<rect x="79" y="231" width="600" height="1" fill="#ff0000"/>
<rect x="0" y="334" width="679" height="1" fill="#ff0000"/>
<rect x="487" y="130" width="102" height="1" fill="#ff0000"/>
<rect x="256" y="106" width="3" height="1" fill="#ff0000"/><rect x="262" y="106" width="3" height="1" fill="#ff0000"/><rect x="268" y="106" width="3" height="1" fill="#ff0000"/><rect x="274" y="106" width="3" height="1" fill="#ff0000"/><rect x="280" y="106" width="3" height="1" fill="#ff0000"/><rect x="286" y="106" width="3" height="1" fill="#ff0000"/><rect x="292" y="106" width="3" height="1" fill="#ff0000"/><rect x="298" y="106" width="3" height="1" fill="#ff0000"/><rect x="304" y="106" width="3" height="1" fill="#ff0000"/><rect x="310" y="106" width="3" height="1" fill="#ff0000"/><rect x="316" y="106" width="3" height="1" fill="#ff0000"/><rect x="322" y="106" width="3" height="1" fill="#ff0000"/><rect x="328" y="106" width="3" height="1" fill="#ff0000"/><rect x="334" y="106" width="3" height="1" fill="#ff0000"/><rect x="340" y="106" width="3" height="1" fill="#ff0000"/><rect x="346" y="106" width="3" height="1" fill="#ff0000"/><rect x="352" y="106" width="3" height="1" fill="#ff0000"/><rect x="358" y="106" width="3" height="1" fill="#ff0000"/><rect x="364" y="106" width="3" height="1" fill="#ff0000"/><rect x="370" y="106" width="3" height="1" fill="#ff0000"/><rect x="376" y="106" width="3" height="1" fill="#ff0000"/><rect x="382" y="106" width="3" height="1" fill="#ff0000"/><rect x="388" y="106" width="3" height="1" fill="#ff0000"/><rect x="394" y="106" width="3" height="1" fill="#ff0000"/><rect x="400" y="106" width="3" height="1" fill="#ff0000"/><rect x="406" y="106" width="3" height="1" fill="#ff0000"/><rect x="412" y="106" width="3" height="1" fill="#ff0000"/><rect x="418" y="106" width="3" height="1" fill="#ff0000"/><rect x="424" y="106" width="3" height="1" fill="#ff0000"/><rect x="430" y="106" width="3" height="1" fill="#ff0000"/><rect x="436" y="106" width="3" height="1" fill="#ff0000"/><rect x="442" y="106" width="3" height="1" fill="#ff0000"/><rect x="448" y="106" width="3" height="1" fill="#ff0000"/><rect x="454" y="106" width="3" height="1" fill="#ff0000"/><rect x="460" y="106" width="3" height="1" fill="#ff0000"/><rect x="466" y="106" width="3" height="1" fill="#ff0000"/><rect x="472" y="106" width="3" height="1" fill="#ff0000"/><rect x="478" y="106" width="3" height="1" fill="#ff0000"/><rect x="484" y="106" width="3" height="1" fill="#ff0000"/><rect x="490" y="106" width="3" height="1" fill="#ff0000"/><rect x="496" y="106" width="3" height="1" fill="#ff0000"/><rect x="502" y="106" width="3" height="1" fill="#ff0000"/><rect x="508" y="106" width="3" height="1" fill="#ff0000"/><rect x="514" y="106" width="3" height="1" fill="#ff0000"/><rect x="520" y="106" width="3" height="1" fill="#ff0000"/><rect x="526" y="106" width="3" height="1" fill="#ff0000"/><rect x="532" y="106" width="3" height="1" fill="#ff0000"/><rect x="538" y="106" width="3" height="1" fill="#ff0000"/><rect x="544" y="106" width="3" height="1" fill="#ff0000"/><rect x="550" y="106" width="3" height="1" fill="#ff0000"/><rect x="556" y="106" width="3" height="1" fill="#ff0000"/><rect x="562" y="106" width="3" height="1" fill="#ff0000"/><rect x="568" y="106" width="3" height="1" fill="#ff0000"/><rect x="574" y="106" width="3" height="1" fill="#ff0000"/><rect x="580" y="106" width="3" height="1" fill="#ff0000"/><rect x="586" y="106" width="3" height="1" fill="#ff0000"/><rect x="592" y="106" width="3" height="1" fill="#ff0000"/><rect x="598" y="106" width="3" height="1" fill="#ff0000"/><rect x="604" y="106" width="3" height="1" fill="#ff0000"/><rect x="610" y="106" width="3" height="1" fill="#ff0000"/><rect x="616" y="106" width="3" height="1" fill="#ff0000"/><rect x="622" y="106" width="3" height="1" fill="#ff0000"/><rect x="628" y="106" width="3" height="1" fill="#ff0000"/><rect x="634" y="106" width="3" height="1" fill="#ff0000"/><rect x="640" y="106" width="3" height="1" fill="#ff0000"/><rect x="646" y="106" width="3" height="1" fill="#ff0000"/><rect x="652" y="106" width="3" height="1" fill="#ff0000"/><rect x="658" y="106" width="3" height="1" fill="#ff0000"/><rect x="664" y="106" width="3" height="1" fill="#ff0000"/><rect x="670" y="106" width="3" height="1" fill="#ff0000"/><rect x="676" y="106" width="3" height="1" fill="#ff0000"/>
<rect x="134" y="174" width="3" height="1" fill="#ff0000"/><rect x="140" y="174" width="3" height="1" fill="#ff0000"/><rect x="146" y="174" width="3" height="1" fill="#ff0000"/><rect x="152" y="174" width="3" height="1" fill="#ff0000"/><rect x="158" y="174" width="3" height="1" fill="#ff0000"/><rect x="164" y="174" width="3" height="1" fill="#ff0000"/><rect x="170" y="174" width="3" height="1" fill="#ff0000"/><rect x="176" y="174" width="3" height="1" fill="#ff0000"/><rect x="182" y="174" width="3" height="1" fill="#ff0000"/><rect x="188" y="174" width="3" height="1" fill="#ff0000"/><rect x="194" y="174" width="3" height="1" fill="#ff0000"/><rect x="200" y="174" width="3" height="1" fill="#ff0000"/><rect x="206" y="174" width="3" height="1" fill="#ff0000"/><rect x="212" y="174" width="3" height="1" fill="#ff0000"/><rect x="218" y="174" width="3" height="1" fill="#ff0000"/><rect x="224" y="174" width="3" height="1" fill="#ff0000"/><rect x="230" y="174" width="3" height="1" fill="#ff0000"/><rect x="236" y="174" width="3" height="1" fill="#ff0000"/><rect x="242" y="174" width="3" height="1" fill="#ff0000"/><rect x="248" y="174" width="3" height="1" fill="#ff0000"/><rect x="254" y="174" width="3" height="1" fill="#ff0000"/><rect x="260" y="174" width="3" height="1" fill="#ff0000"/><rect x="266" y="174" width="3" height="1" fill="#ff0000"/><rect x="272" y="174" width="3" height="1" fill="#ff0000"/><rect x="278" y="174" width="3" height="1" fill="#ff0000"/><rect x="284" y="174" width="3" height="1" fill="#ff0000"/><rect x="290" y="174" width="3" height="1" fill="#ff0000"/><rect x="296" y="174" width="3" height="1" fill="#ff0000"/><rect x="302" y="174" width="3" height="1" fill="#ff0000"/><rect x="308" y="174" width="3" height="1" fill="#ff0000"/><rect x="314" y="174" width="3" height="1" fill="#ff0000"/><rect x="320" y="174" width="3" height="1" fill="#ff0000"/><rect x="326" y="174" width="3" height="1" fill="#ff0000"/><rect x="332" y="174" width="3" height="1" fill="#ff0000"/><rect x="338" y="174" width="3" height="1" fill="#ff0000"/><rect x="344" y="174" width="3" height="1" fill="#ff0000"/><rect x="350" y="174" width="3" height="1" fill="#ff0000"/><rect x="356" y="174" width="3" height="1" fill="#ff0000"/><rect x="362" y="174" width="3" height="1" fill="#ff0000"/><rect x="368" y="174" width="3" height="1" fill="#ff0000"/><rect x="374" y="174" width="3" height="1" fill="#ff0000"/><rect x="380" y="174" width="3" height="1" fill="#ff0000"/><rect x="386" y="174" width="3" height="1" fill="#ff0000"/><rect x="392" y="174" width="3" height="1" fill="#ff0000"/><rect x="398" y="174" width="3" height="1" fill="#ff0000"/><rect x="404" y="174" width="3" height="1" fill="#ff0000"/><rect x="410" y="174" width="3" height="1" fill="#ff0000"/><rect x="416" y="174" width="3" height="1" fill="#ff0000"/><rect x="422" y="174" width="3" height="1" fill="#ff0000"/><rect x="428" y="174" width="3" height="1" fill="#ff0000"/><rect x="434" y="174" width="3" height="1" fill="#ff0000"/><rect x="440" y="174" width="3" height="1" fill="#ff0000"/><rect x="446" y="174" width="3" height="1" fill="#ff0000"/><rect x="452" y="174" width="3" height="1" fill="#ff0000"/><rect x="458" y="174" width="3" height="1" fill="#ff0000"/><rect x="464" y="174" width="3" height="1" fill="#ff0000"/><rect x="470" y="174" width="3" height="1" fill="#ff0000"/><rect x="476" y="174" width="3" height="1" fill="#ff0000"/><rect x="482" y="174" width="3" height="1" fill="#ff0000"/><rect x="488" y="174" width="3" height="1" fill="#ff0000"/><rect x="494" y="174" width="3" height="1" fill="#ff0000"/><rect x="500" y="174" width="3" height="1" fill="#ff0000"/><rect x="506" y="174" width="3" height="1" fill="#ff0000"/><rect x="512" y="174" width="3" height="1" fill="#ff0000"/><rect x="518" y="174" width="3" height="1" fill="#ff0000"/><rect x="524" y="174" width="3" height="1" fill="#ff0000"/><rect x="530" y="174" width="3" height="1" fill="#ff0000"/><rect x="536" y="174" width="3" height="1" fill="#ff0000"/><rect x="542" y="174" width="3" height="1" fill="#ff0000"/><rect x="548" y="174" width="3" height="1" fill="#ff0000"/><rect x="554" y="174" width="3" height="1" fill="#ff0000"/><rect x="560" y="174" width="3" height="1" fill="#ff0000"/><rect x="566" y="174" width="3" height="1" fill="#ff0000"/><rect x="572" y="174" width="3" height="1" fill="#ff0000"/><rect x="578" y="174" width="3" height="1" fill="#ff0000"/><rect x="584" y="174" width="3" height="1" fill="#ff0000"/><rect x="590" y="174" width="3" height="1" fill="#ff0000"/><rect x="596" y="174" width="3" height="1" fill="#ff0000"/><rect x="602" y="174" width="3" height="1" fill="#ff0000"/><rect x="608" y="174" width="3" height="1" fill="#ff0000"/><rect x="614" y="174" width="3" height="1" fill="#ff0000"/><rect x="620" y="174" width="3" height="1" fill="#ff0000"/><rect x="626" y="174" width="3" height="1" fill="#ff0000"/><rect x="632" y="174" width="3" height="1" fill="#ff0000"/><rect x="638" y="174" width="3" height="1" fill="#ff0000"/><rect x="644" y="174" width="3" height="1" fill="#ff0000"/><rect x="650" y="174" width="3" height="1" fill="#ff0000"/><rect x="656" y="174" width="3" height="1" fill="#ff0000"/><rect x="662" y="174" width="3" height="1" fill="#ff0000"/><rect x="668" y="174" width="3" height="1" fill="#ff0000"/><rect x="674" y="174" width="3" height="1" fill="#ff0000"/>
<g><rect x="1" y="324" width="1" height="10" fill="#000"/><rect x="2" y="333" width="1" height="1" fill="#000"/><rect x="0" y="328" width="1" height="1" fill="#000"/><rect x="3" y="325" width="1" height="14" fill="#000"/><rect x="4" y="327" width="1" height="1" fill="#000"/><rect x="2" y="333" width="1" height="1" fill="#000"/><rect x="6" y="321" width="1" height="13" fill="#000"/><rect x="7" y="323" width="1" height="1" fill="#000"/><rect x="5" y="327" width="1" height="1" fill="#000"/><rect x="9" y="322" width="1" height="9" fill="#000"/><rect x="10" y="322" width="1" height="1" fill="#000"/><rect x="8" y="323" width="1" height="1" fill="#000"/><rect x="11" y="313" width="1" height="10" fill="#000"/><rect x="12" y="322" width="1" height="1" fill="#000"/><rect x="10" y="314" width="1" height="1" fill="#000"/><rect x="14" y="315" width="1" height="18" fill="#000"/><rect x="15" y="327" width="1" height="1" fill="#000"/><rect x="13" y="322" width="1" height="1" fill="#000"/><rect x="17" y="327" width="1" height="24" fill="#000"/><rect x="18" y="327" width="1" height="1" fill="#000"/><rect x="16" y="347" width="1" height="1" fill="#000"/><rect x="19" y="319" width="1" height="24" fill="#000"/><rect x="20" y="319" width="1" height="1" fill="#000"/><rect x="18" y="327" width="1" height="1" fill="#000"/><rect x="22" y="312" width="1" height="12" fill="#000"/><rect x="23" y="323" width="1" height="1" fill="#000"/><rect x="21" y="319" width="1" height="1" fill="#000"/><rect x="24" y="314" width="1" height="21" fill="#000"/><rect x="25" y="316" width="1" height="1" fill="#000"/><rect x="23" y="323" width="1" height="1" fill="#000"/><rect x="26" y="313" width="1" height="13" fill="#000"/><rect x="27" y="324" width="1" height="1" fill="#000"/><rect x="25" y="316" width="1" height="1" fill="#000"/><rect x="29" y="316" width="1" height="13" fill="#000"/><rect x="30" y="327" width="1" height="1" fill="#000"/><rect x="28" y="324" width="1" height="1" fill="#000"/><rect x="31" y="316" width="1" height="13" fill="#000"/><rect x="32" y="326" width="1" height="1" fill="#000"/><rect x="30" y="327" width="1" height="1" fill="#000"/><rect x="34" y="321" width="1" height="13" fill="#000"/><rect x="35" y="331" width="1" height="1" fill="#000"/><rect x="33" y="326" width="1" height="1" fill="#000"/><rect x="37" y="319" width="1" height="20" fill="#000"/><rect x="38" y="323" width="1" height="1" fill="#000"/><rect x="36" y="331" width="1" height="1" fill="#000"/><rect x="39" y="310" width="1" height="11" fill="#000"/><rect x="40" y="320" width="1" height="1" fill="#000"/><rect x="38" y="312" width="1" height="1" fill="#000"/><rect x="42" y="312" width="1" height="10" fill="#000"/><rect x="43" y="312" width="1" height="1" fill="#000"/><rect x="41" y="320" width="1" height="1" fill="#000"/><rect x="44" y="305" width="1" height="12" fill="#000"/><rect x="45" y="307" width="1" height="1" fill="#000"/><rect x="43" y="312" width="1" height="1" fill="#000"/><rect x="47" y="296" width="1" height="8" fill="#000"/><rect x="48" y="303" width="1" height="1" fill="#000"/><rect x="46" y="297" width="1" height="1" fill="#000"/><rect x="50" y="294" width="1" height="13" fill="#000"/><rect x="51" y="296" width="1" height="1" fill="#000"/><rect x="49" y="303" width="1" height="1" fill="#000"/><rect x="52" y="274" width="1" height="19" fill="#000"/><rect x="53" y="274" width="1" height="1" fill="#000"/><rect x="51" y="292" width="1" height="1" fill="#000"/><rect x="55" y="269" width="1" height="8" fill="#000"/><rect x="56" y="275" width="1" height="1" fill="#000"/><rect x="54" y="274" width="1" height="1" fill="#000"/><rect x="58" y="271" width="1" height="8" fill="#000"/><rect x="59" y="277" width="1" height="1" fill="#000"/><rect x="57" y="275" width="1" height="1" fill="#000"/><rect x="60" y="271" width="1" height="12" fill="#000"/><rect x="61" y="271" width="1" height="1" fill="#000"/><rect x="59" y="277" width="1" height="1" fill="#000"/><rect x="63" y="268" width="1" height="14" fill="#000"/><rect x="64" y="277" width="1" height="1" fill="#000"/><rect x="62" y="271" width="1" height="1" fill="#000"/><rect x="65" y="268" width="1" height="20" fill="#000"/><rect x="66" y="268" width="1" height="1" fill="#000"/><rect x="64" y="277" width="1" height="1" fill="#000"/><rect x="68" y="257" width="1" height="16" fill="#000"/><rect x="69" y="260" width="1" height="1" fill="#000"/><rect x="67" y="268" width="1" height="1" fill="#000"/><rect x="71" y="256" width="1" height="7" fill="#000"/><rect x="72" y="256" width="1" height="1" fill="#000"/><rect x="70" y="260" width="1" height="1" fill="#000"/><rect x="73" y="245" width="1" height="9" fill="#000"/><rect x="74" y="253" width="1" height="1" fill="#000"/><rect x="72" y="246" width="1" height="1" fill="#000"/><rect x="76" y="250" width="1" height="9" fill="#000"/><rect x="77" y="257" width="1" height="1" fill="#000"/><rect x="75" y="253" width="1" height="1" fill="#000"/><rect x="78" y="253" width="1" height="11" fill="#000"/><rect x="79" y="262" width="1" height="1" fill="#000"/><rect x="77" y="257" width="1" height="1" fill="#000"/><rect x="81" y="257" width="1" height="7" fill="#000"/><rect x="82" y="262" width="1" height="1" fill="#000"/><rect x="80" y="258" width="1" height="1" fill="#000"/><rect x="84" y="257" width="1" height="9" fill="#000"/><rect x="85" y="258" width="1" height="1" fill="#000"/><rect x="83" y="262" width="1" height="1" fill="#000"/><rect x="86" y="244" width="1" height="9" fill="#000"/><rect x="87" y="244" width="1" height="1" fill="#000"/><rect x="85" y="252" width="1" height="1" fill="#000"/><rect x="89" y="242" width="1" height="10" fill="#000"/><rect x="90" y="242" width="1" height="1" fill="#000"/><rect x="88" y="244" width="1" height="1" fill="#000"/><rect x="92" y="241" width="1" height="10" fill="#000"/><rect x="93" y="244" width="1" height="1" fill="#000"/><rect x="91" y="242" width="1" height="1" fill="#000"/><rect x="94" y="236" width="1" height="13" fill="#000"/><rect x="95" y="240" width="1" height="1" fill="#000"/><rect x="93" y="244" width="1" height="1" fill="#000"/><rect x="97" y="233" width="1" height="12" fill="#000"/><rect x="98" y="244" width="1" height="1" fill="#000"/><rect x="96" y="240" width="1" height="1" fill="#000"/><rect x="99" y="235" width="1" height="8" fill="#000"/><rect x="100" y="235" width="1" height="1" fill="#000"/><rect x="98" y="242" width="1" height="1" fill="#000"/><rect x="102" y="232" width="1" height="9" fill="#000"/><rect x="103" y="238" width="1" height="1" fill="#000"/><rect x="101" y="235" width="1" height="1" fill="#000"/><rect x="105" y="232" width="1" height="13" fill="#000"/><rect x="106" y="243" width="1" height="1" fill="#000"/><rect x="104" y="238" width="1" height="1" fill="#000"/><rect x="107" y="237" width="1" height="17" fill="#000"/><rect x="108" y="248" width="1" height="1" fill="#000"/><rect x="106" y="243" width="1" height="1" fill="#000"/><rect x="110" y="246" width="1" height="24" fill="#000"/><rect x="111" y="248" width="1" height="1" fill="#000"/><rect x="109" y="266" width="1" height="1" fill="#000"/><rect x="112" y="242" width="1" height="19" fill="#000"/><rect x="113" y="260" width="1" height="1" fill="#000"/><rect x="111" y="248" width="1" height="1" fill="#000"/><rect x="115" y="245" width="1" height="30" fill="#000"/><rect x="116" y="268" width="1" height="1" fill="#000"/><rect x="114" y="260" width="1" height="1" fill="#000"/><rect x="118" y="267" width="1" height="11" fill="#000"/><rect x="119" y="269" width="1" height="1" fill="#000"/><rect x="117" y="268" width="1" height="1" fill="#000"/><rect x="120" y="246" width="1" height="18" fill="#000"/><rect x="121" y="247" width="1" height="1" fill="#000"/><rect x="119" y="263" width="1" height="1" fill="#000"/><rect x="123" y="242" width="1" height="7" fill="#000"/><rect x="124" y="242" width="1" height="1" fill="#000"/><rect x="122" y="247" width="1" height="1" fill="#000"/><rect x="126" y="234" width="1" height="16" fill="#000"/><rect x="127" y="249" width="1" height="1" fill="#000"/><rect x="125" y="242" width="1" height="1" fill="#000"/><rect x="128" y="253" width="1" height="21" fill="#000"/><rect x="129" y="256" width="1" height="1" fill="#000"/><rect x="127" y="253" width="1" height="1" fill="#000"/><rect x="131" y="249" width="1" height="24" fill="#000"/><rect x="132" y="251" width="1" height="1" fill="#000"/><rect x="130" y="256" width="1" height="1" fill="#000"/><rect x="133" y="235" width="1" height="15" fill="#000"/><rect x="134" y="247" width="1" height="1" fill="#000"/><rect x="132" y="249" width="1" height="1" fill="#000"/><rect x="136" y="235" width="1" height="15" fill="#000"/><rect x="137" y="249" width="1" height="1" fill="#000"/><rect x="135" y="247" width="1" height="1" fill="#000"/><rect x="139" y="228" width="1" height="36" fill="#000"/><rect x="140" y="253" width="1" height="1" fill="#000"/><rect x="138" y="249" width="1" height="1" fill="#000"/><rect x="141" y="255" width="1" height="14" fill="#000"/><rect x="142" y="258" width="1" height="1" fill="#000"/><rect x="140" y="255" width="1" height="1" fill="#000"/><rect x="144" y="230" width="1" height="24" fill="#000"/><rect x="145" y="230" width="1" height="1" fill="#000"/><rect x="143" y="253" width="1" height="1" fill="#000"/><rect x="146" y="202" width="1" height="27" fill="#000"/><rect x="147" y="204" width="1" height="1" fill="#000"/><rect x="145" y="228" width="1" height="1" fill="#000"/><rect x="149" y="197" width="1" height="12" fill="#000"/><rect x="150" y="199" width="1" height="1" fill="#000"/><rect x="148" y="204" width="1" height="1" fill="#000"/><rect x="152" y="190" width="1" height="9" fill="#000"/><rect x="153" y="190" width="1" height="1" fill="#000"/><rect x="151" y="198" width="1" height="1" fill="#000"/><rect x="154" y="176" width="1" height="14" fill="#000"/><rect x="155" y="185" width="1" height="1" fill="#000"/><rect x="153" y="189" width="1" height="1" fill="#000"/><rect x="157" y="181" width="1" height="9" fill="#000"/><rect x="158" y="188" width="1" height="1" fill="#000"/><rect x="156" y="185" width="1" height="1" fill="#000"/><rect x="160" y="181" width="1" height="19" fill="#000"/><rect x="161" y="194" width="1" height="1" fill="#000"/><rect x="159" y="188" width="1" height="1" fill="#000"/><rect x="162" y="190" width="1" height="7" fill="#000"/><rect x="163" y="190" width="1" height="1" fill="#000"/><rect x="161" y="194" width="1" height="1" fill="#000"/><rect x="165" y="182" width="1" height="8" fill="#000"/><rect x="166" y="187" width="1" height="1" fill="#000"/><rect x="164" y="189" width="1" height="1" fill="#000"/><rect x="167" y="182" width="1" height="9" fill="#000"/><rect x="168" y="190" width="1" height="1" fill="#000"/><rect x="166" y="187" width="1" height="1" fill="#000"/><rect x="170" y="182" width="1" height="15" fill="#000"/><rect x="171" y="183" width="1" height="1" fill="#000"/><rect x="169" y="190" width="1" height="1" fill="#000"/><rect x="173" y="180" width="1" height="6" fill="#000"/><rect x="174" y="181" width="1" height="1" fill="#000"/><rect x="172" y="183" width="1" height="1" fill="#000"/><rect x="176" y="176" width="1" height="11" fill="#000"/><rect x="177" y="178" width="1" height="1" fill="#000"/><rect x="175" y="181" width="1" height="1" fill="#000"/><rect x="178" y="174" width="1" height="14" fill="#000"/><rect x="179" y="176" width="1" height="1" fill="#000"/><rect x="177" y="178" width="1" height="1" fill="#000"/><rect x="181" y="162" width="1" height="13" fill="#000"/><rect x="182" y="162" width="1" height="1" fill="#000"/><rect x="180" y="174" width="1" height="1" fill="#000"/><rect x="184" y="158" width="1" height="9" fill="#000"/><rect x="185" y="158" width="1" height="1" fill="#000"/><rect x="183" y="162" width="1" height="1" fill="#000"/><rect x="186" y="157" width="1" height="6" fill="#000"/><rect x="187" y="161" width="1" height="1" fill="#000"/><rect x="185" y="158" width="1" height="1" fill="#000"/><rect x="189" y="159" width="1" height="13" fill="#000"/><rect x="190" y="167" width="1" height="1" fill="#000"/><rect x="188" y="161" width="1" height="1" fill="#000"/><rect x="191" y="163" width="1" height="6" fill="#000"/><rect x="192" y="163" width="1" height="1" fill="#000"/><rect x="190" y="167" width="1" height="1" fill="#000"/><rect x="193" y="161" width="1" height="6" fill="#000"/><rect x="194" y="165" width="1" height="1" fill="#000"/><rect x="192" y="163" width="1" height="1" fill="#000"/><rect x="195" y="160" width="1" height="9" fill="#000"/><rect x="196" y="162" width="1" height="1" fill="#000"/><rect x="194" y="165" width="1" height="1" fill="#000"/><rect x="198" y="149" width="1" height="10" fill="#000"/><rect x="199" y="149" width="1" height="1" fill="#000"/><rect x="197" y="158" width="1" height="1" fill="#000"/><rect x="201" y="150" width="1" height="7" fill="#000"/><rect x="202" y="155" width="1" height="1" fill="#000"/><rect x="200" y="150" width="1" height="1" fill="#000"/><rect x="203" y="153" width="1" height="27" fill="#000"/><rect x="204" y="157" width="1" height="1" fill="#000"/><rect x="202" y="155" width="1" height="1" fill="#000"/><rect x="206" y="155" width="1" height="14" fill="#000"/><rect x="207" y="168" width="1" height="1" fill="#000"/><rect x="205" y="157" width="1" height="1" fill="#000"/><rect x="208" y="159" width="1" height="9" fill="#000"/><rect x="209" y="167" width="1" height="1" fill="#000"/><rect x="207" y="160" width="1" height="1" fill="#000"/><rect x="211" y="168" width="1" height="21" fill="#000"/><rect x="212" y="168" width="1" height="1" fill="#000"/><rect x="210" y="185" width="1" height="1" fill="#000"/><rect x="214" y="159" width="1" height="24" fill="#000"/><rect x="215" y="162" width="1" height="1" fill="#000"/><rect x="213" y="168" width="1" height="1" fill="#000"/><rect x="216" y="136" width="1" height="25" fill="#000"/><rect x="217" y="136" width="1" height="1" fill="#000"/><rect x="215" y="160" width="1" height="1" fill="#000"/><rect x="219" y="135" width="1" height="14" fill="#000"/><rect x="220" y="144" width="1" height="1" fill="#000"/><rect x="218" y="136" width="1" height="1" fill="#000"/><rect x="221" y="139" width="1" height="11" fill="#000"/><rect x="222" y="140" width="1" height="1" fill="#000"/><rect x="220" y="144" width="1" height="1" fill="#000"/><rect x="224" y="139" width="1" height="10" fill="#000"/><rect x="225" y="139" width="1" height="1" fill="#000"/><rect x="223" y="140" width="1" height="1" fill="#000"/><rect x="227" y="129" width="1" height="14" fill="#000"/><rect x="228" y="140" width="1" height="1" fill="#000"/><rect x="226" y="139" width="1" height="1" fill="#000"/><rect x="229" y="130" width="1" height="19" fill="#000"/><rect x="230" y="143" width="1" height="1" fill="#000"/><rect x="228" y="140" width="1" height="1" fill="#000"/><rect x="232" y="146" width="1" height="25" fill="#000"/><rect x="233" y="166" width="1" height="1" fill="#000"/><rect x="231" y="146" width="1" height="1" fill="#000"/><rect x="235" y="154" width="1" height="15" fill="#000"/><rect x="236" y="164" width="1" height="1" fill="#000"/><rect x="234" y="166" width="1" height="1" fill="#000"/><rect x="237" y="158" width="1" height="24" fill="#000"/><rect x="238" y="158" width="1" height="1" fill="#000"/><rect x="236" y="164" width="1" height="1" fill="#000"/><rect x="240" y="162" width="1" height="8" fill="#000"/><rect x="241" y="162" width="1" height="1" fill="#000"/><rect x="239" y="168" width="1" height="1" fill="#000"/><rect x="242" y="148" width="1" height="19" fill="#000"/><rect x="243" y="153" width="1" height="1" fill="#000"/><rect x="241" y="162" width="1" height="1" fill="#000"/><rect x="246" y="136" width="1" height="12" fill="#000"/><rect x="247" y="147" width="1" height="1" fill="#000"/><rect x="245" y="138" width="1" height="1" fill="#000"/><rect x="248" y="135" width="1" height="14" fill="#000"/><rect x="249" y="146" width="1" height="1" fill="#000"/><rect x="247" y="147" width="1" height="1" fill="#000"/><rect x="250" y="149" width="1" height="20" fill="#000"/><rect x="251" y="152" width="1" height="1" fill="#000"/><rect x="249" y="149" width="1" height="1" fill="#000"/><rect x="253" y="143" width="1" height="13" fill="#000"/><rect x="254" y="147" width="1" height="1" fill="#000"/><rect x="252" y="152" width="1" height="1" fill="#000"/><rect x="256" y="134" width="1" height="17" fill="#000"/><rect x="257" y="150" width="1" height="1" fill="#000"/><rect x="255" y="147" width="1" height="1" fill="#000"/><rect x="258" y="141" width="1" height="13" fill="#000"/><rect x="259" y="141" width="1" height="1" fill="#000"/><rect x="257" y="150" width="1" height="1" fill="#000"/><rect x="261" y="136" width="1" height="7" fill="#000"/><rect x="262" y="137" width="1" height="1" fill="#000"/><rect x="260" y="141" width="1" height="1" fill="#000"/><rect x="263" y="124" width="1" height="13" fill="#000"/><rect x="264" y="125" width="1" height="1" fill="#000"/><rect x="262" y="136" width="1" height="1" fill="#000"/><rect x="266" y="114" width="1" height="12" fill="#000"/><rect x="267" y="116" width="1" height="1" fill="#000"/><rect x="265" y="125" width="1" height="1" fill="#000"/><rect x="269" y="109" width="1" height="8" fill="#000"/><rect x="270" y="115" width="1" height="1" fill="#000"/><rect x="268" y="116" width="1" height="1" fill="#000"/><rect x="271" y="114" width="1" height="16" fill="#000"/><rect x="272" y="118" width="1" height="1" fill="#000"/><rect x="270" y="115" width="1" height="1" fill="#000"/><rect x="274" y="111" width="1" height="17" fill="#000"/><rect x="275" y="111" width="1" height="1" fill="#000"/><rect x="273" y="118" width="1" height="1" fill="#000"/><rect x="276" y="104" width="1" height="7" fill="#000"/><rect x="277" y="110" width="1" height="1" fill="#000"/><rect x="275" y="105" width="1" height="1" fill="#000"/><rect x="279" y="106" width="1" height="7" fill="#000"/><rect x="280" y="112" width="1" height="1" fill="#000"/><rect x="278" y="110" width="1" height="1" fill="#000"/><rect x="282" y="105" width="1" height="10" fill="#000"/><rect x="283" y="114" width="1" height="1" fill="#000"/><rect x="281" y="112" width="1" height="1" fill="#000"/><rect x="284" y="108" width="1" height="15" fill="#000"/><rect x="285" y="118" width="1" height="1" fill="#000"/><rect x="283" y="114" width="1" height="1" fill="#000"/><rect x="287" y="114" width="1" height="13" fill="#000"/><rect x="288" y="126" width="1" height="1" fill="#000"/><rect x="286" y="118" width="1" height="1" fill="#000"/><rect x="290" y="116" width="1" height="21" fill="#000"/><rect x="291" y="136" width="1" height="1" fill="#000"/><rect x="289" y="126" width="1" height="1" fill="#000"/><rect x="292" y="136" width="1" height="23" fill="#000"/><rect x="293" y="156" width="1" height="1" fill="#000"/><rect x="291" y="136" width="1" height="1" fill="#000"/><rect x="295" y="143" width="1" height="22" fill="#000"/><rect x="296" y="158" width="1" height="1" fill="#000"/><rect x="294" y="156" width="1" height="1" fill="#000"/><rect x="297" y="164" width="1" height="15" fill="#000"/><rect x="298" y="167" width="1" height="1" fill="#000"/><rect x="296" y="164" width="1" height="1" fill="#000"/><rect x="300" y="151" width="1" height="23" fill="#000"/><rect x="301" y="155" width="1" height="1" fill="#000"/><rect x="299" y="167" width="1" height="1" fill="#000"/><rect x="303" y="139" width="1" height="17" fill="#000"/><rect x="304" y="140" width="1" height="1" fill="#000"/><rect x="302" y="155" width="1" height="1" fill="#000"/><rect x="305" y="124" width="1" height="22" fill="#000"/><rect x="306" y="139" width="1" height="1" fill="#000"/><rect x="304" y="140" width="1" height="1" fill="#000"/><rect x="308" y="146" width="1" height="19" fill="#000"/><rect x="309" y="147" width="1" height="1" fill="#000"/><rect x="307" y="146" width="1" height="1" fill="#000"/><rect x="310" y="146" width="1" height="12" fill="#000"/><rect x="311" y="155" width="1" height="1" fill="#000"/><rect x="309" y="147" width="1" height="1" fill="#000"/><rect x="313" y="143" width="1" height="19" fill="#000"/><rect x="314" y="157" width="1" height="1" fill="#000"/><rect x="312" y="155" width="1" height="1" fill="#000"/><rect x="316" y="144" width="1" height="23" fill="#000"/><rect x="317" y="144" width="1" height="1" fill="#000"/><rect x="315" y="157" width="1" height="1" fill="#000"/><rect x="319" y="145" width="1" height="14" fill="#000"/><rect x="320" y="146" width="1" height="1" fill="#000"/><rect x="318" y="145" width="1" height="1" fill="#000"/><rect x="321" y="132" width="1" height="16" fill="#000"/><rect x="322" y="145" width="1" height="1" fill="#000"/><rect x="320" y="146" width="1" height="1" fill="#000"/><rect x="324" y="144" width="1" height="17" fill="#000"/><rect x="325" y="157" width="1" height="1" fill="#000"/><rect x="323" y="145" width="1" height="1" fill="#000"/><rect x="326" y="163" width="1" height="12" fill="#000"/><rect x="327" y="172" width="1" height="1" fill="#000"/><rect x="325" y="163" width="1" height="1" fill="#000"/><rect x="329" y="179" width="1" height="17" fill="#000"/><rect x="330" y="194" width="1" height="1" fill="#000"/><rect x="328" y="179" width="1" height="1" fill="#000"/><rect x="331" y="208" width="1" height="41" fill="#000"/><rect x="330" y="218" width="1" height="1" fill="#000"/><rect x="334" y="193" width="1" height="34" fill="#000"/><rect x="335" y="226" width="1" height="1" fill="#000"/><rect x="337" y="198" width="1" height="26" fill="#000"/><rect x="338" y="199" width="1" height="1" fill="#000"/><rect x="336" y="223" width="1" height="1" fill="#000"/><rect x="339" y="184" width="1" height="17" fill="#000"/><rect x="340" y="184" width="1" height="1" fill="#000"/><rect x="338" y="199" width="1" height="1" fill="#000"/><rect x="342" y="169" width="1" height="13" fill="#000"/><rect x="343" y="180" width="1" height="1" fill="#000"/><rect x="341" y="181" width="1" height="1" fill="#000"/><rect x="344" y="168" width="1" height="15" fill="#000"/><rect x="345" y="181" width="1" height="1" fill="#000"/><rect x="343" y="180" width="1" height="1" fill="#000"/><rect x="347" y="174" width="1" height="13" fill="#000"/><rect x="348" y="178" width="1" height="1" fill="#000"/><rect x="346" y="181" width="1" height="1" fill="#000"/><rect x="350" y="153" width="1" height="22" fill="#000"/><rect x="351" y="159" width="1" height="1" fill="#000"/><rect x="349" y="174" width="1" height="1" fill="#000"/><rect x="352" y="149" width="1" height="7" fill="#000"/><rect x="353" y="153" width="1" height="1" fill="#000"/><rect x="351" y="155" width="1" height="1" fill="#000"/><rect x="355" y="150" width="1" height="6" fill="#000"/><rect x="356" y="155" width="1" height="1" fill="#000"/><rect x="354" y="153" width="1" height="1" fill="#000"/><rect x="358" y="149" width="1" height="12" fill="#000"/><rect x="359" y="152" width="1" height="1" fill="#000"/><rect x="357" y="155" width="1" height="1" fill="#000"/><rect x="360" y="135" width="1" height="10" fill="#000"/><rect x="361" y="135" width="1" height="1" fill="#000"/><rect x="359" y="144" width="1" height="1" fill="#000"/><rect x="363" y="134" width="1" height="7" fill="#000"/><rect x="364" y="136" width="1" height="1" fill="#000"/><rect x="362" y="135" width="1" height="1" fill="#000"/><rect x="365" y="117" width="1" height="17" fill="#000"/><rect x="366" y="122" width="1" height="1" fill="#000"/><rect x="364" y="133" width="1" height="1" fill="#000"/><rect x="367" y="108" width="1" height="11" fill="#000"/><rect x="368" y="117" width="1" height="1" fill="#000"/><rect x="366" y="118" width="1" height="1" fill="#000"/><rect x="370" y="109" width="1" height="9" fill="#000"/><rect x="371" y="110" width="1" height="1" fill="#000"/><rect x="369" y="117" width="1" height="1" fill="#000"/><rect x="373" y="108" width="1" height="8" fill="#000"/><rect x="374" y="115" width="1" height="1" fill="#000"/><rect x="372" y="110" width="1" height="1" fill="#000"/><rect x="375" y="108" width="1" height="13" fill="#000"/><rect x="376" y="116" width="1" height="1" fill="#000"/><rect x="374" y="115" width="1" height="1" fill="#000"/><rect x="378" y="112" width="1" height="5" fill="#000"/><rect x="379" y="116" width="1" height="1" fill="#000"/><rect x="377" y="116" width="1" height="1" fill="#000"/><rect x="380" y="113" width="1" height="16" fill="#000"/><rect x="381" y="125" width="1" height="1" fill="#000"/><rect x="379" y="116" width="1" height="1" fill="#000"/><rect x="383" y="128" width="1" height="16" fill="#000"/><rect x="384" y="128" width="1" height="1" fill="#000"/><rect x="382" y="141" width="1" height="1" fill="#000"/><rect x="386" y="130" width="1" height="8" fill="#000"/><rect x="387" y="136" width="1" height="1" fill="#000"/><rect x="385" y="130" width="1" height="1" fill="#000"/><rect x="388" y="132" width="1" height="10" fill="#000"/><rect x="389" y="135" width="1" height="1" fill="#000"/><rect x="387" y="136" width="1" height="1" fill="#000"/><rect x="391" y="131" width="1" height="7" fill="#000"/><rect x="392" y="137" width="1" height="1" fill="#000"/><rect x="390" y="135" width="1" height="1" fill="#000"/><rect x="393" y="129" width="1" height="33" fill="#000"/><rect x="394" y="161" width="1" height="1" fill="#000"/><rect x="392" y="137" width="1" height="1" fill="#000"/><rect x="396" y="142" width="1" height="16" fill="#000"/><rect x="397" y="144" width="1" height="1" fill="#000"/><rect x="395" y="157" width="1" height="1" fill="#000"/><rect x="399" y="122" width="1" height="21" fill="#000"/><rect x="400" y="122" width="1" height="1" fill="#000"/><rect x="398" y="142" width="1" height="1" fill="#000"/><rect x="401" y="116" width="1" height="6" fill="#000"/><rect x="402" y="118" width="1" height="1" fill="#000"/><rect x="400" y="121" width="1" height="1" fill="#000"/><rect x="404" y="102" width="1" height="16" fill="#000"/><rect x="405" y="105" width="1" height="1" fill="#000"/><rect x="403" y="117" width="1" height="1" fill="#000"/><rect x="406" y="96" width="1" height="10" fill="#000"/><rect x="407" y="98" width="1" height="1" fill="#000"/><rect x="405" y="105" width="1" height="1" fill="#000"/><rect x="409" y="91" width="1" height="8" fill="#000"/><rect x="410" y="96" width="1" height="1" fill="#000"/><rect x="408" y="98" width="1" height="1" fill="#000"/><rect x="412" y="92" width="1" height="6" fill="#000"/><rect x="413" y="94" width="1" height="1" fill="#000"/><rect x="411" y="96" width="1" height="1" fill="#000"/><rect x="414" y="81" width="1" height="12" fill="#000"/><rect x="415" y="91" width="1" height="1" fill="#000"/><rect x="413" y="92" width="1" height="1" fill="#000"/><rect x="417" y="86" width="1" height="12" fill="#000"/><rect x="418" y="97" width="1" height="1" fill="#000"/><rect x="416" y="91" width="1" height="1" fill="#000"/><rect x="419" y="91" width="1" height="23" fill="#000"/><rect x="420" y="111" width="1" height="1" fill="#000"/><rect x="418" y="97" width="1" height="1" fill="#000"/><rect x="422" y="104" width="1" height="17" fill="#000"/><rect x="423" y="104" width="1" height="1" fill="#000"/><rect x="421" y="111" width="1" height="1" fill="#000"/><rect x="425" y="95" width="1" height="22" fill="#000"/><rect x="426" y="99" width="1" height="1" fill="#000"/><rect x="424" y="104" width="1" height="1" fill="#000"/><rect x="427" y="89" width="1" height="12" fill="#000"/><rect x="428" y="91" width="1" height="1" fill="#000"/><rect x="426" y="99" width="1" height="1" fill="#000"/><rect x="430" y="81" width="1" height="13" fill="#000"/><rect x="431" y="83" width="1" height="1" fill="#000"/><rect x="429" y="91" width="1" height="1" fill="#000"/><rect x="433" y="78" width="1" height="11" fill="#000"/><rect x="434" y="86" width="1" height="1" fill="#000"/><rect x="432" y="83" width="1" height="1" fill="#000"/><rect x="435" y="89" width="1" height="15" fill="#000"/><rect x="436" y="93" width="1" height="1" fill="#000"/><rect x="434" y="89" width="1" height="1" fill="#000"/><rect x="438" y="74" width="1" height="14" fill="#000"/><rect x="439" y="87" width="1" height="1" fill="#000"/><rect x="437" y="76" width="1" height="1" fill="#000"/><rect x="441" y="83" width="1" height="12" fill="#000"/><rect x="442" y="92" width="1" height="1" fill="#000"/><rect x="440" y="87" width="1" height="1" fill="#000"/><rect x="443" y="86" width="1" height="18" fill="#000"/><rect x="444" y="100" width="1" height="1" fill="#000"/><rect x="442" y="92" width="1" height="1" fill="#000"/><rect x="446" y="89" width="1" height="15" fill="#000"/><rect x="447" y="89" width="1" height="1" fill="#000"/><rect x="445" y="100" width="1" height="1" fill="#000"/><rect x="448" y="86" width="1" height="16" fill="#000"/><rect x="449" y="87" width="1" height="1" fill="#000"/><rect x="447" y="89" width="1" height="1" fill="#000"/><rect x="451" y="78" width="1" height="16" fill="#000"/><rect x="452" y="93" width="1" height="1" fill="#000"/><rect x="450" y="87" width="1" height="1" fill="#000"/><rect x="453" y="97" width="1" height="18" fill="#000"/><rect x="454" y="97" width="1" height="1" fill="#000"/><rect x="452" y="111" width="1" height="1" fill="#000"/><rect x="456" y="97" width="1" height="13" fill="#000"/><rect x="457" y="109" width="1" height="1" fill="#000"/><rect x="455" y="97" width="1" height="1" fill="#000"/><rect x="459" y="103" width="1" height="9" fill="#000"/><rect x="460" y="103" width="1" height="1" fill="#000"/><rect x="458" y="109" width="1" height="1" fill="#000"/><rect x="461" y="99" width="1" height="10" fill="#000"/><rect x="462" y="99" width="1" height="1" fill="#000"/><rect x="460" y="103" width="1" height="1" fill="#000"/><rect x="464" y="94" width="1" height="7" fill="#000"/><rect x="465" y="94" width="1" height="1" fill="#000"/><rect x="463" y="99" width="1" height="1" fill="#000"/><rect x="467" y="92" width="1" height="5" fill="#000"/><rect x="468" y="93" width="1" height="1" fill="#000"/><rect x="466" y="94" width="1" height="1" fill="#000"/><rect x="469" y="73" width="1" height="16" fill="#000"/><rect x="470" y="76" width="1" height="1" fill="#000"/><rect x="468" y="88" width="1" height="1" fill="#000"/><rect x="472" y="71" width="1" height="14" fill="#000"/><rect x="473" y="84" width="1" height="1" fill="#000"/><rect x="471" y="76" width="1" height="1" fill="#000"/><rect x="474" y="89" width="1" height="11" fill="#000"/><rect x="475" y="99" width="1" height="1" fill="#000"/><rect x="473" y="89" width="1" height="1" fill="#000"/><rect x="477" y="93" width="1" height="13" fill="#000"/><rect x="478" y="105" width="1" height="1" fill="#000"/><rect x="476" y="99" width="1" height="1" fill="#000"/><rect x="480" y="97" width="1" height="8" fill="#000"/><rect x="481" y="98" width="1" height="1" fill="#000"/><rect x="479" y="104" width="1" height="1" fill="#000"/><rect x="482" y="94" width="1" height="9" fill="#000"/><rect x="483" y="101" width="1" height="1" fill="#000"/><rect x="481" y="98" width="1" height="1" fill="#000"/><rect x="485" y="102" width="1" height="18" fill="#000"/><rect x="486" y="105" width="1" height="1" fill="#000"/><rect x="484" y="102" width="1" height="1" fill="#000"/><rect x="487" y="99" width="1" height="17" fill="#000"/><rect x="488" y="100" width="1" height="1" fill="#000"/><rect x="486" y="105" width="1" height="1" fill="#000"/><rect x="490" y="96" width="1" height="18" fill="#000"/><rect x="491" y="110" width="1" height="1" fill="#000"/><rect x="489" y="100" width="1" height="1" fill="#000"/><rect x="493" y="108" width="1" height="11" fill="#000"/><rect x="494" y="110" width="1" height="1" fill="#000"/><rect x="492" y="116" width="1" height="1" fill="#000"/><rect x="495" y="95" width="1" height="13" fill="#000"/><rect x="496" y="95" width="1" height="1" fill="#000"/><rect x="494" y="107" width="1" height="1" fill="#000"/><rect x="498" y="92" width="1" height="13" fill="#000"/><rect x="499" y="104" width="1" height="1" fill="#000"/><rect x="497" y="95" width="1" height="1" fill="#000"/><rect x="501" y="109" width="1" height="17" fill="#000"/><rect x="502" y="125" width="1" height="1" fill="#000"/><rect x="500" y="109" width="1" height="1" fill="#000"/><rect x="503" y="110" width="1" height="22" fill="#000"/><rect x="504" y="131" width="1" height="1" fill="#000"/><rect x="502" y="125" width="1" height="1" fill="#000"/><rect x="506" y="120" width="1" height="9" fill="#000"/><rect x="507" y="121" width="1" height="1" fill="#000"/><rect x="505" y="128" width="1" height="1" fill="#000"/><rect x="508" y="102" width="1" height="18" fill="#000"/><rect x="509" y="105" width="1" height="1" fill="#000"/><rect x="507" y="119" width="1" height="1" fill="#000"/><rect x="511" y="97" width="1" height="7" fill="#000"/><rect x="512" y="101" width="1" height="1" fill="#000"/><rect x="510" y="103" width="1" height="1" fill="#000"/><rect x="514" y="103" width="1" height="19" fill="#000"/><rect x="515" y="108" width="1" height="1" fill="#000"/><rect x="513" y="103" width="1" height="1" fill="#000"/><rect x="516" y="99" width="1" height="20" fill="#000"/><rect x="517" y="118" width="1" height="1" fill="#000"/><rect x="515" y="108" width="1" height="1" fill="#000"/><rect x="519" y="112" width="1" height="14" fill="#000"/><rect x="520" y="122" width="1" height="1" fill="#000"/><rect x="518" y="118" width="1" height="1" fill="#000"/><rect x="522" y="113" width="1" height="12" fill="#000"/><rect x="523" y="115" width="1" height="1" fill="#000"/><rect x="521" y="122" width="1" height="1" fill="#000"/><rect x="524" y="87" width="1" height="24" fill="#000"/><rect x="525" y="89" width="1" height="1" fill="#000"/><rect x="523" y="110" width="1" height="1" fill="#000"/><rect x="527" y="69" width="1" height="20" fill="#000"/><rect x="528" y="73" width="1" height="1" fill="#000"/><rect x="526" y="88" width="1" height="1" fill="#000"/><rect x="529" y="63" width="1" height="13" fill="#000"/><rect x="530" y="66" width="1" height="1" fill="#000"/><rect x="532" y="52" width="1" height="13" fill="#000"/><rect x="533" y="56" width="1" height="1" fill="#000"/><rect x="534" y="51" width="1" height="7" fill="#000"/><rect x="535" y="54" width="1" height="1" fill="#000"/><rect x="533" y="56" width="1" height="1" fill="#000"/><rect x="536" y="53" width="1" height="8" fill="#000"/><rect x="537" y="58" width="1" height="1" fill="#000"/><rect x="535" y="53" width="1" height="1" fill="#000"/><rect x="539" y="44" width="1" height="15" fill="#000"/><rect x="540" y="45" width="1" height="1" fill="#000"/><rect x="538" y="56" width="1" height="1" fill="#000"/><rect x="542" y="39" width="1" height="22" fill="#000"/><rect x="543" y="58" width="1" height="1" fill="#000"/><rect x="541" y="45" width="1" height="1" fill="#000"/><rect x="544" y="65" width="1" height="29" fill="#000"/><rect x="545" y="85" width="1" height="1" fill="#000"/><rect x="547" y="92" width="1" height="39" fill="#000"/><rect x="548" y="92" width="1" height="1" fill="#000"/><rect x="546" y="124" width="1" height="1" fill="#000"/><rect x="549" y="70" width="1" height="26" fill="#000"/><rect x="550" y="72" width="1" height="1" fill="#000"/><rect x="552" y="74" width="1" height="15" fill="#000"/><rect x="553" y="86" width="1" height="1" fill="#000"/><rect x="555" y="83" width="1" height="17" fill="#000"/><rect x="556" y="87" width="1" height="1" fill="#000"/><rect x="557" y="88" width="1" height="29" fill="#000"/><rect x="558" y="116" width="1" height="1" fill="#000"/><rect x="556" y="88" width="1" height="1" fill="#000"/><rect x="560" y="99" width="1" height="11" fill="#000"/><rect x="561" y="100" width="1" height="1" fill="#000"/><rect x="559" y="109" width="1" height="1" fill="#000"/><rect x="562" y="84" width="1" height="16" fill="#000"/><rect x="563" y="84" width="1" height="1" fill="#000"/><rect x="561" y="99" width="1" height="1" fill="#000"/><rect x="565" y="80" width="1" height="21" fill="#000"/><rect x="566" y="83" width="1" height="1" fill="#000"/><rect x="568" y="72" width="1" height="12" fill="#000"/><rect x="569" y="81" width="1" height="1" fill="#000"/><rect x="567" y="80" width="1" height="1" fill="#000"/><rect x="570" y="72" width="1" height="15" fill="#000"/><rect x="571" y="74" width="1" height="1" fill="#000"/><rect x="573" y="69" width="1" height="25" fill="#000"/><rect x="574" y="88" width="1" height="1" fill="#000"/><rect x="576" y="91" width="1" height="22" fill="#000"/><rect x="577" y="109" width="1" height="1" fill="#000"/><rect x="575" y="91" width="1" height="1" fill="#000"/><rect x="578" y="107" width="1" height="22" fill="#000"/><rect x="579" y="119" width="1" height="1" fill="#000"/><rect x="581" y="113" width="1" height="21" fill="#000"/><rect x="582" y="126" width="1" height="1" fill="#000"/><rect x="580" y="120" width="1" height="1" fill="#000"/><rect x="583" y="98" width="1" height="39" fill="#000"/><rect x="584" y="136" width="1" height="1" fill="#000"/><rect x="586" y="139" width="1" height="45" fill="#000"/><rect x="587" y="180" width="1" height="1" fill="#000"/><rect x="589" y="189" width="1" height="30" fill="#000"/><rect x="590" y="207" width="1" height="1" fill="#000"/><rect x="588" y="193" width="1" height="1" fill="#000"/><rect x="591" y="189" width="1" height="87" fill="#000"/><rect x="592" y="267" width="1" height="1" fill="#000"/><rect x="594" y="239" width="1" height="92" fill="#000"/><rect x="595" y="278" width="1" height="1" fill="#000"/><rect x="593" y="312" width="1" height="1" fill="#000"/><rect x="597" y="273" width="1" height="90" fill="#000"/><rect x="598" y="356" width="1" height="1" fill="#000"/><rect x="596" y="292" width="1" height="1" fill="#000"/><rect x="599" y="321" width="1" height="104" fill="#000"/><rect x="600" y="324" width="1" height="1" fill="#000"/><rect x="602" y="271" width="1" height="93" fill="#000"/><rect x="603" y="357" width="1" height="1" fill="#000"/><rect x="601" y="299" width="1" height="1" fill="#000"/><rect x="604" y="304" width="1" height="66" fill="#000"/><rect x="605" y="306" width="1" height="1" fill="#000"/><rect x="607" y="263" width="1" height="61" fill="#000"/><rect x="608" y="270" width="1" height="1" fill="#000"/><rect x="606" y="302" width="1" height="1" fill="#000"/><rect x="610" y="241" width="1" height="20" fill="#000"/><rect x="611" y="258" width="1" height="1" fill="#000"/><rect x="609" y="256" width="1" height="1" fill="#000"/><rect x="612" y="258" width="1" height="44" fill="#000"/><rect x="613" y="276" width="1" height="1" fill="#000"/><rect x="615" y="273" width="1" height="33" fill="#000"/><rect x="616" y="284" width="1" height="1" fill="#000"/><rect x="614" y="283" width="1" height="1" fill="#000"/><rect x="617" y="294" width="1" height="78" fill="#000"/><rect x="618" y="357" width="1" height="1" fill="#000"/><rect x="620" y="353" width="1" height="61" fill="#000"/><rect x="621" y="374" width="1" height="1" fill="#000"/><rect x="619" y="364" width="1" height="1" fill="#000"/><rect x="623" y="351" width="1" height="36" fill="#000"/><rect x="624" y="372" width="1" height="1" fill="#000"/><rect x="622" y="380" width="1" height="1" fill="#000"/><rect x="625" y="336" width="1" height="40" fill="#000"/><rect x="626" y="364" width="1" height="1" fill="#000"/><rect x="628" y="317" width="1" height="48" fill="#000"/><rect x="629" y="328" width="1" height="1" fill="#000"/><rect x="631" y="298" width="1" height="46" fill="#000"/><rect x="632" y="333" width="1" height="1" fill="#000"/><rect x="630" y="319" width="1" height="1" fill="#000"/><rect x="633" y="333" width="1" height="41" fill="#000"/><rect x="634" y="344" width="1" height="1" fill="#000"/><rect x="636" y="306" width="1" height="26" fill="#000"/><rect x="637" y="314" width="1" height="1" fill="#000"/><rect x="635" y="331" width="1" height="1" fill="#000"/><rect x="638" y="299" width="1" height="24" fill="#000"/><rect x="639" y="309" width="1" height="1" fill="#000"/><rect x="637" y="314" width="1" height="1" fill="#000"/><rect x="641" y="264" width="1" height="42" fill="#000"/><rect x="642" y="273" width="1" height="1" fill="#000"/><rect x="640" y="273" width="1" height="1" fill="#000"/><rect x="644" y="268" width="1" height="31" fill="#000"/><rect x="645" y="274" width="1" height="1" fill="#000"/><rect x="643" y="271" width="1" height="1" fill="#000"/><rect x="646" y="285" width="1" height="42" fill="#000"/><rect x="647" y="317" width="1" height="1" fill="#000"/><rect x="649" y="335" width="1" height="48" fill="#000"/><rect x="650" y="374" width="1" height="1" fill="#000"/></g>
<rect x="0" y="0" width="680" height="1" fill="#000"/>
<rect x="679" y="0" width="1" height="469" fill="#000"/>
<rect x="0" y="468" width="680" height="1" fill="#000"/>
<rect x="31" y="468" width="1" height="17" fill="#000"/>
<rect x="86" y="468" width="1" height="17" fill="#000"/>
<rect x="144" y="468" width="1" height="17" fill="#000"/>
<rect x="198" y="468" width="1" height="17" fill="#000"/>
<rect x="253" y="468" width="1" height="17" fill="#000"/>
<rect x="305" y="468" width="1" height="17" fill="#000"/>
<rect x="365" y="468" width="1" height="17" fill="#000"/>
<rect x="414" y="468" width="1" height="17" fill="#000"/>
<rect x="472" y="468" width="1" height="17" fill="#000"/>
<rect x="529" y="468" width="1" height="17" fill="#000"/>
<rect x="583" y="468" width="1" height="17" fill="#000"/>
<rect x="644" y="468" width="1" height="17" fill="#000"/>
<rect x="9" y="469" width="1" height="4" fill="#000"/>
<rect x="22" y="469" width="1" height="4" fill="#000"/>
<rect x="34" y="469" width="1" height="4" fill="#000"/>
<rect x="47" y="469" width="1" height="4" fill="#000"/>
<rect x="60" y="469" width="1" height="4" fill="#000"/>
<rect x="73" y="469" width="1" height="4" fill="#000"/>
<rect x="99" y="469" width="1" height="4" fill="#000"/>
<rect x="112" y="469" width="1" height="4" fill="#000"/>
<rect x="126" y="469" width="1" height="4" fill="#000"/>
<rect x="139" y="469" width="1" height="4" fill="#000"/>
<rect x="152" y="469" width="1" height="4" fill="#000"/>
<rect x="165" y="469" width="1" height="4" fill="#000"/>
<rect x="178" y="469" width="1" height="4" fill="#000"/>
<rect x="188" y="469" width="1" height="4" fill="#000"/>
<rect x="211" y="469" width="1" height="4" fill="#000"/>
<rect x="224" y="469" width="1" height="4" fill="#000"/>
<rect x="238" y="469" width="1" height="4" fill="#000"/>
<rect x="250" y="469" width="1" height="4" fill="#000"/>
<rect x="263" y="469" width="1" height="4" fill="#000"/>
<rect x="276" y="469" width="1" height="4" fill="#000"/>
<rect x="290" y="469" width="1" height="4" fill="#000"/>
<rect x="303" y="469" width="1" height="4" fill="#000"/>
<rect x="316" y="469" width="1" height="4" fill="#000"/>
<rect x="329" y="469" width="1" height="4" fill="#000"/>
<rect x="342" y="469" width="1" height="4" fill="#000"/>
<rect x="355" y="469" width="1" height="4" fill="#000"/>
<rect x="367" y="469" width="1" height="4" fill="#000"/>
<rect x="380" y="469" width="1" height="4" fill="#000"/>
<rect x="393" y="469" width="1" height="4" fill="#000"/>
<rect x="404" y="469" width="1" height="4" fill="#000"/>
<rect x="427" y="469" width="1" height="4" fill="#000"/>
<rect x="440" y="469" width="1" height="4" fill="#000"/>
<rect x="453" y="469" width="1" height="4" fill="#000"/>
<rect x="467" y="469" width="1" height="4" fill="#000"/>
<rect x="480" y="469" width="1" height="4" fill="#000"/>
<rect x="493" y="469" width="1" height="4" fill="#000"/>
<rect x="506" y="469" width="1" height="4" fill="#000"/>
<rect x="519" y="469" width="1" height="4" fill="#000"/>
<rect x="531" y="469" width="1" height="4" fill="#000"/>
<rect x="544" y="469" width="1" height="4" fill="#000"/>
<rect x="557" y="469" width="1" height="4" fill="#000"/>
<rect x="570" y="469" width="1" height="4" fill="#000"/>
<rect x="597" y="469" width="1" height="4" fill="#000"/>
<rect x="610" y="469" width="1" height="4" fill="#000"/>
<rect x="623" y="469" width="1" height="4" fill="#000"/>
<rect x="636" y="469" width="1" height="4" fill="#000"/>
<rect x="649" y="469" width="1" height="4" fill="#000"/>
<rect x="662" y="469" width="1" height="4" fill="#000"/>
<rect x="675" y="469" width="1" height="4" fill="#000"/>
<rect x="680" y="4" width="3" height="1" fill="#000"/>
<rect x="680" y="14" width="7" height="1" fill="#000"/>
<text x="719.4" y="18.6" font-size="9.4" stroke="#000" stroke-width="0.1" text-anchor="end" textLength="29.6" lengthAdjust="spacing">11500</text>
<rect x="680" y="24" width="3" height="1" fill="#000"/>
<rect x="680" y="34" width="3" height="1" fill="#000"/>
<rect x="680" y="44" width="3" height="1" fill="#000"/>
<rect x="680" y="55" width="3" height="1" fill="#000"/>
<rect x="680" y="65" width="7" height="1" fill="#000"/>
<text x="719.4" y="69.6" font-size="9.4" stroke="#000" stroke-width="0.1" text-anchor="end" textLength="29.6" lengthAdjust="spacing">11000</text>
<rect x="680" y="76" width="3" height="1" fill="#000"/>
<rect x="680" y="86" width="3" height="1" fill="#000"/>
<rect x="680" y="97" width="3" height="1" fill="#000"/>
<rect x="680" y="107" width="3" height="1" fill="#000"/>
<rect x="680" y="119" width="7" height="1" fill="#000"/>
<text x="719.4" y="122.6" font-size="9.4" stroke="#000" stroke-width="0.1" text-anchor="end" textLength="29.6" lengthAdjust="spacing">10500</text>
<rect x="680" y="130" width="3" height="1" fill="#000"/>
<rect x="680" y="141" width="3" height="1" fill="#000"/>
<rect x="680" y="152" width="3" height="1" fill="#000"/>
<rect x="680" y="163" width="3" height="1" fill="#000"/>
<rect x="680" y="174" width="7" height="1" fill="#000"/>
<text x="719.4" y="178.6" font-size="9.4" stroke="#000" stroke-width="0.1" text-anchor="end" textLength="29.6" lengthAdjust="spacing">10000</text>
<rect x="680" y="186" width="3" height="1" fill="#000"/>
<rect x="680" y="198" width="3" height="1" fill="#000"/>
<rect x="680" y="209" width="3" height="1" fill="#000"/>
<rect x="680" y="222" width="3" height="1" fill="#000"/>
<rect x="680" y="234" width="7" height="1" fill="#000"/>
<text x="719.4" y="238.6" font-size="9.4" stroke="#000" stroke-width="0.1" text-anchor="end" textLength="23.5" lengthAdjust="spacing">9500</text>
<rect x="680" y="245" width="3" height="1" fill="#000"/>
<rect x="680" y="258" width="3" height="1" fill="#000"/>
<rect x="680" y="270" width="3" height="1" fill="#000"/>
<rect x="680" y="283" width="3" height="1" fill="#000"/>
<rect x="680" y="296" width="7" height="1" fill="#000"/>
<text x="719.4" y="300.6" font-size="9.4" stroke="#000" stroke-width="0.1" text-anchor="end" textLength="23.5" lengthAdjust="spacing">9000</text>
<rect x="680" y="308" width="3" height="1" fill="#000"/>
<rect x="680" y="321" width="3" height="1" fill="#000"/>
<rect x="680" y="334" width="3" height="1" fill="#000"/>
<rect x="680" y="347" width="3" height="1" fill="#000"/>
<rect x="680" y="361" width="7" height="1" fill="#000"/>
<text x="719.4" y="365.6" font-size="9.4" stroke="#000" stroke-width="0.1" text-anchor="end" textLength="23.5" lengthAdjust="spacing">8500</text>
<rect x="680" y="374" width="3" height="1" fill="#000"/>
<rect x="680" y="388" width="3" height="1" fill="#000"/>
<rect x="680" y="402" width="3" height="1" fill="#000"/>
<rect x="680" y="416" width="3" height="1" fill="#000"/>
<rect x="680" y="431" width="7" height="1" fill="#000"/>
<text x="719.4" y="435.6" font-size="9.4" stroke="#000" stroke-width="0.1" text-anchor="end" textLength="23.5" lengthAdjust="spacing">8000</text>
<rect x="680" y="445" width="3" height="1" fill="#000"/>
<rect x="680" y="460" width="3" height="1" fill="#000"/>
<svg x="0" y="469" width="679" height="16" viewBox="0 469 679 16" overflow="hidden"><text x="28.7" y="482.3" font-size="9.4" stroke="#000" stroke-width="0.12" text-anchor="end" textLength="52" lengthAdjust="spacing">September</text><text x="34.4" y="482.3" font-size="9.4" stroke="#000" stroke-width="0.12" textLength="35.3" lengthAdjust="spacing">October</text><text x="88.6" y="482.3" font-size="9.4" stroke="#000" stroke-width="0.12" textLength="48.3" lengthAdjust="spacing">November</text><text x="147" y="482.3" font-size="9.4" stroke="#000" stroke-width="0.12" textLength="49.7" lengthAdjust="spacing">December</text><text x="200.2" y="482.3" font-size="9.4" stroke="#000" stroke-width="0.12" textLength="22.2" lengthAdjust="spacing">2011</text><text x="255.8" y="482.3" font-size="9.4" stroke="#000" stroke-width="0.12" textLength="40.6" lengthAdjust="spacing">February</text><text x="307.7" y="482.3" font-size="9.4" stroke="#000" stroke-width="0.12" textLength="27.2" lengthAdjust="spacing">March</text><text x="367" y="482.3" font-size="9.4" stroke="#000" stroke-width="0.12" textLength="19.2" lengthAdjust="spacing">April</text><text x="416.9" y="482.3" font-size="9.4" stroke="#000" stroke-width="0.12" textLength="17.8" lengthAdjust="spacing">May</text><text x="473.9" y="482.3" font-size="9.4" stroke="#000" stroke-width="0.12" textLength="22.4" lengthAdjust="spacing">June</text><text x="531.1" y="482.3" font-size="9.4" stroke="#000" stroke-width="0.12" textLength="18.6" lengthAdjust="spacing">July</text><text x="585.4" y="482.3" font-size="9.4" stroke="#000" stroke-width="0.12" textLength="33.4" lengthAdjust="spacing">August</text><text x="646.1" y="482.3" font-size="9.4" stroke="#000" stroke-width="0.12" textLength="50" lengthAdjust="spacing">September</text></svg>
</svg>
</div></body></html>
